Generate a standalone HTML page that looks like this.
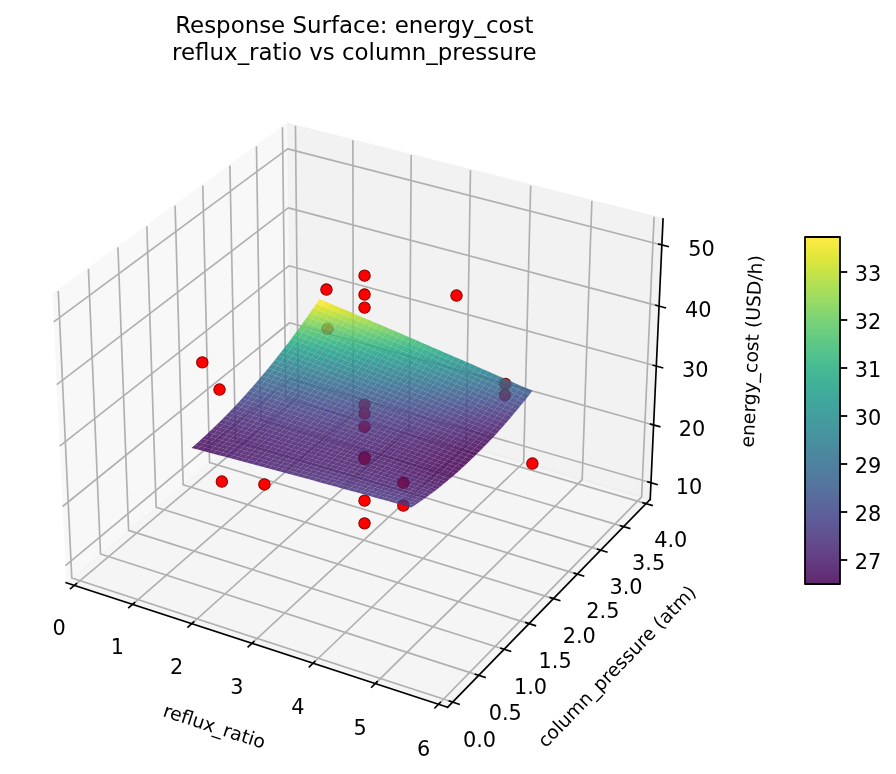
<!DOCTYPE html>
<html lang="en"><head><meta charset="utf-8"><title>Response Surface: energy_cost</title>
<style>html,body{margin:0;padding:0;background:#fff}svg{display:block}</style></head>
<body>
<svg width="896" height="774" viewBox="0 0.024 430.08 371.52" role="img" aria-label="Response Surface: energy_cost, reflux_ratio vs column_pressure">
<defs>
<style type="text/css">*{stroke-linejoin: round; stroke-linecap: butt}</style>
</defs>
<g id="figure_1">
<g id="patch_1">
<path d="M 0 371.592196 L 430.197 371.592196 L 430.197 0 L 0 0z" style="fill: #ffffff"/>
</g>
<g id="patch_2">
<path d="M 7.2 360.053812 L 333.072 360.053812 L 333.072 34.181812 L 7.2 34.181812z" style="fill: #ffffff"/>
</g>
<g id="pane3d_1">
<g id="patch_3">
<path d="M 31.805583 279.704221 L 139.41916 189.500387 L 137.923228 59.410333 L 25.159787 141.699956" style="fill: #f2f2f2; opacity: 0.5; stroke: #f2f2f2; stroke-linejoin: miter"/>
</g>
</g>
<g id="pane3d_2">
<g id="patch_4">
<path d="M 139.41916 189.500387 L 312.100554 239.692051 L 318.262945 105.121194 L 137.923228 59.410333" style="fill: #e6e6e6; opacity: 0.5; stroke: #e6e6e6; stroke-linejoin: miter"/>
</g>
</g>
<g id="pane3d_3">
<g id="patch_5">
<path d="M 31.805583 279.704221 L 214.856295 339.488583 L 312.100554 239.692051 L 139.41916 189.500387" style="fill: #ececec; opacity: 0.5; stroke: #ececec; stroke-linejoin: miter"/>
</g>
</g>
<g id="grid3d_1">
<g id="Line3DCollection_1">
<path d="M 35.74728 280.991579 L 143.153668 190.585861 L 141.815312 60.396863" style="fill: none; stroke: #b0b0b0; stroke-width: 0.8"/>
<path d="M 63.669056 290.110831 L 169.587422 198.269109 L 169.374581 67.382334" style="fill: none; stroke: #b0b0b0; stroke-width: 0.8"/>
<path d="M 92.055416 299.381816 L 196.424476 206.069581 L 197.372538 74.479" style="fill: none; stroke: #b0b0b0; stroke-width: 0.8"/>
<path d="M 120.918054 308.808353 L 223.674132 213.989981 L 225.819742 81.689537" style="fill: none; stroke: #b0b0b0; stroke-width: 0.8"/>
<path d="M 150.269057 318.394391 L 251.345979 222.033094 L 254.727093 89.016707" style="fill: none; stroke: #b0b0b0; stroke-width: 0.8"/>
<path d="M 180.120925 328.144011 L 279.449905 230.201796 L 284.105846 96.463365" style="fill: none; stroke: #b0b0b0; stroke-width: 0.8"/>
<path d="M 210.486591 338.061437 L 307.99611 238.499051 L 313.967627 104.032456" style="fill: none; stroke: #b0b0b0; stroke-width: 0.8"/>
</g>
</g>
<g id="grid3d_2">
<g id="Line3DCollection_2">
<path d="M 27.94867 139.664756 L 34.457261 277.481532 L 217.262805 337.018912" style="fill: none; stroke: #b0b0b0; stroke-width: 0.8"/>
<path d="M 42.435434 129.092976 L 48.239316 265.92914 L 229.76216 324.191499" style="fill: none; stroke: #b0b0b0; stroke-width: 0.8"/>
<path d="M 56.607883 118.750568 L 61.735347 254.616499 L 241.9884 311.644368" style="fill: none; stroke: #b0b0b0; stroke-width: 0.8"/>
<path d="M 70.476138 108.630148 L 74.954168 243.536222 L 253.950381 299.368434" style="fill: none; stroke: #b0b0b0; stroke-width: 0.8"/>
<path d="M 84.049887 98.724643 L 87.904231 232.681222 L 265.656577 287.354997" style="fill: none; stroke: #b0b0b0; stroke-width: 0.8"/>
<path d="M 97.338414 89.027282 L 100.593652 222.044698 L 277.115107 275.595726" style="fill: none; stroke: #b0b0b0; stroke-width: 0.8"/>
<path d="M 110.350615 79.53157 L 113.03022 211.62012 L 288.333747 264.082641" style="fill: none; stroke: #b0b0b0; stroke-width: 0.8"/>
<path d="M 123.095021 70.231283 L 125.221418 201.401216 L 299.319954 252.80809" style="fill: none; stroke: #b0b0b0; stroke-width: 0.8"/>
<path d="M 135.579814 61.12045 L 137.174438 191.381958 L 310.080877 241.764737" style="fill: none; stroke: #b0b0b0; stroke-width: 0.8"/>
</g>
</g>
<g id="grid3d_3">
<g id="Line3DCollection_3">
<path d="M 312.464672 231.740643 L 139.330594 181.798455 L 31.413525 271.56287" style="fill: none; stroke: #b0b0b0; stroke-width: 0.8"/>
<path d="M 313.735172 203.996185 L 139.021738 154.939535 L 30.044922 243.142952" style="fill: none; stroke: #b0b0b0; stroke-width: 0.8"/>
<path d="M 315.029295 175.735837 L 138.707415 127.60523 L 28.649893 214.174272" style="fill: none; stroke: #b0b0b0; stroke-width: 0.8"/>
<path d="M 316.347708 146.945076 L 138.38748 99.782804 L 27.227665 184.640781" style="fill: none; stroke: #b0b0b0; stroke-width: 0.8"/>
<path d="M 317.6911 117.608827 L 138.061779 71.459066 L 25.777434 154.525798" style="fill: none; stroke: #b0b0b0; stroke-width: 0.8"/>
</g>
</g>
<g id="axis3d_1">
<g id="line2d_1">
<path d="M 31.805583 279.704221 L 214.856295 339.488583" style="fill: none; stroke: #000000; stroke-width: 0.8; stroke-linecap: square"/>
</g>
<g id="xtick_1">
<g id="line2d_2">
<path d="M 36.682409 280.204466 L 33.873018 282.569176" style="fill: none; stroke: #000000; stroke-width: 0.8; stroke-linecap: square"/>
</g>
<g id="text_1">
<text style="font-size: 10px; font-family: 'DejaVu Sans', 'Liberation Sans', sans-serif; text-anchor: middle" x="28.41" y="304.874" transform="rotate(-0 28.41 304.874)">0</text>
</g>
</g>
<g id="xtick_2">
<g id="line2d_3">
<path d="M 64.591846 289.31068 L 61.819491 291.714586" style="fill: none; stroke: #000000; stroke-width: 0.8; stroke-linecap: square"/>
</g>
<g id="text_2">
<text style="font-size: 10px; font-family: 'DejaVu Sans', 'Liberation Sans', sans-serif; text-anchor: middle" x="56.354" y="314.15" transform="rotate(-0 56.354 314.15)">1</text>
</g>
</g>
<g id="xtick_3">
<g id="line2d_4">
<path d="M 92.965327 298.568301 L 90.231635 301.012387" style="fill: none; stroke: #000000; stroke-width: 0.8; stroke-linecap: square"/>
</g>
<g id="text_3">
<text style="font-size: 10px; font-family: 'DejaVu Sans', 'Liberation Sans', sans-serif; text-anchor: middle" x="84.765" y="323.582" transform="rotate(-0 84.765 323.582)">2</text>
</g>
</g>
<g id="xtick_4">
<g id="line2d_5">
<path d="M 121.814521 307.981137 L 119.121185 310.466417" style="fill: none; stroke: #000000; stroke-width: 0.8; stroke-linecap: square"/>
</g>
<g id="text_4">
<text style="font-size: 10px; font-family: 'DejaVu Sans', 'Liberation Sans', sans-serif; text-anchor: middle" x="113.655" y="333.172" transform="rotate(-0 113.655 333.172)">3</text>
</g>
</g>
<g id="xtick_5">
<g id="line2d_6">
<path d="M 151.151493 317.553124 L 148.500278 320.080649" style="fill: none; stroke: #000000; stroke-width: 0.8; stroke-linecap: square"/>
</g>
<g id="text_5">
<text style="font-size: 10px; font-family: 'DejaVu Sans', 'Liberation Sans', sans-serif; text-anchor: middle" x="143.034" y="342.925" transform="rotate(-0 143.034 342.925)">4</text>
</g>
</g>
<g id="xtick_6">
<g id="line2d_7">
<path d="M 180.98872 327.288332 L 178.381462 329.85919" style="fill: none; stroke: #000000; stroke-width: 0.8; stroke-linecap: square"/>
</g>
<g id="text_6">
<text style="font-size: 10px; font-family: 'DejaVu Sans', 'Liberation Sans', sans-serif; text-anchor: middle" x="172.917" y="352.845" transform="rotate(-0 172.917 352.845)">5</text>
</g>
</g>
<g id="xtick_7">
<g id="line2d_8">
<path d="M 211.339107 337.190973 L 208.777719 339.806286" style="fill: none; stroke: #000000; stroke-width: 0.8; stroke-linecap: square"/>
</g>
<g id="text_7">
<text style="font-size: 10px; font-family: 'DejaVu Sans', 'Liberation Sans', sans-serif; text-anchor: middle" x="203.315" y="362.937" transform="rotate(-0 203.315 362.937)">6</text>
</g>
</g>
<g id="text_8">
<text style="font-size: 9px; font-family: 'DejaVu Sans', 'Liberation Sans', sans-serif; text-anchor: middle" x="101.951" y="351.596" transform="rotate(-341.913 101.951 351.596)">reflux_ratio</text>
</g>
</g>
<g id="axis3d_2">
<g id="line2d_9">
<path d="M 312.100554 239.692051 L 214.856295 339.488583" style="fill: none; stroke: #000000; stroke-width: 0.8; stroke-linecap: square"/>
</g>
<g id="xtick_8">
<g id="line2d_10">
<path d="M 215.721998 336.517091 L 220.348419 338.023856" style="fill: none; stroke: #000000; stroke-width: 0.8; stroke-linecap: square"/>
</g>
<g id="text_9">
<text style="font-size: 10px; font-family: 'DejaVu Sans', 'Liberation Sans', sans-serif; text-anchor: middle" x="230.189" y="358.765" transform="rotate(-0 230.189 358.765)">0.0</text>
</g>
</g>
<g id="xtick_9">
<g id="line2d_11">
<path d="M 228.233024 323.7007 L 232.824359 325.174355" style="fill: none; stroke: #000000; stroke-width: 0.8; stroke-linecap: square"/>
</g>
<g id="text_10">
<text style="font-size: 10px; font-family: 'DejaVu Sans', 'Liberation Sans', sans-serif; text-anchor: middle" x="242.552" y="345.782" transform="rotate(-0 242.552 345.782)">0.5</text>
</g>
</g>
<g id="xtick_10">
<g id="line2d_12">
<path d="M 240.470795 311.164233 L 245.027465 312.605857" style="fill: none; stroke: #000000; stroke-width: 0.8; stroke-linecap: square"/>
</g>
<g id="text_11">
<text style="font-size: 10px; font-family: 'DejaVu Sans', 'Liberation Sans', sans-serif; text-anchor: middle" x="254.644" y="333.084" transform="rotate(-0 254.644 333.084)">1.0</text>
</g>
</g>
<g id="xtick_11">
<g id="line2d_13">
<path d="M 252.444168 298.898618 L 256.96659 300.309245" style="fill: none; stroke: #000000; stroke-width: 0.8; stroke-linecap: square"/>
</g>
<g id="text_12">
<text style="font-size: 10px; font-family: 'DejaVu Sans', 'Liberation Sans', sans-serif; text-anchor: middle" x="266.475" y="320.659" transform="rotate(-0 266.475 320.659)">1.5</text>
</g>
</g>
<g id="xtick_12">
<g id="line2d_14">
<path d="M 264.161619 286.895172 L 268.650208 288.27579" style="fill: none; stroke: #000000; stroke-width: 0.8; stroke-linecap: square"/>
</g>
<g id="text_13">
<text style="font-size: 10px; font-family: 'DejaVu Sans', 'Liberation Sans', sans-serif; text-anchor: middle" x="278.053" y="308.501" transform="rotate(-0 278.053 308.501)">2.0</text>
</g>
</g>
<g id="xtick_13">
<g id="line2d_15">
<path d="M 275.631267 275.145576 L 280.086435 276.497133" style="fill: none; stroke: #000000; stroke-width: 0.8; stroke-linecap: square"/>
</g>
<g id="text_14">
<text style="font-size: 10px; font-family: 'DejaVu Sans', 'Liberation Sans', sans-serif; text-anchor: middle" x="289.385" y="296.6" transform="rotate(-0 289.385 296.6)">2.5</text>
</g>
</g>
<g id="xtick_14">
<g id="line2d_16">
<path d="M 286.86089 263.641864 L 291.283045 264.965268" style="fill: none; stroke: #000000; stroke-width: 0.8; stroke-linecap: square"/>
</g>
<g id="text_15">
<text style="font-size: 10px; font-family: 'DejaVu Sans', 'Liberation Sans', sans-serif; text-anchor: middle" x="300.481" y="284.948" transform="rotate(-0 300.481 284.948)">3.0</text>
</g>
</g>
<g id="xtick_15">
<g id="line2d_17">
<path d="M 297.857945 252.376396 L 302.247492 253.672518" style="fill: none; stroke: #000000; stroke-width: 0.8; stroke-linecap: square"/>
</g>
<g id="text_16">
<text style="font-size: 10px; font-family: 'DejaVu Sans', 'Liberation Sans', sans-serif; text-anchor: middle" x="311.346" y="273.538" transform="rotate(-0 311.346 273.538)">3.5</text>
</g>
</g>
<g id="xtick_16">
<g id="line2d_18">
<path d="M 308.629583 241.341848 L 312.986922 242.611522" style="fill: none; stroke: #000000; stroke-width: 0.8; stroke-linecap: square"/>
</g>
<g id="text_17">
<text style="font-size: 10px; font-family: 'DejaVu Sans', 'Liberation Sans', sans-serif; text-anchor: middle" x="321.988" y="262.362" transform="rotate(-0 321.988 262.362)">4.0</text>
</g>
</g>
<g id="text_18">
<text style="font-size: 9px; font-family: 'DejaVu Sans', 'Liberation Sans', sans-serif; text-anchor: middle" x="298.293" y="322.047" transform="rotate(-45.742 298.293 322.047)">column_pressure (atm)</text>
</g>
</g>
<g id="axis3d_3">
<g id="line2d_19">
<path d="M 312.100554 239.692051 L 318.262945 105.121194" style="fill: none; stroke: #000000; stroke-width: 0.8; stroke-linecap: square"/>
</g>
<g id="xtick_17">
<g id="line2d_20">
<path d="M 311.011421 231.321439 L 315.374641 232.580052" style="fill: none; stroke: #000000; stroke-width: 0.8; stroke-linecap: square"/>
</g>
<g id="text_19">
<text style="font-size: 10px; font-family: 'DejaVu Sans', 'Liberation Sans', sans-serif; text-anchor: middle" x="330.771" y="236.985" transform="rotate(-0 330.771 236.985)">10</text>
</g>
</g>
<g id="xtick_18">
<g id="line2d_21">
<path d="M 312.26803 203.584236 L 316.672987 204.821075" style="fill: none; stroke: #000000; stroke-width: 0.8; stroke-linecap: square"/>
</g>
<g id="text_20">
<text style="font-size: 10px; font-family: 'DejaVu Sans', 'Liberation Sans', sans-serif; text-anchor: middle" x="332.206" y="209.286" transform="rotate(-0 332.206 209.286)">20</text>
</g>
</g>
<g id="xtick_19">
<g id="line2d_22">
<path d="M 313.547995 175.331487 L 317.995493 176.545521" style="fill: none; stroke: #000000; stroke-width: 0.8; stroke-linecap: square"/>
</g>
<g id="text_21">
<text style="font-size: 10px; font-family: 'DejaVu Sans', 'Liberation Sans', sans-serif; text-anchor: middle" x="333.668" y="181.072" transform="rotate(-0 333.668 181.072)">30</text>
</g>
</g>
<g id="xtick_20">
<g id="line2d_23">
<path d="M 314.851974 146.548683 L 319.342842 147.738834" style="fill: none; stroke: #000000; stroke-width: 0.8; stroke-linecap: square"/>
</g>
<g id="text_22">
<text style="font-size: 10px; font-family: 'DejaVu Sans', 'Liberation Sans', sans-serif; text-anchor: middle" x="335.158" y="152.331" transform="rotate(-0 335.158 152.331)">40</text>
</g>
</g>
<g id="xtick_21">
<g id="line2d_24">
<path d="M 316.180649 117.220767 L 320.71574 118.385907" style="fill: none; stroke: #000000; stroke-width: 0.8; stroke-linecap: square"/>
</g>
<g id="text_23">
<text style="font-size: 10px; font-family: 'DejaVu Sans', 'Liberation Sans', sans-serif; text-anchor: middle" x="336.676" y="123.046" transform="rotate(-0 336.676 123.046)">50</text>
</g>
</g>
<g id="text_24">
<text style="font-size: 9px; font-family: 'DejaVu Sans', 'Liberation Sans', sans-serif; text-anchor: middle" x="363.847" y="168.813" transform="rotate(-87.378 363.847 168.813)">energy_cost (USD/h)</text>
</g>
</g>
<g id="axes_1">
<g id="points" fill="#ff0000" stroke="#8b0000" stroke-width="0.5">
<circle cx="156.7" cy="139.02" r="2.739"/>
<circle cx="157.18" cy="157.85" r="2.739"/>
<circle cx="193.6" cy="231.78" r="2.739"/>
<circle cx="193.6" cy="242.7" r="2.739"/>
<circle cx="242.55" cy="184.31" r="2.739"/>
<circle cx="242.35" cy="189.67" r="2.739"/>
<circle cx="105.37" cy="187" r="2.739"/>
<circle cx="106.48" cy="231.16" r="2.739"/>
<circle cx="97.11" cy="173.97" r="2.739"/>
<circle cx="255.54" cy="222.52" r="2.739"/>
<circle cx="219.12" cy="141.89" r="2.739"/>
<circle cx="126.92" cy="232.55" r="2.739"/>
<circle cx="174.97" cy="132.33" r="2.739"/>
<circle cx="174.97" cy="141.42" r="2.739"/>
<circle cx="174.97" cy="147.68" r="2.739"/>
<circle cx="174.97" cy="194.28" r="2.739"/>
<circle cx="174.97" cy="198.55" r="2.739"/>
<circle cx="174.97" cy="204.88" r="2.739"/>
<circle cx="174.97" cy="219.44" r="2.739"/>
<circle cx="174.97" cy="220.29" r="2.739"/>
<circle cx="174.97" cy="240.33" r="2.739"/>
<circle cx="174.97" cy="251.24" r="2.739"/>
</g>
<g id="surface" fill-opacity="0.85">
<path d="M151.84 145.78 154.4 146.85 155.9 144.64 153.34 143.56z" fill="#fde725"/>
<path d="M154.4 146.85 156.96 147.92 158.47 145.72 155.9 144.64z" fill="#f4e61e"/>
<path d="M156.96 147.92 159.53 148.99 161.03 146.8 158.47 145.72z" fill="#e7e419"/>
<path d="M159.53 148.99 162.1 150.07 163.6 147.89 161.03 146.8z" fill="#dde318"/>
<path d="M162.1 150.07 164.68 151.15 166.18 148.98 163.6 147.89z" fill="#d0e11c"/>
<path d="M164.68 151.15 167.26 152.24 168.75 150.07 166.18 148.98z" fill="#c2df23"/>
<path d="M167.26 152.24 169.84 153.32 171.33 151.17 168.75 150.07z" fill="#b8de29"/>
<path d="M169.84 153.32 172.42 154.41 173.92 152.27 171.33 151.17z" fill="#aadc32"/>
<path d="M172.42 154.41 175.01 155.5 176.5 153.37 173.92 152.27z" fill="#9dd93b"/>
<path d="M175.01 155.5 177.6 156.59 179.09 154.47 176.5 153.37z" fill="#93d741"/>
<path d="M177.6 156.59 180.19 157.69 181.68 155.58 179.09 154.47z" fill="#86d549"/>
<path d="M180.19 157.69 182.79 158.79 184.28 156.68 181.68 155.58z" fill="#7ad151"/>
<path d="M182.79 158.79 185.39 159.89 186.87 157.8 184.28 156.68z" fill="#6ece58"/>
<path d="M185.39 159.89 187.99 160.99 189.48 158.91 186.87 157.8z" fill="#65cb5e"/>
<path d="M187.99 160.99 190.6 162.1 192.08 160.02 189.48 158.91z" fill="#5ac864"/>
<path d="M190.6 162.1 193.21 163.21 194.69 161.14 192.08 160.02z" fill="#50c46a"/>
<path d="M193.21 163.21 195.82 164.32 197.3 162.27 194.69 161.14z" fill="#46c06f"/>
<path d="M195.82 164.32 198.44 165.43 199.91 163.39 197.3 162.27z" fill="#3dbc74"/>
<path d="M198.44 165.43 201.06 166.55 202.53 164.52 199.91 163.39z" fill="#35b779"/>
<path d="M201.06 166.55 203.68 167.67 205.15 165.65 202.53 164.52z" fill="#2fb47c"/>
<path d="M203.68 167.67 206.3 168.79 207.78 166.78 205.15 165.65z" fill="#29af7f"/>
<path d="M206.3 168.79 208.93 169.92 210.4 167.91 207.78 166.78z" fill="#25ab82"/>
<path d="M208.93 169.92 211.57 171.04 213.03 169.05 210.4 167.91z" fill="#21a685"/>
<path d="M211.57 171.04 214.2 172.17 215.67 170.19 213.03 169.05z" fill="#1fa187"/>
<path d="M214.2 172.17 216.84 173.31 218.3 171.33 215.67 170.19z" fill="#1e9d89"/>
<path d="M216.84 173.31 219.48 174.44 220.94 172.48 218.3 171.33z" fill="#1f988b"/>
<path d="M219.48 174.44 222.13 175.58 223.58 173.63 220.94 172.48z" fill="#20938c"/>
<path d="M222.13 175.58 224.77 176.72 226.23 174.78 223.58 173.63z" fill="#218f8d"/>
<path d="M224.77 176.72 227.43 177.87 228.88 175.93 226.23 174.78z" fill="#238a8d"/>
<path d="M227.43 177.87 230.08 179.01 231.53 177.09 228.88 175.93z" fill="#25858e"/>
<path d="M230.08 179.01 232.74 180.16 234.19 178.25 231.53 177.09z" fill="#26818e"/>
<path d="M232.74 180.16 235.4 181.31 236.85 179.41 234.19 178.25z" fill="#287c8e"/>
<path d="M235.4 181.31 238.06 182.47 239.51 180.57 236.85 179.41z" fill="#2a778e"/>
<path d="M238.06 182.47 240.73 183.63 242.17 181.74 239.51 180.57z" fill="#2c728e"/>
<path d="M240.73 183.63 243.4 184.79 244.84 182.91 242.17 181.74z" fill="#2e6e8e"/>
<path d="M243.4 184.79 246.08 185.95 247.51 184.08 244.84 182.91z" fill="#31688e"/>
<path d="M246.08 185.95 248.75 187.11 250.19 185.26 247.51 184.08z" fill="#33638d"/>
<path d="M248.75 187.11 251.43 188.28 252.87 186.44 250.19 185.26z" fill="#355e8d"/>
<path d="M251.43 188.28 254.12 189.45 255.55 187.62 252.87 186.44z" fill="#38598c"/>
<path d="M150.33 147.98 152.89 149.04 154.4 146.85 151.84 145.78z" fill="#dfe318"/>
<path d="M152.89 149.04 155.46 150.1 156.96 147.92 154.4 146.85z" fill="#d5e21a"/>
<path d="M155.46 150.1 158.03 151.17 159.53 148.99 156.96 147.92z" fill="#c8e020"/>
<path d="M158.03 151.17 160.6 152.23 162.1 150.07 159.53 148.99z" fill="#bddf26"/>
<path d="M160.6 152.23 163.18 153.3 164.68 151.15 162.1 150.07z" fill="#b0dd2f"/>
<path d="M163.18 153.3 165.76 154.38 167.26 152.24 164.68 151.15z" fill="#a5db36"/>
<path d="M165.76 154.38 168.34 155.45 169.84 153.32 167.26 152.24z" fill="#98d83e"/>
<path d="M168.34 155.45 170.92 156.53 172.42 154.41 169.84 153.32z" fill="#8ed645"/>
<path d="M170.92 156.53 173.51 157.61 175.01 155.5 172.42 154.41z" fill="#81d34d"/>
<path d="M173.51 157.61 176.1 158.69 177.6 156.59 175.01 155.5z" fill="#77d153"/>
<path d="M176.1 158.69 178.7 159.78 180.19 157.69 177.6 156.59z" fill="#6ccd5a"/>
<path d="M178.7 159.78 181.3 160.87 182.79 158.79 180.19 157.69z" fill="#63cb5f"/>
<path d="M181.3 160.87 183.9 161.96 185.39 159.89 182.79 158.79z" fill="#58c765"/>
<path d="M183.9 161.96 186.51 163.05 187.99 160.99 185.39 159.89z" fill="#4ec36b"/>
<path d="M186.51 163.05 189.11 164.15 190.6 162.1 187.99 160.99z" fill="#46c06f"/>
<path d="M189.11 164.15 191.73 165.25 193.21 163.21 190.6 162.1z" fill="#3dbc74"/>
<path d="M191.73 165.25 194.34 166.35 195.82 164.32 193.21 163.21z" fill="#35b779"/>
<path d="M194.34 166.35 196.96 167.46 198.44 165.43 195.82 164.32z" fill="#2fb47c"/>
<path d="M196.96 167.46 199.58 168.56 201.06 166.55 198.44 165.43z" fill="#29af7f"/>
<path d="M199.58 168.56 202.2 169.67 203.68 167.67 201.06 166.55z" fill="#25ab82"/>
<path d="M202.2 169.67 204.83 170.79 206.3 168.79 203.68 167.67z" fill="#22a785"/>
<path d="M204.83 170.79 207.46 171.9 208.93 169.92 206.3 168.79z" fill="#1fa287"/>
<path d="M207.46 171.9 210.1 173.02 211.57 171.04 208.93 169.92z" fill="#1f9e89"/>
<path d="M210.1 173.02 212.73 174.14 214.2 172.17 211.57 171.04z" fill="#1f998a"/>
<path d="M212.73 174.14 215.37 175.26 216.84 173.31 214.2 172.17z" fill="#1f948c"/>
<path d="M215.37 175.26 218.02 176.39 219.48 174.44 216.84 173.31z" fill="#21918c"/>
<path d="M218.02 176.39 220.66 177.52 222.13 175.58 219.48 174.44z" fill="#228c8d"/>
<path d="M220.66 177.52 223.31 178.65 224.77 176.72 222.13 175.58z" fill="#24878e"/>
<path d="M223.31 178.65 225.97 179.78 227.43 177.87 224.77 176.72z" fill="#26828e"/>
<path d="M225.97 179.78 228.63 180.92 230.08 179.01 227.43 177.87z" fill="#277e8e"/>
<path d="M228.63 180.92 231.29 182.06 232.74 180.16 230.08 179.01z" fill="#29798e"/>
<path d="M231.29 182.06 233.95 183.2 235.4 181.31 232.74 180.16z" fill="#2b748e"/>
<path d="M233.95 183.2 236.62 184.34 238.06 182.47 235.4 181.31z" fill="#2d708e"/>
<path d="M236.62 184.34 239.29 185.49 240.73 183.63 238.06 182.47z" fill="#2f6c8e"/>
<path d="M239.29 185.49 241.96 186.64 243.4 184.79 240.73 183.63z" fill="#31678e"/>
<path d="M241.96 186.64 244.63 187.79 246.08 185.95 243.4 184.79z" fill="#33628d"/>
<path d="M244.63 187.79 247.31 188.95 248.75 187.11 246.08 185.95z" fill="#365d8d"/>
<path d="M247.31 188.95 250 190.11 251.43 188.28 248.75 187.11z" fill="#38588c"/>
<path d="M250 190.11 252.68 191.27 254.12 189.45 251.43 188.28z" fill="#3b528b"/>
<path d="M148.82 150.16 151.38 151.21 152.89 149.04 150.33 147.98z" fill="#c0df25"/>
<path d="M151.38 151.21 153.95 152.26 155.46 150.1 152.89 149.04z" fill="#b5de2b"/>
<path d="M153.95 152.26 156.52 153.32 158.03 151.17 155.46 150.1z" fill="#aadc32"/>
<path d="M156.52 153.32 159.09 154.37 160.6 152.23 158.03 151.17z" fill="#a0da39"/>
<path d="M159.09 154.37 161.67 155.43 163.18 153.3 160.6 152.23z" fill="#93d741"/>
<path d="M161.67 155.43 164.25 156.5 165.76 154.38 163.18 153.3z" fill="#89d548"/>
<path d="M164.25 156.5 166.84 157.56 168.34 155.45 165.76 154.38z" fill="#7cd250"/>
<path d="M166.84 157.56 169.42 158.63 170.92 156.53 168.34 155.45z" fill="#73d056"/>
<path d="M169.42 158.63 172.01 159.7 173.51 157.61 170.92 156.53z" fill="#69cd5b"/>
<path d="M172.01 159.7 174.61 160.78 176.1 158.69 173.51 157.61z" fill="#5ec962"/>
<path d="M174.61 160.78 177.2 161.85 178.7 159.78 176.1 158.69z" fill="#56c667"/>
<path d="M177.2 161.85 179.81 162.93 181.3 160.87 178.7 159.78z" fill="#4cc26c"/>
<path d="M179.81 162.93 182.41 164.01 183.9 161.96 181.3 160.87z" fill="#44bf70"/>
<path d="M182.41 164.01 185.02 165.1 186.51 163.05 183.9 161.96z" fill="#3bbb75"/>
<path d="M185.02 165.1 187.63 166.18 189.11 164.15 186.51 163.05z" fill="#35b779"/>
<path d="M187.63 166.18 190.24 167.27 191.73 165.25 189.11 164.15z" fill="#2eb37c"/>
<path d="M190.24 167.27 192.86 168.36 194.34 166.35 191.73 165.25z" fill="#29af7f"/>
<path d="M192.86 168.36 195.48 169.46 196.96 167.46 194.34 166.35z" fill="#25ab82"/>
<path d="M195.48 169.46 198.1 170.56 199.58 168.56 196.96 167.46z" fill="#22a785"/>
<path d="M198.1 170.56 200.72 171.66 202.2 169.67 199.58 168.56z" fill="#1fa287"/>
<path d="M200.72 171.66 203.35 172.76 204.83 170.79 202.2 169.67z" fill="#1f9f88"/>
<path d="M203.35 172.76 205.99 173.86 207.46 171.9 204.83 170.79z" fill="#1f9a8a"/>
<path d="M205.99 173.86 208.62 174.97 210.1 173.02 207.46 171.9z" fill="#1f968b"/>
<path d="M208.62 174.97 211.26 176.08 212.73 174.14 210.1 173.02z" fill="#20928c"/>
<path d="M211.26 176.08 213.9 177.19 215.37 175.26 212.73 174.14z" fill="#228d8d"/>
<path d="M213.9 177.19 216.55 178.31 218.02 176.39 215.37 175.26z" fill="#23898e"/>
<path d="M216.55 178.31 219.2 179.43 220.66 177.52 218.02 176.39z" fill="#25848e"/>
<path d="M219.2 179.43 221.85 180.55 223.31 178.65 220.66 177.52z" fill="#27808e"/>
<path d="M221.85 180.55 224.51 181.67 225.97 179.78 223.31 178.65z" fill="#297b8e"/>
<path d="M224.51 181.67 227.17 182.8 228.63 180.92 225.97 179.78z" fill="#2a778e"/>
<path d="M227.17 182.8 229.83 183.93 231.29 182.06 228.63 180.92z" fill="#2c728e"/>
<path d="M229.83 183.93 232.5 185.06 233.95 183.2 231.29 182.06z" fill="#2e6e8e"/>
<path d="M232.5 185.06 235.16 186.2 236.62 184.34 233.95 183.2z" fill="#30698e"/>
<path d="M235.16 186.2 237.84 187.34 239.29 185.49 236.62 184.34z" fill="#32658e"/>
<path d="M237.84 187.34 240.51 188.48 241.96 186.64 239.29 185.49z" fill="#34608d"/>
<path d="M240.51 188.48 243.19 189.62 244.63 187.79 241.96 186.64z" fill="#375b8d"/>
<path d="M243.19 189.62 245.87 190.76 247.31 188.95 244.63 187.79z" fill="#39558c"/>
<path d="M245.87 190.76 248.56 191.91 250 190.11 247.31 188.95z" fill="#3c508b"/>
<path d="M248.56 191.91 251.25 193.06 252.68 191.27 250 190.11z" fill="#3e4a89"/>
<path d="M147.3 152.32 149.87 153.36 151.38 151.21 148.82 150.16z" fill="#a2da37"/>
<path d="M149.87 153.36 152.44 154.4 153.95 152.26 151.38 151.21z" fill="#98d83e"/>
<path d="M152.44 154.4 155.01 155.45 156.52 153.32 153.95 152.26z" fill="#8ed645"/>
<path d="M155.01 155.45 157.58 156.49 159.09 154.37 156.52 153.32z" fill="#81d34d"/>
<path d="M157.58 156.49 160.16 157.54 161.67 155.43 159.09 154.37z" fill="#77d153"/>
<path d="M160.16 157.54 162.75 158.6 164.25 156.5 161.67 155.43z" fill="#6ece58"/>
<path d="M162.75 158.6 165.33 159.65 166.84 157.56 164.25 156.5z" fill="#65cb5e"/>
<path d="M165.33 159.65 167.92 160.71 169.42 158.63 166.84 157.56z" fill="#5cc863"/>
<path d="M167.92 160.71 170.51 161.77 172.01 159.7 169.42 158.63z" fill="#52c569"/>
<path d="M170.51 161.77 173.11 162.84 174.61 160.78 172.01 159.7z" fill="#4ac16d"/>
<path d="M173.11 162.84 175.71 163.9 177.2 161.85 174.61 160.78z" fill="#42be71"/>
<path d="M175.71 163.9 178.31 164.97 179.81 162.93 177.2 161.85z" fill="#3bbb75"/>
<path d="M178.31 164.97 180.91 166.04 182.41 164.01 179.81 162.93z" fill="#34b679"/>
<path d="M180.91 166.04 183.52 167.12 185.02 165.1 182.41 164.01z" fill="#2eb37c"/>
<path d="M183.52 167.12 186.13 168.19 187.63 166.18 185.02 165.1z" fill="#29af7f"/>
<path d="M186.13 168.19 188.75 169.27 190.24 167.27 187.63 166.18z" fill="#25ab82"/>
<path d="M188.75 169.27 191.37 170.36 192.86 168.36 190.24 167.27z" fill="#22a785"/>
<path d="M191.37 170.36 193.99 171.44 195.48 169.46 192.86 168.36z" fill="#1fa287"/>
<path d="M193.99 171.44 196.61 172.53 198.1 170.56 195.48 169.46z" fill="#1f9f88"/>
<path d="M196.61 172.53 199.24 173.62 200.72 171.66 198.1 170.56z" fill="#1e9b8a"/>
<path d="M199.24 173.62 201.87 174.71 203.35 172.76 200.72 171.66z" fill="#1f968b"/>
<path d="M201.87 174.71 204.51 175.81 205.99 173.86 203.35 172.76z" fill="#20928c"/>
<path d="M204.51 175.81 207.15 176.9 208.62 174.97 205.99 173.86z" fill="#218e8d"/>
<path d="M207.15 176.9 209.79 178 211.26 176.08 208.62 174.97z" fill="#238a8d"/>
<path d="M209.79 178 212.43 179.11 213.9 177.19 211.26 176.08z" fill="#25858e"/>
<path d="M212.43 179.11 215.08 180.21 216.55 178.31 213.9 177.19z" fill="#26828e"/>
<path d="M215.08 180.21 217.73 181.32 219.2 179.43 216.55 178.31z" fill="#287d8e"/>
<path d="M217.73 181.32 220.39 182.43 221.85 180.55 219.2 179.43z" fill="#29798e"/>
<path d="M220.39 182.43 223.05 183.55 224.51 181.67 221.85 180.55z" fill="#2b748e"/>
<path d="M223.05 183.55 225.71 184.66 227.17 182.8 224.51 181.67z" fill="#2d718e"/>
<path d="M225.71 184.66 228.37 185.78 229.83 183.93 227.17 182.8z" fill="#2f6c8e"/>
<path d="M228.37 185.78 231.04 186.91 232.5 185.06 229.83 183.93z" fill="#31678e"/>
<path d="M231.04 186.91 233.71 188.03 235.16 186.2 232.5 185.06z" fill="#33638d"/>
<path d="M233.71 188.03 236.39 189.16 237.84 187.34 235.16 186.2z" fill="#355e8d"/>
<path d="M236.39 189.16 239.06 190.29 240.51 188.48 237.84 187.34z" fill="#38598c"/>
<path d="M239.06 190.29 241.74 191.42 243.19 189.62 240.51 188.48z" fill="#3a548c"/>
<path d="M241.74 191.42 244.43 192.56 245.87 190.76 243.19 189.62z" fill="#3c4f8a"/>
<path d="M244.43 192.56 247.12 193.7 248.56 191.91 245.87 190.76z" fill="#3e4989"/>
<path d="M247.12 193.7 249.81 194.84 251.25 193.06 248.56 191.91z" fill="#404588"/>
<path d="M145.78 154.46 148.35 155.49 149.87 153.36 147.3 152.32z" fill="#86d549"/>
<path d="M148.35 155.49 150.92 156.52 152.44 154.4 149.87 153.36z" fill="#7cd250"/>
<path d="M150.92 156.52 153.49 157.56 155.01 155.45 152.44 154.4z" fill="#73d056"/>
<path d="M153.49 157.56 156.07 158.59 157.58 156.49 155.01 155.45z" fill="#69cd5b"/>
<path d="M156.07 158.59 158.65 159.63 160.16 157.54 157.58 156.49z" fill="#60ca60"/>
<path d="M158.65 159.63 161.24 160.68 162.75 158.6 160.16 157.54z" fill="#56c667"/>
<path d="M161.24 160.68 163.82 161.72 165.33 159.65 162.75 158.6z" fill="#4ec36b"/>
<path d="M163.82 161.72 166.41 162.77 167.92 160.71 165.33 159.65z" fill="#46c06f"/>
<path d="M166.41 162.77 169.01 163.82 170.51 161.77 167.92 160.71z" fill="#3fbc73"/>
<path d="M169.01 163.82 171.61 164.88 173.11 162.84 170.51 161.77z" fill="#38b977"/>
<path d="M171.61 164.88 174.21 165.93 175.71 163.9 173.11 162.84z" fill="#32b67a"/>
<path d="M174.21 165.93 176.81 166.99 178.31 164.97 175.71 163.9z" fill="#2db27d"/>
<path d="M176.81 166.99 179.42 168.05 180.91 166.04 178.31 164.97z" fill="#28ae80"/>
<path d="M179.42 168.05 182.03 169.12 183.52 167.12 180.91 166.04z" fill="#25ab82"/>
<path d="M182.03 169.12 184.64 170.19 186.13 168.19 183.52 167.12z" fill="#21a685"/>
<path d="M184.64 170.19 187.26 171.25 188.75 169.27 186.13 168.19z" fill="#1fa287"/>
<path d="M187.26 171.25 189.88 172.33 191.37 170.36 188.75 169.27z" fill="#1f9f88"/>
<path d="M189.88 172.33 192.5 173.4 193.99 171.44 191.37 170.36z" fill="#1e9b8a"/>
<path d="M192.5 173.4 195.13 174.48 196.61 172.53 193.99 171.44z" fill="#1f968b"/>
<path d="M195.13 174.48 197.76 175.56 199.24 173.62 196.61 172.53z" fill="#20928c"/>
<path d="M197.76 175.56 200.39 176.64 201.87 174.71 199.24 173.62z" fill="#218f8d"/>
<path d="M200.39 176.64 203.03 177.73 204.51 175.81 201.87 174.71z" fill="#228b8d"/>
<path d="M203.03 177.73 205.67 178.82 207.15 176.9 204.51 175.81z" fill="#24868e"/>
<path d="M205.67 178.82 208.31 179.91 209.79 178 207.15 176.9z" fill="#26828e"/>
<path d="M208.31 179.91 210.96 181 212.43 179.11 209.79 178z" fill="#277f8e"/>
<path d="M210.96 181 213.61 182.1 215.08 180.21 212.43 179.11z" fill="#297a8e"/>
<path d="M213.61 182.1 216.26 183.19 217.73 181.32 215.08 180.21z" fill="#2a768e"/>
<path d="M216.26 183.19 218.92 184.3 220.39 182.43 217.73 181.32z" fill="#2c728e"/>
<path d="M218.92 184.3 221.58 185.4 223.05 183.55 220.39 182.43z" fill="#2e6e8e"/>
<path d="M221.58 185.4 224.24 186.51 225.71 184.66 223.05 183.55z" fill="#306a8e"/>
<path d="M224.24 186.51 226.91 187.62 228.37 185.78 225.71 184.66z" fill="#32658e"/>
<path d="M226.91 187.62 229.58 188.73 231.04 186.91 228.37 185.78z" fill="#34618d"/>
<path d="M229.58 188.73 232.25 189.84 233.71 188.03 231.04 186.91z" fill="#365c8d"/>
<path d="M232.25 189.84 234.93 190.96 236.39 189.16 233.71 188.03z" fill="#38588c"/>
<path d="M234.93 190.96 237.61 192.08 239.06 190.29 236.39 189.16z" fill="#3b528b"/>
<path d="M237.61 192.08 240.3 193.21 241.74 191.42 239.06 190.29z" fill="#3d4e8a"/>
<path d="M240.3 193.21 242.98 194.33 244.43 192.56 241.74 191.42z" fill="#3f4889"/>
<path d="M242.98 194.33 245.67 195.46 247.12 193.7 244.43 192.56z" fill="#414487"/>
<path d="M245.67 195.46 248.37 196.59 249.81 194.84 247.12 193.7z" fill="#433e85"/>
<path d="M144.26 156.58 146.83 157.6 148.35 155.49 145.78 154.46z" fill="#6ccd5a"/>
<path d="M146.83 157.6 149.4 158.62 150.92 156.52 148.35 155.49z" fill="#63cb5f"/>
<path d="M149.4 158.62 151.98 159.65 153.49 157.56 150.92 156.52z" fill="#5ac864"/>
<path d="M151.98 159.65 154.56 160.67 156.07 158.59 153.49 157.56z" fill="#52c569"/>
<path d="M154.56 160.67 157.14 161.7 158.65 159.63 156.07 158.59z" fill="#4ac16d"/>
<path d="M157.14 161.7 159.72 162.74 161.24 160.68 158.65 159.63z" fill="#42be71"/>
<path d="M159.72 162.74 162.31 163.77 163.82 161.72 161.24 160.68z" fill="#3bbb75"/>
<path d="M162.31 163.77 164.9 164.81 166.41 162.77 163.82 161.72z" fill="#35b779"/>
<path d="M164.9 164.81 167.5 165.85 169.01 163.82 166.41 162.77z" fill="#2fb47c"/>
<path d="M167.5 165.85 170.1 166.9 171.61 164.88 169.01 163.82z" fill="#2cb17e"/>
<path d="M170.1 166.9 172.7 167.94 174.21 165.93 171.61 164.88z" fill="#27ad81"/>
<path d="M172.7 167.94 175.31 168.99 176.81 166.99 174.21 165.93z" fill="#24aa83"/>
<path d="M175.31 168.99 177.92 170.05 179.42 168.05 176.81 166.99z" fill="#21a685"/>
<path d="M177.92 170.05 180.53 171.1 182.03 169.12 179.42 168.05z" fill="#1fa287"/>
<path d="M180.53 171.1 183.14 172.16 184.64 170.19 182.03 169.12z" fill="#1f9f88"/>
<path d="M183.14 172.16 185.76 173.22 187.26 171.25 184.64 170.19z" fill="#1f9a8a"/>
<path d="M185.76 173.22 188.38 174.28 189.88 172.33 187.26 171.25z" fill="#1f968b"/>
<path d="M188.38 174.28 191.01 175.34 192.5 173.4 189.88 172.33z" fill="#20928c"/>
<path d="M191.01 175.34 193.64 176.41 195.13 174.48 192.5 173.4z" fill="#218f8d"/>
<path d="M193.64 176.41 196.27 177.48 197.76 175.56 195.13 174.48z" fill="#228b8d"/>
<path d="M196.27 177.48 198.91 178.55 200.39 176.64 197.76 175.56z" fill="#24878e"/>
<path d="M198.91 178.55 201.55 179.63 203.03 177.73 200.39 176.64z" fill="#25838e"/>
<path d="M201.55 179.63 204.19 180.71 205.67 178.82 203.03 177.73z" fill="#27808e"/>
<path d="M204.19 180.71 206.83 181.79 208.31 179.91 205.67 178.82z" fill="#287c8e"/>
<path d="M206.83 181.79 209.48 182.87 210.96 181 208.31 179.91z" fill="#2a778e"/>
<path d="M209.48 182.87 212.13 183.96 213.61 182.1 210.96 181z" fill="#2c738e"/>
<path d="M212.13 183.96 214.79 185.05 216.26 183.19 213.61 182.1z" fill="#2d708e"/>
<path d="M214.79 185.05 217.45 186.14 218.92 184.3 216.26 183.19z" fill="#2f6c8e"/>
<path d="M217.45 186.14 220.11 187.23 221.58 185.4 218.92 184.3z" fill="#31678e"/>
<path d="M220.11 187.23 222.78 188.33 224.24 186.51 221.58 185.4z" fill="#33638d"/>
<path d="M222.78 188.33 225.45 189.43 226.91 187.62 224.24 186.51z" fill="#355f8d"/>
<path d="M225.45 189.43 228.12 190.53 229.58 188.73 226.91 187.62z" fill="#375b8d"/>
<path d="M228.12 190.53 230.79 191.64 232.25 189.84 229.58 188.73z" fill="#39558c"/>
<path d="M230.79 191.64 233.47 192.74 234.93 190.96 232.25 189.84z" fill="#3b518b"/>
<path d="M233.47 192.74 236.16 193.86 237.61 192.08 234.93 190.96z" fill="#3d4d8a"/>
<path d="M236.16 193.86 238.84 194.97 240.3 193.21 237.61 192.08z" fill="#3f4788"/>
<path d="M238.84 194.97 241.53 196.08 242.98 194.33 240.3 193.21z" fill="#414287"/>
<path d="M241.53 196.08 244.23 197.2 245.67 195.46 242.98 194.33z" fill="#433d84"/>
<path d="M244.23 197.2 246.92 198.32 248.37 196.59 245.67 195.46z" fill="#453882"/>
<path d="M142.73 158.68 145.3 159.69 146.83 157.6 144.26 156.58z" fill="#54c568"/>
<path d="M145.3 159.69 147.88 160.7 149.4 158.62 146.83 157.6z" fill="#4cc26c"/>
<path d="M147.88 160.7 150.46 161.72 151.98 159.65 149.4 158.62z" fill="#44bf70"/>
<path d="M150.46 161.72 153.04 162.73 154.56 160.67 151.98 159.65z" fill="#3fbc73"/>
<path d="M153.04 162.73 155.62 163.75 157.14 161.7 154.56 160.67z" fill="#38b977"/>
<path d="M155.62 163.75 158.21 164.78 159.72 162.74 157.14 161.7z" fill="#32b67a"/>
<path d="M158.21 164.78 160.8 165.8 162.31 163.77 159.72 162.74z" fill="#2eb37c"/>
<path d="M160.8 165.8 163.39 166.83 164.9 164.81 162.31 163.77z" fill="#29af7f"/>
<path d="M163.39 166.83 165.99 167.86 167.5 165.85 164.9 164.81z" fill="#25ac82"/>
<path d="M165.99 167.86 168.59 168.9 170.1 166.9 167.5 165.85z" fill="#22a884"/>
<path d="M168.59 168.9 171.19 169.93 172.7 167.94 170.1 166.9z" fill="#20a486"/>
<path d="M171.19 169.93 173.8 170.97 175.31 168.99 172.7 167.94z" fill="#1fa187"/>
<path d="M173.8 170.97 176.41 172.02 177.92 170.05 175.31 168.99z" fill="#1f9e89"/>
<path d="M176.41 172.02 179.03 173.06 180.53 171.1 177.92 170.05z" fill="#1f9a8a"/>
<path d="M179.03 173.06 181.64 174.11 183.14 172.16 180.53 171.1z" fill="#1f968b"/>
<path d="M181.64 174.11 184.26 175.16 185.76 173.22 183.14 172.16z" fill="#20928c"/>
<path d="M184.26 175.16 186.89 176.21 188.38 174.28 185.76 173.22z" fill="#218f8d"/>
<path d="M186.89 176.21 189.52 177.26 191.01 175.34 188.38 174.28z" fill="#228b8d"/>
<path d="M189.52 177.26 192.15 178.32 193.64 176.41 191.01 175.34z" fill="#24878e"/>
<path d="M192.15 178.32 194.78 179.38 196.27 177.48 193.64 176.41z" fill="#25838e"/>
<path d="M194.78 179.38 197.42 180.44 198.91 178.55 196.27 177.48z" fill="#27808e"/>
<path d="M197.42 180.44 200.06 181.51 201.55 179.63 198.91 178.55z" fill="#287c8e"/>
<path d="M200.06 181.51 202.7 182.58 204.19 180.71 201.55 179.63z" fill="#2a788e"/>
<path d="M202.7 182.58 205.35 183.65 206.83 181.79 204.19 180.71z" fill="#2b748e"/>
<path d="M205.35 183.65 208 184.72 209.48 182.87 206.83 181.79z" fill="#2d718e"/>
<path d="M208 184.72 210.66 185.8 212.13 183.96 209.48 182.87z" fill="#2e6d8e"/>
<path d="M210.66 185.8 213.31 186.88 214.79 185.05 212.13 183.96z" fill="#30698e"/>
<path d="M213.31 186.88 215.98 187.96 217.45 186.14 214.79 185.05z" fill="#32658e"/>
<path d="M215.98 187.96 218.64 189.04 220.11 187.23 217.45 186.14z" fill="#34618d"/>
<path d="M218.64 189.04 221.31 190.13 222.78 188.33 220.11 187.23z" fill="#365d8d"/>
<path d="M221.31 190.13 223.98 191.22 225.45 189.43 222.78 188.33z" fill="#38598c"/>
<path d="M223.98 191.22 226.65 192.31 228.12 190.53 225.45 189.43z" fill="#3a548c"/>
<path d="M226.65 192.31 229.33 193.41 230.79 191.64 228.12 190.53z" fill="#3c4f8a"/>
<path d="M229.33 193.41 232.01 194.51 233.47 192.74 230.79 191.64z" fill="#3e4a89"/>
<path d="M232.01 194.51 234.7 195.61 236.16 193.86 233.47 192.74z" fill="#404688"/>
<path d="M234.7 195.61 237.39 196.71 238.84 194.97 236.16 193.86z" fill="#424186"/>
<path d="M237.39 196.71 240.08 197.82 241.53 196.08 238.84 194.97z" fill="#433d84"/>
<path d="M240.08 197.82 242.78 198.92 244.23 197.2 241.53 196.08z" fill="#453781"/>
<path d="M242.78 198.92 245.47 200.04 246.92 198.32 244.23 197.2z" fill="#46327e"/>
<path d="M141.21 160.75 143.78 161.76 145.3 159.69 142.73 158.68z" fill="#3fbc73"/>
<path d="M143.78 161.76 146.35 162.76 147.88 160.7 145.3 159.69z" fill="#3aba76"/>
<path d="M146.35 162.76 148.93 163.76 150.46 161.72 147.88 160.7z" fill="#34b679"/>
<path d="M148.93 163.76 151.51 164.77 153.04 162.73 150.46 161.72z" fill="#2fb47c"/>
<path d="M151.51 164.77 154.1 165.78 155.62 163.75 153.04 162.73z" fill="#2ab07f"/>
<path d="M154.1 165.78 156.69 166.8 158.21 164.78 155.62 163.75z" fill="#27ad81"/>
<path d="M156.69 166.8 159.28 167.81 160.8 165.8 158.21 164.78z" fill="#24aa83"/>
<path d="M159.28 167.81 161.88 168.83 163.39 166.83 160.8 165.8z" fill="#22a785"/>
<path d="M161.88 168.83 164.47 169.85 165.99 167.86 163.39 166.83z" fill="#20a386"/>
<path d="M164.47 169.85 167.08 170.88 168.59 168.9 165.99 167.86z" fill="#1fa088"/>
<path d="M167.08 170.88 169.68 171.9 171.19 169.93 168.59 168.9z" fill="#1e9d89"/>
<path d="M169.68 171.9 172.29 172.93 173.8 170.97 171.19 169.93z" fill="#1f998a"/>
<path d="M172.29 172.93 174.9 173.97 176.41 172.02 173.8 170.97z" fill="#1f958b"/>
<path d="M174.9 173.97 177.52 175 179.03 173.06 176.41 172.02z" fill="#20928c"/>
<path d="M177.52 175 180.14 176.04 181.64 174.11 179.03 173.06z" fill="#218f8d"/>
<path d="M180.14 176.04 182.76 177.08 184.26 175.16 181.64 174.11z" fill="#228b8d"/>
<path d="M182.76 177.08 185.39 178.12 186.89 176.21 184.26 175.16z" fill="#24878e"/>
<path d="M185.39 178.12 188.02 179.16 189.52 177.26 186.89 176.21z" fill="#25838e"/>
<path d="M188.02 179.16 190.65 180.21 192.15 178.32 189.52 177.26z" fill="#26818e"/>
<path d="M190.65 180.21 193.29 181.26 194.78 179.38 192.15 178.32z" fill="#287d8e"/>
<path d="M193.29 181.26 195.93 182.32 197.42 180.44 194.78 179.38z" fill="#29798e"/>
<path d="M195.93 182.32 198.57 183.37 200.06 181.51 197.42 180.44z" fill="#2b758e"/>
<path d="M198.57 183.37 201.22 184.43 202.7 182.58 200.06 181.51z" fill="#2c718e"/>
<path d="M201.22 184.43 203.87 185.49 205.35 183.65 202.7 182.58z" fill="#2e6f8e"/>
<path d="M203.87 185.49 206.52 186.55 208 184.72 205.35 183.65z" fill="#2f6b8e"/>
<path d="M206.52 186.55 209.18 187.62 210.66 185.8 208 184.72z" fill="#31678e"/>
<path d="M209.18 187.62 211.84 188.69 213.31 186.88 210.66 185.8z" fill="#33638d"/>
<path d="M211.84 188.69 214.5 189.76 215.98 187.96 213.31 186.88z" fill="#355f8d"/>
<path d="M214.5 189.76 217.17 190.84 218.64 189.04 215.98 187.96z" fill="#375b8d"/>
<path d="M217.17 190.84 219.84 191.91 221.31 190.13 218.64 189.04z" fill="#39568c"/>
<path d="M219.84 191.91 222.51 192.99 223.98 191.22 221.31 190.13z" fill="#3b528b"/>
<path d="M222.51 192.99 225.19 194.07 226.65 192.31 223.98 191.22z" fill="#3d4e8a"/>
<path d="M225.19 194.07 227.87 195.16 229.33 193.41 226.65 192.31z" fill="#3e4989"/>
<path d="M227.87 195.16 230.55 196.25 232.01 194.51 229.33 193.41z" fill="#404588"/>
<path d="M230.55 196.25 233.24 197.34 234.7 195.61 232.01 194.51z" fill="#424086"/>
<path d="M233.24 197.34 235.93 198.43 237.39 196.71 234.7 195.61z" fill="#443b84"/>
<path d="M235.93 198.43 238.62 199.53 240.08 197.82 237.39 196.71z" fill="#453781"/>
<path d="M238.62 199.53 241.32 200.63 242.78 198.92 240.08 197.82z" fill="#46327e"/>
<path d="M241.32 200.63 244.02 201.73 245.47 200.04 242.78 198.92z" fill="#472d7b"/>
<path d="M139.67 162.81 142.25 163.8 143.78 161.76 141.21 160.75z" fill="#2fb47c"/>
<path d="M142.25 163.8 144.82 164.8 146.35 162.76 143.78 161.76z" fill="#2cb17e"/>
<path d="M144.82 164.8 147.4 165.79 148.93 163.76 146.35 162.76z" fill="#28ae80"/>
<path d="M147.4 165.79 149.99 166.79 151.51 164.77 148.93 163.76z" fill="#25ab82"/>
<path d="M149.99 166.79 152.58 167.79 154.1 165.78 151.51 164.77z" fill="#22a884"/>
<path d="M152.58 167.79 155.17 168.8 156.69 166.8 154.1 165.78z" fill="#20a486"/>
<path d="M155.17 168.8 157.76 169.8 159.28 167.81 156.69 166.8z" fill="#1fa187"/>
<path d="M157.76 169.8 160.36 170.81 161.88 168.83 159.28 167.81z" fill="#1f9f88"/>
<path d="M160.36 170.81 162.96 171.82 164.47 169.85 161.88 168.83z" fill="#1e9b8a"/>
<path d="M162.96 171.82 165.56 172.84 167.08 170.88 164.47 169.85z" fill="#1f988b"/>
<path d="M165.56 172.84 168.17 173.85 169.68 171.9 167.08 170.88z" fill="#1f948c"/>
<path d="M168.17 173.85 170.78 174.87 172.29 172.93 169.68 171.9z" fill="#20928c"/>
<path d="M170.78 174.87 173.39 175.9 174.9 173.97 172.29 172.93z" fill="#218e8d"/>
<path d="M173.39 175.9 176.01 176.92 177.52 175 174.9 173.97z" fill="#238a8d"/>
<path d="M176.01 176.92 178.63 177.95 180.14 176.04 177.52 175z" fill="#24878e"/>
<path d="M178.63 177.95 181.26 178.98 182.76 177.08 180.14 176.04z" fill="#25838e"/>
<path d="M181.26 178.98 183.89 180.01 185.39 178.12 182.76 177.08z" fill="#26818e"/>
<path d="M183.89 180.01 186.52 181.04 188.02 179.16 185.39 178.12z" fill="#287d8e"/>
<path d="M186.52 181.04 189.15 182.08 190.65 180.21 188.02 179.16z" fill="#29798e"/>
<path d="M189.15 182.08 191.79 183.12 193.29 181.26 190.65 180.21z" fill="#2a768e"/>
<path d="M191.79 183.12 194.43 184.17 195.93 182.32 193.29 181.26z" fill="#2c728e"/>
<path d="M194.43 184.17 197.08 185.21 198.57 183.37 195.93 182.32z" fill="#2e6f8e"/>
<path d="M197.08 185.21 199.72 186.26 201.22 184.43 198.57 183.37z" fill="#2f6c8e"/>
<path d="M199.72 186.26 202.38 187.31 203.87 185.49 201.22 184.43z" fill="#31688e"/>
<path d="M202.38 187.31 205.03 188.36 206.52 186.55 203.87 185.49z" fill="#32648e"/>
<path d="M205.03 188.36 207.69 189.42 209.18 187.62 206.52 186.55z" fill="#34608d"/>
<path d="M207.69 189.42 210.35 190.48 211.84 188.69 209.18 187.62z" fill="#365d8d"/>
<path d="M210.35 190.48 213.02 191.54 214.5 189.76 211.84 188.69z" fill="#38598c"/>
<path d="M213.02 191.54 215.69 192.61 217.17 190.84 214.5 189.76z" fill="#3a548c"/>
<path d="M215.69 192.61 218.36 193.67 219.84 191.91 217.17 190.84z" fill="#3c508b"/>
<path d="M218.36 193.67 221.04 194.74 222.51 192.99 219.84 191.91z" fill="#3e4c8a"/>
<path d="M221.04 194.74 223.72 195.82 225.19 194.07 222.51 192.99z" fill="#3f4889"/>
<path d="M223.72 195.82 226.4 196.89 227.87 195.16 225.19 194.07z" fill="#414487"/>
<path d="M226.4 196.89 229.09 197.97 230.55 196.25 227.87 195.16z" fill="#423f85"/>
<path d="M229.09 197.97 231.78 199.05 233.24 197.34 230.55 196.25z" fill="#443a83"/>
<path d="M231.78 199.05 234.47 200.13 235.93 198.43 233.24 197.34z" fill="#453581"/>
<path d="M234.47 200.13 237.17 201.22 238.62 199.53 235.93 198.43z" fill="#46307e"/>
<path d="M237.17 201.22 239.87 202.31 241.32 200.63 238.62 199.53z" fill="#472c7a"/>
<path d="M239.87 202.31 242.57 203.4 244.02 201.73 241.32 200.63z" fill="#482677"/>
<path d="M138.14 164.85 140.71 165.83 142.25 163.8 139.67 162.81z" fill="#25ac82"/>
<path d="M140.71 165.83 143.29 166.82 144.82 164.8 142.25 163.8z" fill="#22a884"/>
<path d="M143.29 166.82 145.87 167.8 147.4 165.79 144.82 164.8z" fill="#21a585"/>
<path d="M145.87 167.8 148.46 168.79 149.99 166.79 147.4 165.79z" fill="#1fa287"/>
<path d="M148.46 168.79 151.05 169.78 152.58 167.79 149.99 166.79z" fill="#1fa088"/>
<path d="M151.05 169.78 153.64 170.78 155.17 168.8 152.58 167.79z" fill="#1e9c89"/>
<path d="M153.64 170.78 156.24 171.77 157.76 169.8 155.17 168.8z" fill="#1f998a"/>
<path d="M156.24 171.77 158.83 172.77 160.36 170.81 157.76 169.8z" fill="#1f968b"/>
<path d="M158.83 172.77 161.44 173.77 162.96 171.82 160.36 170.81z" fill="#20928c"/>
<path d="M161.44 173.77 164.04 174.78 165.56 172.84 162.96 171.82z" fill="#21908d"/>
<path d="M164.04 174.78 166.65 175.78 168.17 173.85 165.56 172.84z" fill="#228d8d"/>
<path d="M166.65 175.78 169.26 176.79 170.78 174.87 168.17 173.85z" fill="#23898e"/>
<path d="M169.26 176.79 171.88 177.8 173.39 175.9 170.78 174.87z" fill="#24868e"/>
<path d="M171.88 177.8 174.5 178.82 176.01 176.92 173.39 175.9z" fill="#25838e"/>
<path d="M174.5 178.82 177.12 179.84 178.63 177.95 176.01 176.92z" fill="#27808e"/>
<path d="M177.12 179.84 179.75 180.86 181.26 178.98 178.63 177.95z" fill="#287d8e"/>
<path d="M179.75 180.86 182.38 181.88 183.89 180.01 181.26 178.98z" fill="#29798e"/>
<path d="M182.38 181.88 185.01 182.9 186.52 181.04 183.89 180.01z" fill="#2a768e"/>
<path d="M185.01 182.9 187.65 183.93 189.15 182.08 186.52 181.04z" fill="#2c728e"/>
<path d="M187.65 183.93 190.29 184.96 191.79 183.12 189.15 182.08z" fill="#2d708e"/>
<path d="M190.29 184.96 192.93 186 194.43 184.17 191.79 183.12z" fill="#2f6c8e"/>
<path d="M192.93 186 195.58 187.03 197.08 185.21 194.43 184.17z" fill="#30698e"/>
<path d="M195.58 187.03 198.23 188.07 199.72 186.26 197.08 185.21z" fill="#32658e"/>
<path d="M198.23 188.07 200.88 189.11 202.38 187.31 199.72 186.26z" fill="#33628d"/>
<path d="M200.88 189.11 203.54 190.15 205.03 188.36 202.38 187.31z" fill="#355e8d"/>
<path d="M203.54 190.15 206.2 191.2 207.69 189.42 205.03 188.36z" fill="#375b8d"/>
<path d="M206.2 191.2 208.87 192.25 210.35 190.48 207.69 189.42z" fill="#39568c"/>
<path d="M208.87 192.25 211.54 193.3 213.02 191.54 210.35 190.48z" fill="#3b528b"/>
<path d="M211.54 193.3 214.21 194.36 215.69 192.61 213.02 191.54z" fill="#3c4f8a"/>
<path d="M214.21 194.36 216.88 195.41 218.36 193.67 215.69 192.61z" fill="#3e4a89"/>
<path d="M216.88 195.41 219.56 196.47 221.04 194.74 218.36 193.67z" fill="#404688"/>
<path d="M219.56 196.47 222.24 197.54 223.72 195.82 221.04 194.74z" fill="#414287"/>
<path d="M222.24 197.54 224.93 198.6 226.4 196.89 223.72 195.82z" fill="#433e85"/>
<path d="M224.93 198.6 227.62 199.67 229.09 197.97 226.4 196.89z" fill="#443983"/>
<path d="M227.62 199.67 230.31 200.74 231.78 199.05 229.09 197.97z" fill="#463480"/>
<path d="M230.31 200.74 233.01 201.81 234.47 200.13 231.78 199.05z" fill="#46307e"/>
<path d="M233.01 201.81 235.71 202.89 237.17 201.22 234.47 200.13z" fill="#472c7a"/>
<path d="M235.71 202.89 238.41 203.97 239.87 202.31 237.17 201.22z" fill="#482677"/>
<path d="M238.41 203.97 241.12 205.05 242.57 203.4 239.87 202.31z" fill="#482173"/>
<path d="M136.6 166.87 139.18 167.84 140.71 165.83 138.14 164.85z" fill="#1fa287"/>
<path d="M139.18 167.84 141.76 168.81 143.29 166.82 140.71 165.83z" fill="#1fa088"/>
<path d="M141.76 168.81 144.34 169.79 145.87 167.8 143.29 166.82z" fill="#1e9d89"/>
<path d="M144.34 169.79 146.93 170.77 148.46 168.79 145.87 167.8z" fill="#1f9a8a"/>
<path d="M146.93 170.77 149.52 171.75 151.05 169.78 148.46 168.79z" fill="#1f978b"/>
<path d="M149.52 171.75 152.11 172.73 153.64 170.78 151.05 169.78z" fill="#1f948c"/>
<path d="M152.11 172.73 154.71 173.72 156.24 171.77 153.64 170.78z" fill="#20928c"/>
<path d="M154.71 173.72 157.31 174.71 158.83 172.77 156.24 171.77z" fill="#218e8d"/>
<path d="M157.31 174.71 159.91 175.7 161.44 173.77 158.83 172.77z" fill="#228b8d"/>
<path d="M159.91 175.7 162.52 176.69 164.04 174.78 161.44 173.77z" fill="#23888e"/>
<path d="M162.52 176.69 165.13 177.69 166.65 175.78 164.04 174.78z" fill="#25858e"/>
<path d="M165.13 177.69 167.75 178.69 169.26 176.79 166.65 175.78z" fill="#26828e"/>
<path d="M167.75 178.69 170.36 179.69 171.88 177.8 169.26 176.79z" fill="#277f8e"/>
<path d="M170.36 179.69 172.98 180.7 174.5 178.82 171.88 177.8z" fill="#287c8e"/>
<path d="M172.98 180.7 175.61 181.71 177.12 179.84 174.5 178.82z" fill="#29798e"/>
<path d="M175.61 181.71 178.24 182.72 179.75 180.86 177.12 179.84z" fill="#2a768e"/>
<path d="M178.24 182.72 180.87 183.73 182.38 181.88 179.75 180.86z" fill="#2c728e"/>
<path d="M180.87 183.73 183.51 184.74 185.01 182.9 182.38 181.88z" fill="#2d708e"/>
<path d="M183.51 184.74 186.14 185.76 187.65 183.93 185.01 182.9z" fill="#2e6d8e"/>
<path d="M186.14 185.76 188.79 186.78 190.29 184.96 187.65 183.93z" fill="#30698e"/>
<path d="M188.79 186.78 191.43 187.8 192.93 186 190.29 184.96z" fill="#31668e"/>
<path d="M191.43 187.8 194.08 188.83 195.58 187.03 192.93 186z" fill="#33638d"/>
<path d="M194.08 188.83 196.73 189.86 198.23 188.07 195.58 187.03z" fill="#355f8d"/>
<path d="M196.73 189.86 199.39 190.89 200.88 189.11 198.23 188.07z" fill="#365c8d"/>
<path d="M199.39 190.89 202.05 191.92 203.54 190.15 200.88 189.11z" fill="#38588c"/>
<path d="M202.05 191.92 204.71 192.96 206.2 191.2 203.54 190.15z" fill="#3a548c"/>
<path d="M204.71 192.96 207.38 194 208.87 192.25 206.2 191.2z" fill="#3c508b"/>
<path d="M207.38 194 210.05 195.04 211.54 193.3 208.87 192.25z" fill="#3d4d8a"/>
<path d="M210.05 195.04 212.72 196.09 214.21 194.36 211.54 193.3z" fill="#3f4889"/>
<path d="M212.72 196.09 215.4 197.13 216.88 195.41 214.21 194.36z" fill="#404588"/>
<path d="M215.4 197.13 218.08 198.18 219.56 196.47 216.88 195.41z" fill="#424086"/>
<path d="M218.08 198.18 220.77 199.23 222.24 197.54 219.56 196.47z" fill="#433d84"/>
<path d="M220.77 199.23 223.45 200.29 224.93 198.6 222.24 197.54z" fill="#453882"/>
<path d="M223.45 200.29 226.15 201.35 227.62 199.67 224.93 198.6z" fill="#463480"/>
<path d="M226.15 201.35 228.84 202.41 230.31 200.74 227.62 199.67z" fill="#472f7d"/>
<path d="M228.84 202.41 231.54 203.47 233.01 201.81 230.31 200.74z" fill="#472c7a"/>
<path d="M231.54 203.47 234.24 204.54 235.71 202.89 233.01 201.81z" fill="#482677"/>
<path d="M234.24 204.54 236.95 205.61 238.41 203.97 235.71 202.89z" fill="#482173"/>
<path d="M236.95 205.61 239.66 206.68 241.12 205.05 238.41 203.97z" fill="#481d6f"/>
<path d="M135.06 168.87 137.64 169.83 139.18 167.84 136.6 166.87z" fill="#1f9a8a"/>
<path d="M137.64 169.83 140.22 170.79 141.76 168.81 139.18 167.84z" fill="#1f978b"/>
<path d="M140.22 170.79 142.8 171.76 144.34 169.79 141.76 168.81z" fill="#1f948c"/>
<path d="M142.8 171.76 145.39 172.73 146.93 170.77 144.34 169.79z" fill="#20928c"/>
<path d="M145.39 172.73 147.98 173.7 149.52 171.75 146.93 170.77z" fill="#218f8d"/>
<path d="M147.98 173.7 150.58 174.67 152.11 172.73 149.52 171.75z" fill="#228c8d"/>
<path d="M150.58 174.67 153.18 175.65 154.71 173.72 152.11 172.73z" fill="#23898e"/>
<path d="M153.18 175.65 155.78 176.63 157.31 174.71 154.71 173.72z" fill="#24868e"/>
<path d="M155.78 176.63 158.38 177.61 159.91 175.7 157.31 174.71z" fill="#25838e"/>
<path d="M158.38 177.61 160.99 178.59 162.52 176.69 159.91 175.7z" fill="#26818e"/>
<path d="M160.99 178.59 163.61 179.58 165.13 177.69 162.52 176.69z" fill="#277e8e"/>
<path d="M163.61 179.58 166.22 180.57 167.75 178.69 165.13 177.69z" fill="#297b8e"/>
<path d="M166.22 180.57 168.84 181.56 170.36 179.69 167.75 178.69z" fill="#2a788e"/>
<path d="M168.84 181.56 171.47 182.56 172.98 180.7 170.36 179.69z" fill="#2b758e"/>
<path d="M171.47 182.56 174.09 183.55 175.61 181.71 172.98 180.7z" fill="#2c728e"/>
<path d="M174.09 183.55 176.72 184.55 178.24 182.72 175.61 181.71z" fill="#2d708e"/>
<path d="M176.72 184.55 179.36 185.56 180.87 183.73 178.24 182.72z" fill="#2e6d8e"/>
<path d="M179.36 185.56 181.99 186.56 183.51 184.74 180.87 183.73z" fill="#30698e"/>
<path d="M181.99 186.56 184.64 187.57 186.14 185.76 183.51 184.74z" fill="#31668e"/>
<path d="M184.64 187.57 187.28 188.58 188.79 186.78 186.14 185.76z" fill="#33638d"/>
<path d="M187.28 188.58 189.93 189.59 191.43 187.8 188.79 186.78z" fill="#34608d"/>
<path d="M189.93 189.59 192.58 190.61 194.08 188.83 191.43 187.8z" fill="#365d8d"/>
<path d="M192.58 190.61 195.23 191.63 196.73 189.86 194.08 188.83z" fill="#38598c"/>
<path d="M195.23 191.63 197.89 192.65 199.39 190.89 196.73 189.86z" fill="#39558c"/>
<path d="M197.89 192.65 200.55 193.67 202.05 191.92 199.39 190.89z" fill="#3b528b"/>
<path d="M200.55 193.67 203.22 194.7 204.71 192.96 202.05 191.92z" fill="#3c4f8a"/>
<path d="M203.22 194.7 205.89 195.73 207.38 194 204.71 192.96z" fill="#3e4a89"/>
<path d="M205.89 195.73 208.56 196.76 210.05 195.04 207.38 194z" fill="#3f4788"/>
<path d="M208.56 196.76 211.24 197.79 212.72 196.09 210.05 195.04z" fill="#414487"/>
<path d="M211.24 197.79 213.92 198.83 215.4 197.13 212.72 196.09z" fill="#423f85"/>
<path d="M213.92 198.83 216.6 199.87 218.08 198.18 215.4 197.13z" fill="#443b84"/>
<path d="M216.6 199.87 219.29 200.91 220.77 199.23 218.08 198.18z" fill="#453781"/>
<path d="M219.29 200.91 221.98 201.96 223.45 200.29 220.77 199.23z" fill="#46337f"/>
<path d="M221.98 201.96 224.67 203.01 226.15 201.35 223.45 200.29z" fill="#472f7d"/>
<path d="M224.67 203.01 227.37 204.06 228.84 202.41 226.15 201.35z" fill="#472a7a"/>
<path d="M227.37 204.06 230.07 205.11 231.54 203.47 228.84 202.41z" fill="#482677"/>
<path d="M230.07 205.11 232.77 206.17 234.24 204.54 231.54 203.47z" fill="#482173"/>
<path d="M232.77 206.17 235.48 207.22 236.95 205.61 234.24 204.54z" fill="#481d6f"/>
<path d="M235.48 207.22 238.19 208.29 239.66 206.68 236.95 205.61z" fill="#48186a"/>
<path d="M133.51 170.84 136.09 171.79 137.64 169.83 135.06 168.87z" fill="#20928c"/>
<path d="M136.09 171.79 138.67 172.75 140.22 170.79 137.64 169.83z" fill="#218f8d"/>
<path d="M138.67 172.75 141.26 173.7 142.8 171.76 140.22 170.79z" fill="#228d8d"/>
<path d="M141.26 173.7 143.85 174.66 145.39 172.73 142.8 171.76z" fill="#238a8d"/>
<path d="M143.85 174.66 146.44 175.62 147.98 173.7 145.39 172.73z" fill="#24878e"/>
<path d="M146.44 175.62 149.04 176.59 150.58 174.67 147.98 173.7z" fill="#25848e"/>
<path d="M149.04 176.59 151.64 177.56 153.18 175.65 150.58 174.67z" fill="#26828e"/>
<path d="M151.64 177.56 154.25 178.52 155.78 176.63 153.18 175.65z" fill="#27808e"/>
<path d="M154.25 178.52 156.85 179.5 158.38 177.61 155.78 176.63z" fill="#287d8e"/>
<path d="M156.85 179.5 159.46 180.47 160.99 178.59 158.38 177.61z" fill="#297a8e"/>
<path d="M159.46 180.47 162.08 181.45 163.61 179.58 160.99 178.59z" fill="#2a778e"/>
<path d="M162.08 181.45 164.7 182.43 166.22 180.57 163.61 179.58z" fill="#2b748e"/>
<path d="M164.7 182.43 167.32 183.41 168.84 181.56 166.22 180.57z" fill="#2c718e"/>
<path d="M167.32 183.41 169.94 184.39 171.47 182.56 168.84 181.56z" fill="#2e6f8e"/>
<path d="M169.94 184.39 172.57 185.38 174.09 183.55 171.47 182.56z" fill="#2f6c8e"/>
<path d="M172.57 185.38 175.21 186.37 176.72 184.55 174.09 183.55z" fill="#30698e"/>
<path d="M175.21 186.37 177.84 187.36 179.36 185.56 176.72 184.55z" fill="#31668e"/>
<path d="M177.84 187.36 180.48 188.36 181.99 186.56 179.36 185.56z" fill="#33638d"/>
<path d="M180.48 188.36 183.12 189.36 184.64 187.57 181.99 186.56z" fill="#34608d"/>
<path d="M183.12 189.36 185.77 190.36 187.28 188.58 184.64 187.57z" fill="#365d8d"/>
<path d="M185.77 190.36 188.42 191.36 189.93 189.59 187.28 188.58z" fill="#375a8c"/>
<path d="M188.42 191.36 191.07 192.37 192.58 190.61 189.93 189.59z" fill="#39568c"/>
<path d="M191.07 192.37 193.73 193.38 195.23 191.63 192.58 190.61z" fill="#3a538b"/>
<path d="M193.73 193.38 196.39 194.39 197.89 192.65 195.23 191.63z" fill="#3c508b"/>
<path d="M196.39 194.39 199.05 195.4 200.55 193.67 197.89 192.65z" fill="#3d4d8a"/>
<path d="M199.05 195.4 201.72 196.42 203.22 194.7 200.55 193.67z" fill="#3f4889"/>
<path d="M201.72 196.42 204.39 197.44 205.89 195.73 203.22 194.7z" fill="#404588"/>
<path d="M204.39 197.44 207.07 198.46 208.56 196.76 205.89 195.73z" fill="#424186"/>
<path d="M207.07 198.46 209.75 199.48 211.24 197.79 208.56 196.76z" fill="#433e85"/>
<path d="M209.75 199.48 212.43 200.51 213.92 198.83 211.24 197.79z" fill="#443a83"/>
<path d="M212.43 200.51 215.11 201.54 216.6 199.87 213.92 198.83z" fill="#453781"/>
<path d="M215.11 201.54 217.8 202.57 219.29 200.91 216.6 199.87z" fill="#46327e"/>
<path d="M217.8 202.57 220.5 203.61 221.98 201.96 219.29 200.91z" fill="#472e7c"/>
<path d="M220.5 203.61 223.19 204.64 224.67 203.01 221.98 201.96z" fill="#472a7a"/>
<path d="M223.19 204.64 225.89 205.68 227.37 204.06 224.67 203.01z" fill="#482677"/>
<path d="M225.89 205.68 228.6 206.73 230.07 205.11 227.37 204.06z" fill="#482173"/>
<path d="M228.6 206.73 231.3 207.77 232.77 206.17 230.07 205.11z" fill="#481d6f"/>
<path d="M231.3 207.77 234.01 208.82 235.48 207.22 232.77 206.17z" fill="#481a6c"/>
<path d="M234.01 208.82 236.73 209.87 238.19 208.29 235.48 207.22z" fill="#481467"/>
<path d="M131.96 172.8 134.54 173.74 136.09 171.79 133.51 170.84z" fill="#238a8d"/>
<path d="M134.54 173.74 137.13 174.69 138.67 172.75 136.09 171.79z" fill="#24878e"/>
<path d="M137.13 174.69 139.72 175.63 141.26 173.7 138.67 172.75z" fill="#25848e"/>
<path d="M139.72 175.63 142.31 176.58 143.85 174.66 141.26 173.7z" fill="#26828e"/>
<path d="M142.31 176.58 144.9 177.53 146.44 175.62 143.85 174.66z" fill="#27808e"/>
<path d="M144.9 177.53 147.5 178.49 149.04 176.59 146.44 175.62z" fill="#287d8e"/>
<path d="M147.5 178.49 150.1 179.44 151.64 177.56 149.04 176.59z" fill="#297b8e"/>
<path d="M150.1 179.44 152.71 180.4 154.25 178.52 151.64 177.56z" fill="#2a788e"/>
<path d="M152.71 180.4 155.32 181.36 156.85 179.5 154.25 178.52z" fill="#2b758e"/>
<path d="M155.32 181.36 157.93 182.33 159.46 180.47 156.85 179.5z" fill="#2c738e"/>
<path d="M157.93 182.33 160.55 183.29 162.08 181.45 159.46 180.47z" fill="#2d718e"/>
<path d="M160.55 183.29 163.17 184.26 164.7 182.43 162.08 181.45z" fill="#2e6e8e"/>
<path d="M163.17 184.26 165.79 185.24 167.32 183.41 164.7 182.43z" fill="#2f6b8e"/>
<path d="M165.79 185.24 168.42 186.21 169.94 184.39 167.32 183.41z" fill="#30698e"/>
<path d="M168.42 186.21 171.05 187.19 172.57 185.38 169.94 184.39z" fill="#31668e"/>
<path d="M171.05 187.19 173.68 188.17 175.21 186.37 172.57 185.38z" fill="#33638d"/>
<path d="M173.68 188.17 176.32 189.15 177.84 187.36 175.21 186.37z" fill="#34608d"/>
<path d="M176.32 189.15 178.96 190.14 180.48 188.36 177.84 187.36z" fill="#365d8d"/>
<path d="M178.96 190.14 181.61 191.12 183.12 189.36 180.48 188.36z" fill="#375a8c"/>
<path d="M181.61 191.12 184.26 192.11 185.77 190.36 183.12 189.36z" fill="#39568c"/>
<path d="M184.26 192.11 186.91 193.11 188.42 191.36 185.77 190.36z" fill="#3a548c"/>
<path d="M186.91 193.11 189.56 194.1 191.07 192.37 188.42 191.36z" fill="#3b518b"/>
<path d="M189.56 194.1 192.22 195.1 193.73 193.38 191.07 192.37z" fill="#3d4e8a"/>
<path d="M192.22 195.1 194.89 196.1 196.39 194.39 193.73 193.38z" fill="#3e4a89"/>
<path d="M194.89 196.1 197.55 197.11 199.05 195.4 196.39 194.39z" fill="#3f4788"/>
<path d="M197.55 197.11 200.22 198.11 201.72 196.42 199.05 195.4z" fill="#414487"/>
<path d="M200.22 198.11 202.9 199.12 204.39 197.44 201.72 196.42z" fill="#424086"/>
<path d="M202.9 199.12 205.57 200.13 207.07 198.46 204.39 197.44z" fill="#433d84"/>
<path d="M205.57 200.13 208.25 201.15 209.75 199.48 207.07 198.46z" fill="#443983"/>
<path d="M208.25 201.15 210.94 202.17 212.43 200.51 209.75 199.48z" fill="#453581"/>
<path d="M210.94 202.17 213.63 203.19 215.11 201.54 212.43 200.51z" fill="#46327e"/>
<path d="M213.63 203.19 216.32 204.21 217.8 202.57 215.11 201.54z" fill="#472e7c"/>
<path d="M216.32 204.21 219.01 205.23 220.5 203.61 217.8 202.57z" fill="#482979"/>
<path d="M219.01 205.23 221.71 206.26 223.19 204.64 220.5 203.61z" fill="#482576"/>
<path d="M221.71 206.26 224.41 207.29 225.89 205.68 223.19 204.64z" fill="#482173"/>
<path d="M224.41 207.29 227.12 208.32 228.6 206.73 225.89 205.68z" fill="#481d6f"/>
<path d="M227.12 208.32 229.83 209.36 231.3 207.77 228.6 206.73z" fill="#481a6c"/>
<path d="M229.83 209.36 232.54 210.4 234.01 208.82 231.3 207.77z" fill="#481668"/>
<path d="M232.54 210.4 235.26 211.44 236.73 209.87 234.01 208.82z" fill="#471063"/>
<path d="M130.41 174.74 132.99 175.67 134.54 173.74 131.96 172.8z" fill="#26828e"/>
<path d="M132.99 175.67 135.58 176.6 137.13 174.69 134.54 173.74z" fill="#27808e"/>
<path d="M135.58 176.6 138.17 177.54 139.72 175.63 137.13 174.69z" fill="#287d8e"/>
<path d="M138.17 177.54 140.76 178.48 142.31 176.58 139.72 175.63z" fill="#297b8e"/>
<path d="M140.76 178.48 143.36 179.42 144.9 177.53 142.31 176.58z" fill="#29798e"/>
<path d="M143.36 179.42 145.96 180.36 147.5 178.49 144.9 177.53z" fill="#2a768e"/>
<path d="M145.96 180.36 148.56 181.31 150.1 179.44 147.5 178.49z" fill="#2c738e"/>
<path d="M148.56 181.31 151.17 182.26 152.71 180.4 150.1 179.44z" fill="#2c718e"/>
<path d="M151.17 182.26 153.78 183.21 155.32 181.36 152.71 180.4z" fill="#2e6f8e"/>
<path d="M153.78 183.21 156.4 184.16 157.93 182.33 155.32 181.36z" fill="#2e6d8e"/>
<path d="M156.4 184.16 159.01 185.12 160.55 183.29 157.93 182.33z" fill="#306a8e"/>
<path d="M159.01 185.12 161.64 186.08 163.17 184.26 160.55 183.29z" fill="#31688e"/>
<path d="M161.64 186.08 164.26 187.04 165.79 185.24 163.17 184.26z" fill="#32658e"/>
<path d="M164.26 187.04 166.89 188.01 168.42 186.21 165.79 185.24z" fill="#33628d"/>
<path d="M166.89 188.01 169.52 188.98 171.05 187.19 168.42 186.21z" fill="#34608d"/>
<path d="M169.52 188.98 172.16 189.95 173.68 188.17 171.05 187.19z" fill="#365d8d"/>
<path d="M172.16 189.95 174.8 190.92 176.32 189.15 173.68 188.17z" fill="#375a8c"/>
<path d="M174.8 190.92 177.44 191.89 178.96 190.14 176.32 189.15z" fill="#38588c"/>
<path d="M177.44 191.89 180.09 192.87 181.61 191.12 178.96 190.14z" fill="#3a548c"/>
<path d="M180.09 192.87 182.74 193.85 184.26 192.11 181.61 191.12z" fill="#3b518b"/>
<path d="M182.74 193.85 185.39 194.83 186.91 193.11 184.26 192.11z" fill="#3d4e8a"/>
<path d="M185.39 194.83 188.05 195.82 189.56 194.1 186.91 193.11z" fill="#3e4c8a"/>
<path d="M188.05 195.82 190.71 196.81 192.22 195.1 189.56 194.1z" fill="#3f4889"/>
<path d="M190.71 196.81 193.38 197.8 194.89 196.1 192.22 195.1z" fill="#404588"/>
<path d="M193.38 197.8 196.05 198.79 197.55 197.11 194.89 196.1z" fill="#424186"/>
<path d="M196.05 198.79 198.72 199.79 200.22 198.11 197.55 197.11z" fill="#433e85"/>
<path d="M198.72 199.79 201.39 200.79 202.9 199.12 200.22 198.11z" fill="#443a83"/>
<path d="M201.39 200.79 204.07 201.79 205.57 200.13 202.9 199.12z" fill="#453882"/>
<path d="M204.07 201.79 206.76 202.79 208.25 201.15 205.57 200.13z" fill="#463480"/>
<path d="M206.76 202.79 209.44 203.8 210.94 202.17 208.25 201.15z" fill="#46307e"/>
<path d="M209.44 203.8 212.13 204.81 213.63 203.19 210.94 202.17z" fill="#472d7b"/>
<path d="M212.13 204.81 214.83 205.82 216.32 204.21 213.63 203.19z" fill="#482979"/>
<path d="M214.83 205.82 217.53 206.84 219.01 205.23 216.32 204.21z" fill="#482576"/>
<path d="M217.53 206.84 220.23 207.86 221.71 206.26 219.01 205.23z" fill="#482173"/>
<path d="M220.23 207.86 222.93 208.88 224.41 207.29 221.71 206.26z" fill="#481d6f"/>
<path d="M222.93 208.88 225.64 209.9 227.12 208.32 224.41 207.29z" fill="#481a6c"/>
<path d="M225.64 209.9 228.35 210.93 229.83 209.36 227.12 208.32z" fill="#481668"/>
<path d="M228.35 210.93 231.07 211.95 232.54 210.4 229.83 209.36z" fill="#471164"/>
<path d="M231.07 211.95 233.79 212.99 235.26 211.44 232.54 210.4z" fill="#470d60"/>
<path d="M128.85 176.65 131.44 177.57 132.99 175.67 130.41 174.74z" fill="#297a8e"/>
<path d="M131.44 177.57 134.02 178.5 135.58 176.6 132.99 175.67z" fill="#2a788e"/>
<path d="M134.02 178.5 136.62 179.42 138.17 177.54 135.58 176.6z" fill="#2a768e"/>
<path d="M136.62 179.42 139.21 180.35 140.76 178.48 138.17 177.54z" fill="#2b748e"/>
<path d="M139.21 180.35 141.81 181.28 143.36 179.42 140.76 178.48z" fill="#2c718e"/>
<path d="M141.81 181.28 144.41 182.22 145.96 180.36 143.36 179.42z" fill="#2d708e"/>
<path d="M144.41 182.22 147.02 183.16 148.56 181.31 145.96 180.36z" fill="#2e6d8e"/>
<path d="M147.02 183.16 149.63 184.09 151.17 182.26 148.56 181.31z" fill="#2f6b8e"/>
<path d="M149.63 184.09 152.24 185.04 153.78 183.21 151.17 182.26z" fill="#30698e"/>
<path d="M152.24 185.04 154.86 185.98 156.4 184.16 153.78 183.21z" fill="#31668e"/>
<path d="M154.86 185.98 157.48 186.93 159.01 185.12 156.4 184.16z" fill="#32648e"/>
<path d="M157.48 186.93 160.1 187.88 161.64 186.08 159.01 185.12z" fill="#34618d"/>
<path d="M160.1 187.88 162.73 188.83 164.26 187.04 161.64 186.08z" fill="#355f8d"/>
<path d="M162.73 188.83 165.36 189.78 166.89 188.01 164.26 187.04z" fill="#365c8d"/>
<path d="M165.36 189.78 167.99 190.74 169.52 188.98 166.89 188.01z" fill="#375a8c"/>
<path d="M167.99 190.74 170.63 191.7 172.16 189.95 169.52 188.98z" fill="#39568c"/>
<path d="M170.63 191.7 173.27 192.66 174.8 190.92 172.16 189.95z" fill="#3a548c"/>
<path d="M173.27 192.66 175.92 193.63 177.44 191.89 174.8 190.92z" fill="#3b518b"/>
<path d="M175.92 193.63 178.57 194.6 180.09 192.87 177.44 191.89z" fill="#3c4f8a"/>
<path d="M178.57 194.6 181.22 195.57 182.74 193.85 180.09 192.87z" fill="#3e4c8a"/>
<path d="M181.22 195.57 183.88 196.54 185.39 194.83 182.74 193.85z" fill="#3f4889"/>
<path d="M183.88 196.54 186.54 197.52 188.05 195.82 185.39 194.83z" fill="#404688"/>
<path d="M186.54 197.52 189.2 198.49 190.71 196.81 188.05 195.82z" fill="#414287"/>
<path d="M189.2 198.49 191.87 199.48 193.38 197.8 190.71 196.81z" fill="#424086"/>
<path d="M191.87 199.48 194.54 200.46 196.05 198.79 193.38 197.8z" fill="#433d84"/>
<path d="M194.54 200.46 197.21 201.45 198.72 199.79 196.05 198.79z" fill="#443983"/>
<path d="M197.21 201.45 199.89 202.43 201.39 200.79 198.72 199.79z" fill="#453781"/>
<path d="M199.89 202.43 202.57 203.43 204.07 201.79 201.39 200.79z" fill="#46337f"/>
<path d="M202.57 203.43 205.26 204.42 206.76 202.79 204.07 201.79z" fill="#472f7d"/>
<path d="M205.26 204.42 207.95 205.42 209.44 203.8 206.76 202.79z" fill="#472c7a"/>
<path d="M207.95 205.42 210.64 206.42 212.13 204.81 209.44 203.8z" fill="#482979"/>
<path d="M210.64 206.42 213.34 207.42 214.83 205.82 212.13 204.81z" fill="#482576"/>
<path d="M213.34 207.42 216.04 208.42 217.53 206.84 214.83 205.82z" fill="#482173"/>
<path d="M216.04 208.42 218.74 209.43 220.23 207.86 217.53 206.84z" fill="#481d6f"/>
<path d="M218.74 209.43 221.45 210.44 222.93 208.88 220.23 207.86z" fill="#481a6c"/>
<path d="M221.45 210.44 224.16 211.45 225.64 209.9 222.93 208.88z" fill="#481769"/>
<path d="M224.16 211.45 226.87 212.47 228.35 210.93 225.64 209.9z" fill="#471365"/>
<path d="M226.87 212.47 229.59 213.49 231.07 211.95 228.35 210.93z" fill="#470e61"/>
<path d="M229.59 213.49 232.31 214.51 233.79 212.99 231.07 211.95z" fill="#460a5d"/>
<path d="M127.29 178.55 129.88 179.46 131.44 177.57 128.85 176.65z" fill="#2c738e"/>
<path d="M129.88 179.46 132.47 180.37 134.02 178.5 131.44 177.57z" fill="#2c718e"/>
<path d="M132.47 180.37 135.06 181.29 136.62 179.42 134.02 178.5z" fill="#2d708e"/>
<path d="M135.06 181.29 137.66 182.21 139.21 180.35 136.62 179.42z" fill="#2e6d8e"/>
<path d="M137.66 182.21 140.26 183.13 141.81 181.28 139.21 180.35z" fill="#2f6b8e"/>
<path d="M140.26 183.13 142.86 184.05 144.41 182.22 141.81 181.28z" fill="#30698e"/>
<path d="M142.86 184.05 145.47 184.98 147.02 183.16 144.41 182.22z" fill="#31678e"/>
<path d="M145.47 184.98 148.08 185.91 149.63 184.09 147.02 183.16z" fill="#32648e"/>
<path d="M148.08 185.91 150.69 186.84 152.24 185.04 149.63 184.09z" fill="#33628d"/>
<path d="M150.69 186.84 153.31 187.78 154.86 185.98 152.24 185.04z" fill="#34608d"/>
<path d="M153.31 187.78 155.93 188.71 157.48 186.93 154.86 185.98z" fill="#355e8d"/>
<path d="M155.93 188.71 158.56 189.65 160.1 187.88 157.48 186.93z" fill="#375b8d"/>
<path d="M158.56 189.65 161.19 190.6 162.73 188.83 160.1 187.88z" fill="#38598c"/>
<path d="M161.19 190.6 163.82 191.54 165.36 189.78 162.73 188.83z" fill="#39568c"/>
<path d="M163.82 191.54 166.46 192.49 167.99 190.74 165.36 189.78z" fill="#3a538b"/>
<path d="M166.46 192.49 169.1 193.44 170.63 191.7 167.99 190.74z" fill="#3b518b"/>
<path d="M169.1 193.44 171.74 194.39 173.27 192.66 170.63 191.7z" fill="#3c4f8a"/>
<path d="M171.74 194.39 174.39 195.34 175.92 193.63 173.27 192.66z" fill="#3e4c8a"/>
<path d="M174.39 195.34 177.04 196.3 178.57 194.6 175.92 193.63z" fill="#3e4989"/>
<path d="M177.04 196.3 179.7 197.26 181.22 195.57 178.57 194.6z" fill="#404688"/>
<path d="M179.7 197.26 182.35 198.23 183.88 196.54 181.22 195.57z" fill="#414487"/>
<path d="M182.35 198.23 185.02 199.19 186.54 197.52 183.88 196.54z" fill="#424086"/>
<path d="M185.02 199.19 187.68 200.16 189.2 198.49 186.54 197.52z" fill="#433e85"/>
<path d="M187.68 200.16 190.35 201.13 191.87 199.48 189.2 198.49z" fill="#443a83"/>
<path d="M190.35 201.13 193.02 202.1 194.54 200.46 191.87 199.48z" fill="#453882"/>
<path d="M193.02 202.1 195.7 203.08 197.21 201.45 194.54 200.46z" fill="#463480"/>
<path d="M195.7 203.08 198.38 204.06 199.89 202.43 197.21 201.45z" fill="#46327e"/>
<path d="M198.38 204.06 201.07 205.04 202.57 203.43 199.89 202.43z" fill="#472e7c"/>
<path d="M201.07 205.04 203.75 206.02 205.26 204.42 202.57 203.43z" fill="#472c7a"/>
<path d="M203.75 206.02 206.44 207.01 207.95 205.42 205.26 204.42z" fill="#482878"/>
<path d="M206.44 207.01 209.14 208 210.64 206.42 207.95 205.42z" fill="#482576"/>
<path d="M209.14 208 211.84 208.99 213.34 207.42 210.64 206.42z" fill="#482173"/>
<path d="M211.84 208.99 214.54 209.99 216.04 208.42 213.34 207.42z" fill="#481d6f"/>
<path d="M214.54 209.99 217.25 210.99 218.74 209.43 216.04 208.42z" fill="#481b6d"/>
<path d="M217.25 210.99 219.96 211.99 221.45 210.44 218.74 209.43z" fill="#481769"/>
<path d="M219.96 211.99 222.67 212.99 224.16 211.45 221.45 210.44z" fill="#471365"/>
<path d="M222.67 212.99 225.39 213.99 226.87 212.47 224.16 211.45z" fill="#471063"/>
<path d="M225.39 213.99 228.11 215 229.59 213.49 226.87 212.47z" fill="#460b5e"/>
<path d="M228.11 215 230.84 216.01 232.31 214.51 229.59 213.49z" fill="#46075a"/>
<path d="M125.73 180.42 128.31 181.33 129.88 179.46 127.29 178.55z" fill="#2e6d8e"/>
<path d="M128.31 181.33 130.91 182.23 132.47 180.37 129.88 179.46z" fill="#2f6b8e"/>
<path d="M130.91 182.23 133.5 183.14 135.06 181.29 132.47 180.37z" fill="#30698e"/>
<path d="M133.5 183.14 136.1 184.04 137.66 182.21 135.06 181.29z" fill="#31668e"/>
<path d="M136.1 184.04 138.7 184.96 140.26 183.13 137.66 182.21z" fill="#32648e"/>
<path d="M138.7 184.96 141.31 185.87 142.86 184.05 140.26 183.13z" fill="#33628d"/>
<path d="M141.31 185.87 143.92 186.79 145.47 184.98 142.86 184.05z" fill="#34608d"/>
<path d="M143.92 186.79 146.53 187.71 148.08 185.91 145.47 184.98z" fill="#355e8d"/>
<path d="M146.53 187.71 149.15 188.63 150.69 186.84 148.08 185.91z" fill="#365c8d"/>
<path d="M149.15 188.63 151.77 189.55 153.31 187.78 150.69 186.84z" fill="#375a8c"/>
<path d="M151.77 189.55 154.39 190.48 155.93 188.71 153.31 187.78z" fill="#38588c"/>
<path d="M154.39 190.48 157.02 191.41 158.56 189.65 155.93 188.71z" fill="#39558c"/>
<path d="M157.02 191.41 159.65 192.34 161.19 190.6 158.56 189.65z" fill="#3a538b"/>
<path d="M159.65 192.34 162.28 193.27 163.82 191.54 161.19 190.6z" fill="#3c508b"/>
<path d="M162.28 193.27 164.92 194.21 166.46 192.49 163.82 191.54z" fill="#3d4e8a"/>
<path d="M164.92 194.21 167.56 195.15 169.1 193.44 166.46 192.49z" fill="#3e4c8a"/>
<path d="M167.56 195.15 170.21 196.09 171.74 194.39 169.1 193.44z" fill="#3e4989"/>
<path d="M170.21 196.09 172.86 197.04 174.39 195.34 171.74 194.39z" fill="#404688"/>
<path d="M172.86 197.04 175.51 197.99 177.04 196.3 174.39 195.34z" fill="#414487"/>
<path d="M175.51 197.99 178.17 198.94 179.7 197.26 177.04 196.3z" fill="#424186"/>
<path d="M178.17 198.94 180.83 199.89 182.35 198.23 179.7 197.26z" fill="#423f85"/>
<path d="M180.83 199.89 183.49 200.85 185.02 199.19 182.35 198.23z" fill="#443b84"/>
<path d="M183.49 200.85 186.16 201.8 187.68 200.16 185.02 199.19z" fill="#443983"/>
<path d="M186.16 201.8 188.83 202.76 190.35 201.13 187.68 200.16z" fill="#453781"/>
<path d="M188.83 202.76 191.51 203.73 193.02 202.1 190.35 201.13z" fill="#46337f"/>
<path d="M191.51 203.73 194.19 204.69 195.7 203.08 193.02 202.1z" fill="#46307e"/>
<path d="M194.19 204.69 196.87 205.66 198.38 204.06 195.7 203.08z" fill="#472e7c"/>
<path d="M196.87 205.66 199.56 206.63 201.07 205.04 198.38 204.06z" fill="#472a7a"/>
<path d="M199.56 206.63 202.25 207.61 203.75 206.02 201.07 205.04z" fill="#482878"/>
<path d="M202.25 207.61 204.94 208.59 206.44 207.01 203.75 206.02z" fill="#482475"/>
<path d="M204.94 208.59 207.64 209.56 209.14 208 206.44 207.01z" fill="#482173"/>
<path d="M207.64 209.56 210.34 210.55 211.84 208.99 209.14 208z" fill="#481d6f"/>
<path d="M210.34 210.55 213.04 211.53 214.54 209.99 211.84 208.99z" fill="#481b6d"/>
<path d="M213.04 211.53 215.75 212.52 217.25 210.99 214.54 209.99z" fill="#481769"/>
<path d="M215.75 212.52 218.47 213.51 219.96 211.99 217.25 210.99z" fill="#481467"/>
<path d="M218.47 213.51 221.18 214.5 222.67 212.99 219.96 211.99z" fill="#471063"/>
<path d="M221.18 214.5 223.9 215.5 225.39 213.99 222.67 212.99z" fill="#470d60"/>
<path d="M223.9 215.5 226.63 216.5 228.11 215 225.39 213.99z" fill="#46085c"/>
<path d="M226.63 216.5 229.35 217.5 230.84 216.01 228.11 215z" fill="#450559"/>
<path d="M124.16 182.28 126.75 183.17 128.31 181.33 125.73 180.42z" fill="#31668e"/>
<path d="M126.75 183.17 129.34 184.06 130.91 182.23 128.31 181.33z" fill="#32648e"/>
<path d="M129.34 184.06 131.94 184.96 133.5 183.14 130.91 182.23z" fill="#33628d"/>
<path d="M131.94 184.96 134.54 185.86 136.1 184.04 133.5 183.14z" fill="#34608d"/>
<path d="M134.54 185.86 137.14 186.76 138.7 184.96 136.1 184.04z" fill="#355e8d"/>
<path d="M137.14 186.76 139.75 187.66 141.31 185.87 138.7 184.96z" fill="#365c8d"/>
<path d="M139.75 187.66 142.36 188.57 143.92 186.79 141.31 185.87z" fill="#375a8c"/>
<path d="M142.36 188.57 144.97 189.48 146.53 187.71 143.92 186.79z" fill="#38588c"/>
<path d="M144.97 189.48 147.59 190.39 149.15 188.63 146.53 187.71z" fill="#39558c"/>
<path d="M147.59 190.39 150.21 191.31 151.77 189.55 149.15 188.63z" fill="#3a538b"/>
<path d="M150.21 191.31 152.84 192.22 154.39 190.48 151.77 189.55z" fill="#3b518b"/>
<path d="M152.84 192.22 155.47 193.14 157.02 191.41 154.39 190.48z" fill="#3c4f8a"/>
<path d="M155.47 193.14 158.1 194.06 159.65 192.34 157.02 191.41z" fill="#3d4d8a"/>
<path d="M158.1 194.06 160.74 194.99 162.28 193.27 159.65 192.34z" fill="#3e4a89"/>
<path d="M160.74 194.99 163.38 195.92 164.92 194.21 162.28 193.27z" fill="#3f4889"/>
<path d="M163.38 195.92 166.02 196.85 167.56 195.15 164.92 194.21z" fill="#404688"/>
<path d="M166.02 196.85 168.67 197.78 170.21 196.09 167.56 195.15z" fill="#414487"/>
<path d="M168.67 197.78 171.32 198.71 172.86 197.04 170.21 196.09z" fill="#424186"/>
<path d="M171.32 198.71 173.98 199.65 175.51 197.99 172.86 197.04z" fill="#423f85"/>
<path d="M173.98 199.65 176.64 200.59 178.17 198.94 175.51 197.99z" fill="#433d84"/>
<path d="M176.64 200.59 179.3 201.53 180.83 199.89 178.17 198.94z" fill="#443a83"/>
<path d="M179.3 201.53 181.97 202.48 183.49 200.85 180.83 199.89z" fill="#453882"/>
<path d="M181.97 202.48 184.64 203.43 186.16 201.8 183.49 200.85z" fill="#463480"/>
<path d="M184.64 203.43 187.31 204.38 188.83 202.76 186.16 201.8z" fill="#46327e"/>
<path d="M187.31 204.38 189.99 205.33 191.51 203.73 188.83 202.76z" fill="#472f7d"/>
<path d="M189.99 205.33 192.67 206.29 194.19 204.69 191.51 203.73z" fill="#472d7b"/>
<path d="M192.67 206.29 195.35 207.25 196.87 205.66 194.19 204.69z" fill="#482979"/>
<path d="M195.35 207.25 198.04 208.21 199.56 206.63 196.87 205.66z" fill="#482677"/>
<path d="M198.04 208.21 200.74 209.17 202.25 207.61 199.56 206.63z" fill="#482475"/>
<path d="M200.74 209.17 203.43 210.14 204.94 208.59 202.25 207.61z" fill="#482173"/>
<path d="M203.43 210.14 206.13 211.11 207.64 209.56 204.94 208.59z" fill="#481d6f"/>
<path d="M206.13 211.11 208.84 212.08 210.34 210.55 207.64 209.56z" fill="#481b6d"/>
<path d="M208.84 212.08 211.54 213.05 213.04 211.53 210.34 210.55z" fill="#48186a"/>
<path d="M211.54 213.05 214.26 214.03 215.75 212.52 213.04 211.53z" fill="#481467"/>
<path d="M214.26 214.03 216.97 215.01 218.47 213.51 215.75 212.52z" fill="#471164"/>
<path d="M216.97 215.01 219.69 215.99 221.18 214.5 218.47 213.51z" fill="#470e61"/>
<path d="M219.69 215.99 222.41 216.98 223.9 215.5 221.18 214.5z" fill="#460a5d"/>
<path d="M222.41 216.98 225.14 217.97 226.63 216.5 223.9 215.5z" fill="#46075a"/>
<path d="M225.14 217.97 227.87 218.96 229.35 217.5 226.63 216.5z" fill="#440256"/>
<path d="M122.59 184.11 125.18 184.99 126.75 183.17 124.16 182.28z" fill="#355f8d"/>
<path d="M125.18 184.99 127.77 185.88 129.34 184.06 126.75 183.17z" fill="#365d8d"/>
<path d="M127.77 185.88 130.37 186.76 131.94 184.96 129.34 184.06z" fill="#375b8d"/>
<path d="M130.37 186.76 132.97 187.65 134.54 185.86 131.94 184.96z" fill="#375a8c"/>
<path d="M132.97 187.65 135.58 188.54 137.14 186.76 134.54 185.86z" fill="#38588c"/>
<path d="M135.58 188.54 138.19 189.44 139.75 187.66 137.14 186.76z" fill="#39558c"/>
<path d="M138.19 189.44 140.8 190.33 142.36 188.57 139.75 187.66z" fill="#3a538b"/>
<path d="M140.8 190.33 143.42 191.23 144.97 189.48 142.36 188.57z" fill="#3b528b"/>
<path d="M143.42 191.23 146.04 192.14 147.59 190.39 144.97 189.48z" fill="#3c508b"/>
<path d="M146.04 192.14 148.66 193.04 150.21 191.31 147.59 190.39z" fill="#3d4e8a"/>
<path d="M148.66 193.04 151.29 193.95 152.84 192.22 150.21 191.31z" fill="#3e4c8a"/>
<path d="M151.29 193.95 153.92 194.86 155.47 193.14 152.84 192.22z" fill="#3e4989"/>
<path d="M153.92 194.86 156.55 195.77 158.1 194.06 155.47 193.14z" fill="#3f4788"/>
<path d="M156.55 195.77 159.19 196.68 160.74 194.99 158.1 194.06z" fill="#404688"/>
<path d="M159.19 196.68 161.83 197.6 163.38 195.92 160.74 194.99z" fill="#414487"/>
<path d="M161.83 197.6 164.48 198.52 166.02 196.85 163.38 195.92z" fill="#424186"/>
<path d="M164.48 198.52 167.13 199.44 168.67 197.78 166.02 196.85z" fill="#423f85"/>
<path d="M167.13 199.44 169.78 200.37 171.32 198.71 168.67 197.78z" fill="#433d84"/>
<path d="M169.78 200.37 172.44 201.29 173.98 199.65 171.32 198.71z" fill="#443a83"/>
<path d="M172.44 201.29 175.1 202.22 176.64 200.59 173.98 199.65z" fill="#453882"/>
<path d="M175.1 202.22 177.77 203.16 179.3 201.53 176.64 200.59z" fill="#453581"/>
<path d="M177.77 203.16 180.44 204.09 181.97 202.48 179.3 201.53z" fill="#46337f"/>
<path d="M180.44 204.09 183.11 205.03 184.64 203.43 181.97 202.48z" fill="#46307e"/>
<path d="M183.11 205.03 185.78 205.97 187.31 204.38 184.64 203.43z" fill="#472e7c"/>
<path d="M185.78 205.97 188.46 206.91 189.99 205.33 187.31 204.38z" fill="#472c7a"/>
<path d="M188.46 206.91 191.15 207.86 192.67 206.29 189.99 205.33z" fill="#482979"/>
<path d="M191.15 207.86 193.84 208.81 195.35 207.25 192.67 206.29z" fill="#482677"/>
<path d="M193.84 208.81 196.53 209.76 198.04 208.21 195.35 207.25z" fill="#482475"/>
<path d="M196.53 209.76 199.22 210.71 200.74 209.17 198.04 208.21z" fill="#482071"/>
<path d="M199.22 210.71 201.92 211.67 203.43 210.14 200.74 209.17z" fill="#481d6f"/>
<path d="M201.92 211.67 204.62 212.63 206.13 211.11 203.43 210.14z" fill="#481b6d"/>
<path d="M204.62 212.63 207.33 213.59 208.84 212.08 206.13 211.11z" fill="#48186a"/>
<path d="M207.33 213.59 210.04 214.55 211.54 213.05 208.84 212.08z" fill="#481668"/>
<path d="M210.04 214.55 212.75 215.52 214.26 214.03 211.54 213.05z" fill="#471365"/>
<path d="M212.75 215.52 215.47 216.49 216.97 215.01 214.26 214.03z" fill="#470e61"/>
<path d="M215.47 216.49 218.19 217.46 219.69 215.99 216.97 215.01z" fill="#460b5e"/>
<path d="M218.19 217.46 220.92 218.44 222.41 216.98 219.69 215.99z" fill="#46085c"/>
<path d="M220.92 218.44 223.65 219.42 225.14 217.97 222.41 216.98z" fill="#450559"/>
<path d="M223.65 219.42 226.38 220.4 227.87 218.96 225.14 217.97z" fill="#440154"/>
<path d="M121.01 185.93 123.6 186.8 125.18 184.99 122.59 184.11z" fill="#38588c"/>
<path d="M123.6 186.8 126.2 187.67 127.77 185.88 125.18 184.99z" fill="#39568c"/>
<path d="M126.2 187.67 128.8 188.55 130.37 186.76 127.77 185.88z" fill="#3a548c"/>
<path d="M128.8 188.55 131.4 189.43 132.97 187.65 130.37 186.76z" fill="#3a538b"/>
<path d="M131.4 189.43 134.01 190.31 135.58 188.54 132.97 187.65z" fill="#3b518b"/>
<path d="M134.01 190.31 136.62 191.19 138.19 189.44 135.58 188.54z" fill="#3c508b"/>
<path d="M136.62 191.19 139.23 192.08 140.8 190.33 138.19 189.44z" fill="#3d4e8a"/>
<path d="M139.23 192.08 141.85 192.97 143.42 191.23 140.8 190.33z" fill="#3e4c8a"/>
<path d="M141.85 192.97 144.48 193.86 146.04 192.14 143.42 191.23z" fill="#3e4a89"/>
<path d="M144.48 193.86 147.1 194.75 148.66 193.04 146.04 192.14z" fill="#3f4889"/>
<path d="M147.1 194.75 149.73 195.65 151.29 193.95 148.66 193.04z" fill="#404688"/>
<path d="M149.73 195.65 152.36 196.55 153.92 194.86 151.29 193.95z" fill="#404588"/>
<path d="M152.36 196.55 155 197.45 156.55 195.77 153.92 194.86z" fill="#414287"/>
<path d="M155 197.45 157.64 198.36 159.19 196.68 156.55 195.77z" fill="#424086"/>
<path d="M157.64 198.36 160.29 199.26 161.83 197.6 159.19 196.68z" fill="#433e85"/>
<path d="M160.29 199.26 162.93 200.17 164.48 198.52 161.83 197.6z" fill="#433d84"/>
<path d="M162.93 200.17 165.59 201.08 167.13 199.44 164.48 198.52z" fill="#443a83"/>
<path d="M165.59 201.08 168.24 202 169.78 200.37 167.13 199.44z" fill="#453882"/>
<path d="M168.24 202 170.9 202.92 172.44 201.29 169.78 200.37z" fill="#453581"/>
<path d="M170.9 202.92 173.56 203.84 175.1 202.22 172.44 201.29z" fill="#46337f"/>
<path d="M173.56 203.84 176.23 204.76 177.77 203.16 175.1 202.22z" fill="#46327e"/>
<path d="M176.23 204.76 178.9 205.68 180.44 204.09 177.77 203.16z" fill="#472f7d"/>
<path d="M178.9 205.68 181.58 206.61 183.11 205.03 180.44 204.09z" fill="#472d7b"/>
<path d="M181.58 206.61 184.25 207.54 185.78 205.97 183.11 205.03z" fill="#472a7a"/>
<path d="M184.25 207.54 186.94 208.48 188.46 206.91 185.78 205.97z" fill="#482878"/>
<path d="M186.94 208.48 189.62 209.41 191.15 207.86 188.46 206.91z" fill="#482576"/>
<path d="M189.62 209.41 192.31 210.35 193.84 208.81 191.15 207.86z" fill="#482374"/>
<path d="M192.31 210.35 195.01 211.29 196.53 209.76 193.84 208.81z" fill="#482071"/>
<path d="M195.01 211.29 197.7 212.23 199.22 210.71 196.53 209.76z" fill="#481d6f"/>
<path d="M197.7 212.23 200.41 213.18 201.92 211.67 199.22 210.71z" fill="#481b6d"/>
<path d="M200.41 213.18 203.11 214.13 204.62 212.63 201.92 211.67z" fill="#48186a"/>
<path d="M203.11 214.13 205.82 215.08 207.33 213.59 204.62 212.63z" fill="#481668"/>
<path d="M205.82 215.08 208.53 216.03 210.04 214.55 207.33 213.59z" fill="#471365"/>
<path d="M208.53 216.03 211.25 216.99 212.75 215.52 210.04 214.55z" fill="#471063"/>
<path d="M211.25 216.99 213.97 217.95 215.47 216.49 212.75 215.52z" fill="#470d60"/>
<path d="M213.97 217.95 216.69 218.91 218.19 217.46 215.47 216.49z" fill="#460a5d"/>
<path d="M216.69 218.91 219.42 219.88 220.92 218.44 218.19 217.46z" fill="#46075a"/>
<path d="M219.42 219.88 222.15 220.85 223.65 219.42 220.92 218.44z" fill="#450457"/>
<path d="M222.15 220.85 224.89 221.82 226.38 220.4 223.65 219.42z" fill="#440154"/>
<path d="M119.43 187.72 122.03 188.58 123.6 186.8 121.01 185.93z" fill="#3b518b"/>
<path d="M122.03 188.58 124.62 189.44 126.2 187.67 123.6 186.8z" fill="#3c508b"/>
<path d="M124.62 189.44 127.22 190.31 128.8 188.55 126.2 187.67z" fill="#3c4f8a"/>
<path d="M127.22 190.31 129.83 191.18 131.4 189.43 128.8 188.55z" fill="#3d4d8a"/>
<path d="M129.83 191.18 132.44 192.05 134.01 190.31 131.4 189.43z" fill="#3e4c8a"/>
<path d="M132.44 192.05 135.05 192.92 136.62 191.19 134.01 190.31z" fill="#3e4989"/>
<path d="M135.05 192.92 137.67 193.8 139.23 192.08 136.62 191.19z" fill="#3f4889"/>
<path d="M137.67 193.8 140.29 194.68 141.85 192.97 139.23 192.08z" fill="#404688"/>
<path d="M140.29 194.68 142.91 195.56 144.48 193.86 141.85 192.97z" fill="#404588"/>
<path d="M142.91 195.56 145.54 196.45 147.1 194.75 144.48 193.86z" fill="#414287"/>
<path d="M145.54 196.45 148.17 197.33 149.73 195.65 147.1 194.75z" fill="#424186"/>
<path d="M148.17 197.33 150.8 198.22 152.36 196.55 149.73 195.65z" fill="#423f85"/>
<path d="M150.8 198.22 153.44 199.11 155 197.45 152.36 196.55z" fill="#433e85"/>
<path d="M153.44 199.11 156.09 200.01 157.64 198.36 155 197.45z" fill="#443b84"/>
<path d="M156.09 200.01 158.73 200.9 160.29 199.26 157.64 198.36z" fill="#443983"/>
<path d="M158.73 200.9 161.38 201.8 162.93 200.17 160.29 199.26z" fill="#453882"/>
<path d="M161.38 201.8 164.04 202.71 165.59 201.08 162.93 200.17z" fill="#453581"/>
<path d="M164.04 202.71 166.69 203.61 168.24 202 165.59 201.08z" fill="#463480"/>
<path d="M166.69 203.61 169.36 204.52 170.9 202.92 168.24 202z" fill="#46327e"/>
<path d="M169.36 204.52 172.02 205.43 173.56 203.84 170.9 202.92z" fill="#472f7d"/>
<path d="M172.02 205.43 174.69 206.34 176.23 204.76 173.56 203.84z" fill="#472e7c"/>
<path d="M174.69 206.34 177.36 207.25 178.9 205.68 176.23 204.76z" fill="#472c7a"/>
<path d="M177.36 207.25 180.04 208.17 181.58 206.61 178.9 205.68z" fill="#482979"/>
<path d="M180.04 208.17 182.72 209.09 184.25 207.54 181.58 206.61z" fill="#482677"/>
<path d="M182.72 209.09 185.41 210.02 186.94 208.48 184.25 207.54z" fill="#482576"/>
<path d="M185.41 210.02 188.09 210.94 189.62 209.41 186.94 208.48z" fill="#482374"/>
<path d="M188.09 210.94 190.79 211.87 192.31 210.35 189.62 209.41z" fill="#482071"/>
<path d="M190.79 211.87 193.48 212.8 195.01 211.29 192.31 210.35z" fill="#481d6f"/>
<path d="M193.48 212.8 196.18 213.73 197.7 212.23 195.01 211.29z" fill="#481c6e"/>
<path d="M196.18 213.73 198.89 214.67 200.41 213.18 197.7 212.23z" fill="#481a6c"/>
<path d="M198.89 214.67 201.59 215.61 203.11 214.13 200.41 213.18z" fill="#481769"/>
<path d="M201.59 215.61 204.31 216.55 205.82 215.08 203.11 214.13z" fill="#481467"/>
<path d="M204.31 216.55 207.02 217.49 208.53 216.03 205.82 215.08z" fill="#471164"/>
<path d="M207.02 217.49 209.74 218.44 211.25 216.99 208.53 216.03z" fill="#470e61"/>
<path d="M209.74 218.44 212.46 219.39 213.97 217.95 211.25 216.99z" fill="#460b5e"/>
<path d="M212.46 219.39 215.19 220.34 216.69 218.91 213.97 217.95z" fill="#46085c"/>
<path d="M215.19 220.34 217.92 221.3 219.42 219.88 216.69 218.91z" fill="#450559"/>
<path d="M217.92 221.3 220.66 222.25 222.15 220.85 219.42 219.88z" fill="#440256"/>
<path d="M220.66 222.25 223.39 223.21 224.89 221.82 222.15 220.85z" fill="#440154"/>
<path d="M117.85 189.49 120.44 190.34 122.03 188.58 119.43 187.72z" fill="#3e4a89"/>
<path d="M120.44 190.34 123.04 191.2 124.62 189.44 122.03 188.58z" fill="#3e4989"/>
<path d="M123.04 191.2 125.65 192.05 127.22 190.31 124.62 189.44z" fill="#3f4889"/>
<path d="M125.65 192.05 128.25 192.91 129.83 191.18 127.22 190.31z" fill="#3f4788"/>
<path d="M128.25 192.91 130.86 193.77 132.44 192.05 129.83 191.18z" fill="#404588"/>
<path d="M130.86 193.77 133.48 194.64 135.05 192.92 132.44 192.05z" fill="#414487"/>
<path d="M133.48 194.64 136.09 195.5 137.67 193.8 135.05 192.92z" fill="#414287"/>
<path d="M136.09 195.5 138.72 196.37 140.29 194.68 137.67 193.8z" fill="#424186"/>
<path d="M138.72 196.37 141.34 197.24 142.91 195.56 140.29 194.68z" fill="#423f85"/>
<path d="M141.34 197.24 143.97 198.12 145.54 196.45 142.91 195.56z" fill="#433e85"/>
<path d="M143.97 198.12 146.61 198.99 148.17 197.33 145.54 196.45z" fill="#443b84"/>
<path d="M146.61 198.99 149.24 199.87 150.8 198.22 148.17 197.33z" fill="#443a83"/>
<path d="M149.24 199.87 151.88 200.75 153.44 199.11 150.8 198.22z" fill="#443983"/>
<path d="M151.88 200.75 154.53 201.64 156.09 200.01 153.44 199.11z" fill="#453781"/>
<path d="M154.53 201.64 157.18 202.53 158.73 200.9 156.09 200.01z" fill="#453581"/>
<path d="M157.18 202.53 159.83 203.41 161.38 201.8 158.73 200.9z" fill="#46337f"/>
<path d="M159.83 203.41 162.48 204.31 164.04 202.71 161.38 201.8z" fill="#46327e"/>
<path d="M162.48 204.31 165.14 205.2 166.69 203.61 164.04 202.71z" fill="#472f7d"/>
<path d="M165.14 205.2 167.81 206.1 169.36 204.52 166.69 203.61z" fill="#472e7c"/>
<path d="M167.81 206.1 170.48 207 172.02 205.43 169.36 204.52z" fill="#472c7a"/>
<path d="M170.48 207 173.15 207.9 174.69 206.34 172.02 205.43z" fill="#472a7a"/>
<path d="M173.15 207.9 175.82 208.8 177.36 207.25 174.69 206.34z" fill="#482878"/>
<path d="M175.82 208.8 178.5 209.71 180.04 208.17 177.36 207.25z" fill="#482677"/>
<path d="M178.5 209.71 181.18 210.62 182.72 209.09 180.04 208.17z" fill="#482475"/>
<path d="M181.18 210.62 183.87 211.53 185.41 210.02 182.72 209.09z" fill="#482374"/>
<path d="M183.87 211.53 186.56 212.45 188.09 210.94 185.41 210.02z" fill="#482071"/>
<path d="M186.56 212.45 189.26 213.37 190.79 211.87 188.09 210.94z" fill="#481d6f"/>
<path d="M189.26 213.37 191.96 214.29 193.48 212.8 190.79 211.87z" fill="#481c6e"/>
<path d="M191.96 214.29 194.66 215.21 196.18 213.73 193.48 212.8z" fill="#481a6c"/>
<path d="M194.66 215.21 197.36 216.14 198.89 214.67 196.18 213.73z" fill="#481769"/>
<path d="M197.36 216.14 200.07 217.07 201.59 215.61 198.89 214.67z" fill="#481668"/>
<path d="M200.07 217.07 202.79 218 204.31 216.55 201.59 215.61z" fill="#471365"/>
<path d="M202.79 218 205.51 218.93 207.02 217.49 204.31 216.55z" fill="#471063"/>
<path d="M205.51 218.93 208.23 219.87 209.74 218.44 207.02 217.49z" fill="#470d60"/>
<path d="M208.23 219.87 210.95 220.81 212.46 219.39 209.74 218.44z" fill="#460b5e"/>
<path d="M210.95 220.81 213.68 221.75 215.19 220.34 212.46 219.39z" fill="#46085c"/>
<path d="M213.68 221.75 216.42 222.69 217.92 221.3 215.19 220.34z" fill="#450559"/>
<path d="M216.42 222.69 219.15 223.64 220.66 222.25 217.92 221.3z" fill="#440256"/>
<path d="M219.15 223.64 221.9 224.59 223.39 223.21 220.66 222.25z" fill="#440154"/>
<path d="M116.26 191.24 118.86 192.09 120.44 190.34 117.85 189.49z" fill="#404588"/>
<path d="M118.86 192.09 121.46 192.93 123.04 191.2 120.44 190.34z" fill="#414487"/>
<path d="M121.46 192.93 124.06 193.78 125.65 192.05 123.04 191.2z" fill="#414287"/>
<path d="M124.06 193.78 126.67 194.62 128.25 192.91 125.65 192.05z" fill="#424186"/>
<path d="M126.67 194.62 129.28 195.47 130.86 193.77 128.25 192.91z" fill="#424086"/>
<path d="M129.28 195.47 131.9 196.33 133.48 194.64 130.86 193.77z" fill="#433e85"/>
<path d="M131.9 196.33 134.52 197.18 136.09 195.5 133.48 194.64z" fill="#433d84"/>
<path d="M134.52 197.18 137.14 198.04 138.72 196.37 136.09 195.5z" fill="#443b84"/>
<path d="M137.14 198.04 139.77 198.9 141.34 197.24 138.72 196.37z" fill="#443a83"/>
<path d="M139.77 198.9 142.4 199.77 143.97 198.12 141.34 197.24z" fill="#443983"/>
<path d="M142.4 199.77 145.04 200.63 146.61 198.99 143.97 198.12z" fill="#453882"/>
<path d="M145.04 200.63 147.68 201.5 149.24 199.87 146.61 198.99z" fill="#453581"/>
<path d="M147.68 201.5 150.32 202.37 151.88 200.75 149.24 199.87z" fill="#463480"/>
<path d="M150.32 202.37 152.96 203.25 154.53 201.64 151.88 200.75z" fill="#46337f"/>
<path d="M152.96 203.25 155.62 204.13 157.18 202.53 154.53 201.64z" fill="#46307e"/>
<path d="M155.62 204.13 158.27 205 159.83 203.41 157.18 202.53z" fill="#472f7d"/>
<path d="M158.27 205 160.93 205.89 162.48 204.31 159.83 203.41z" fill="#472e7c"/>
<path d="M160.93 205.89 163.59 206.77 165.14 205.2 162.48 204.31z" fill="#472d7b"/>
<path d="M163.59 206.77 166.26 207.66 167.81 206.1 165.14 205.2z" fill="#472a7a"/>
<path d="M166.26 207.66 168.93 208.55 170.48 207 167.81 206.1z" fill="#482979"/>
<path d="M168.93 208.55 171.6 209.44 173.15 207.9 170.48 207z" fill="#482677"/>
<path d="M171.6 209.44 174.28 210.33 175.82 208.8 173.15 207.9z" fill="#482576"/>
<path d="M174.28 210.33 176.96 211.23 178.5 209.71 175.82 208.8z" fill="#482475"/>
<path d="M176.96 211.23 179.64 212.13 181.18 210.62 178.5 209.71z" fill="#482173"/>
<path d="M179.64 212.13 182.33 213.03 183.87 211.53 181.18 210.62z" fill="#482071"/>
<path d="M182.33 213.03 185.03 213.94 186.56 212.45 183.87 211.53z" fill="#481d6f"/>
<path d="M185.03 213.94 187.72 214.85 189.26 213.37 186.56 212.45z" fill="#481c6e"/>
<path d="M187.72 214.85 190.42 215.76 191.96 214.29 189.26 213.37z" fill="#481a6c"/>
<path d="M190.42 215.76 193.13 216.67 194.66 215.21 191.96 214.29z" fill="#48186a"/>
<path d="M193.13 216.67 195.84 217.59 197.36 216.14 194.66 215.21z" fill="#481668"/>
<path d="M195.84 217.59 198.55 218.5 200.07 217.07 197.36 216.14z" fill="#481467"/>
<path d="M198.55 218.5 201.27 219.42 202.79 218 200.07 217.07z" fill="#471164"/>
<path d="M201.27 219.42 203.99 220.35 205.51 218.93 202.79 218z" fill="#471063"/>
<path d="M203.99 220.35 206.71 221.27 208.23 219.87 205.51 218.93z" fill="#470d60"/>
<path d="M206.71 221.27 209.44 222.2 210.95 220.81 208.23 219.87z" fill="#460a5d"/>
<path d="M209.44 222.2 212.17 223.13 213.68 221.75 210.95 220.81z" fill="#46085c"/>
<path d="M212.17 223.13 214.91 224.07 216.42 222.69 213.68 221.75z" fill="#450559"/>
<path d="M214.91 224.07 217.65 225.01 219.15 223.64 216.42 222.69z" fill="#440256"/>
<path d="M217.65 225.01 220.39 225.95 221.9 224.59 219.15 223.64z" fill="#440154"/>
<path d="M114.67 192.98 117.27 193.81 118.86 192.09 116.26 191.24z" fill="#423f85"/>
<path d="M117.27 193.81 119.87 194.64 121.46 192.93 118.86 192.09z" fill="#433e85"/>
<path d="M119.87 194.64 122.47 195.48 124.06 193.78 121.46 192.93z" fill="#433d84"/>
<path d="M122.47 195.48 125.09 196.31 126.67 194.62 124.06 193.78z" fill="#443b84"/>
<path d="M125.09 196.31 127.7 197.16 129.28 195.47 126.67 194.62z" fill="#443a83"/>
<path d="M127.7 197.16 130.32 198 131.9 196.33 129.28 195.47z" fill="#443983"/>
<path d="M130.32 198 132.94 198.85 134.52 197.18 131.9 196.33z" fill="#453882"/>
<path d="M132.94 198.85 135.56 199.69 137.14 198.04 134.52 197.18z" fill="#453781"/>
<path d="M135.56 199.69 138.19 200.54 139.77 198.9 137.14 198.04z" fill="#453581"/>
<path d="M138.19 200.54 140.83 201.4 142.4 199.77 139.77 198.9z" fill="#463480"/>
<path d="M140.83 201.4 143.46 202.25 145.04 200.63 142.4 199.77z" fill="#46337f"/>
<path d="M143.46 202.25 146.1 203.11 147.68 201.5 145.04 200.63z" fill="#46327e"/>
<path d="M146.1 203.11 148.75 203.97 150.32 202.37 147.68 201.5z" fill="#46307e"/>
<path d="M148.75 203.97 151.4 204.84 152.96 203.25 150.32 202.37z" fill="#472f7d"/>
<path d="M151.4 204.84 154.05 205.7 155.62 204.13 152.96 203.25z" fill="#472d7b"/>
<path d="M154.05 205.7 156.71 206.57 158.27 205 155.62 204.13z" fill="#472c7a"/>
<path d="M156.71 206.57 159.37 207.45 160.93 205.89 158.27 205z" fill="#472a7a"/>
<path d="M159.37 207.45 162.03 208.32 163.59 206.77 160.93 205.89z" fill="#482979"/>
<path d="M162.03 208.32 164.7 209.2 166.26 207.66 163.59 206.77z" fill="#482878"/>
<path d="M164.7 209.2 167.37 210.08 168.93 208.55 166.26 207.66z" fill="#482677"/>
<path d="M167.37 210.08 170.05 210.96 171.6 209.44 168.93 208.55z" fill="#482475"/>
<path d="M170.05 210.96 172.73 211.84 174.28 210.33 171.6 209.44z" fill="#482374"/>
<path d="M172.73 211.84 175.41 212.73 176.96 211.23 174.28 210.33z" fill="#482173"/>
<path d="M175.41 212.73 178.1 213.62 179.64 212.13 176.96 211.23z" fill="#481f70"/>
<path d="M178.1 213.62 180.79 214.51 182.33 213.03 179.64 212.13z" fill="#481d6f"/>
<path d="M180.79 214.51 183.49 215.41 185.03 213.94 182.33 213.03z" fill="#481c6e"/>
<path d="M183.49 215.41 186.19 216.3 187.72 214.85 185.03 213.94z" fill="#481b6d"/>
<path d="M186.19 216.3 188.89 217.2 190.42 215.76 187.72 214.85z" fill="#48186a"/>
<path d="M188.89 217.2 191.6 218.11 193.13 216.67 190.42 215.76z" fill="#481769"/>
<path d="M191.6 218.11 194.31 219.01 195.84 217.59 193.13 216.67z" fill="#481467"/>
<path d="M194.31 219.01 197.02 219.92 198.55 218.5 195.84 217.59z" fill="#471365"/>
<path d="M197.02 219.92 199.74 220.83 201.27 219.42 198.55 218.5z" fill="#471164"/>
<path d="M199.74 220.83 202.46 221.74 203.99 220.35 201.27 219.42z" fill="#470e61"/>
<path d="M202.46 221.74 205.19 222.66 206.71 221.27 203.99 220.35z" fill="#470d60"/>
<path d="M205.19 222.66 207.92 223.58 209.44 222.2 206.71 221.27z" fill="#460a5d"/>
<path d="M207.92 223.58 210.66 224.5 212.17 223.13 209.44 222.2z" fill="#46085c"/>
<path d="M210.66 224.5 213.4 225.42 214.91 224.07 212.17 223.13z" fill="#450559"/>
<path d="M213.4 225.42 216.14 226.35 217.65 225.01 214.91 224.07z" fill="#450457"/>
<path d="M216.14 226.35 218.89 227.28 220.39 225.95 217.65 225.01z" fill="#440154"/>
<path d="M113.07 194.69 115.67 195.51 117.27 193.81 114.67 192.98z" fill="#443983"/>
<path d="M115.67 195.51 118.28 196.33 119.87 194.64 117.27 193.81z" fill="#453882"/>
<path d="M118.28 196.33 120.88 197.16 122.47 195.48 119.87 194.64z" fill="#453781"/>
<path d="M120.88 197.16 123.5 197.98 125.09 196.31 122.47 195.48z" fill="#453781"/>
<path d="M123.5 197.98 126.11 198.82 127.7 197.16 125.09 196.31z" fill="#453581"/>
<path d="M126.11 198.82 128.73 199.65 130.32 198 127.7 197.16z" fill="#463480"/>
<path d="M128.73 199.65 131.35 200.48 132.94 198.85 130.32 198z" fill="#46337f"/>
<path d="M131.35 200.48 133.98 201.32 135.56 199.69 132.94 198.85z" fill="#46327e"/>
<path d="M133.98 201.32 136.61 202.16 138.19 200.54 135.56 199.69z" fill="#46307e"/>
<path d="M136.61 202.16 139.25 203.01 140.83 201.4 138.19 200.54z" fill="#472f7d"/>
<path d="M139.25 203.01 141.89 203.85 143.46 202.25 140.83 201.4z" fill="#472e7c"/>
<path d="M141.89 203.85 144.53 204.7 146.1 203.11 143.46 202.25z" fill="#472e7c"/>
<path d="M144.53 204.7 147.18 205.55 148.75 203.97 146.1 203.11z" fill="#472d7b"/>
<path d="M147.18 205.55 149.83 206.41 151.4 204.84 148.75 203.97z" fill="#472c7a"/>
<path d="M149.83 206.41 152.48 207.26 154.05 205.7 151.4 204.84z" fill="#472a7a"/>
<path d="M152.48 207.26 155.14 208.12 156.71 206.57 154.05 205.7z" fill="#482979"/>
<path d="M155.14 208.12 157.8 208.98 159.37 207.45 156.71 206.57z" fill="#482878"/>
<path d="M157.8 208.98 160.47 209.85 162.03 208.32 159.37 207.45z" fill="#482677"/>
<path d="M160.47 209.85 163.14 210.71 164.7 209.2 162.03 208.32z" fill="#482576"/>
<path d="M163.14 210.71 165.81 211.58 167.37 210.08 164.7 209.2z" fill="#482475"/>
<path d="M165.81 211.58 168.49 212.45 170.05 210.96 167.37 210.08z" fill="#482173"/>
<path d="M168.49 212.45 171.17 213.33 172.73 211.84 170.05 210.96z" fill="#482071"/>
<path d="M171.17 213.33 173.86 214.21 175.41 212.73 172.73 211.84z" fill="#481f70"/>
<path d="M173.86 214.21 176.55 215.08 178.1 213.62 175.41 212.73z" fill="#481d6f"/>
<path d="M176.55 215.08 179.24 215.97 180.79 214.51 178.1 213.62z" fill="#481c6e"/>
<path d="M179.24 215.97 181.94 216.85 183.49 215.41 180.79 214.51z" fill="#481b6d"/>
<path d="M181.94 216.85 184.64 217.74 186.19 216.3 183.49 215.41z" fill="#481a6c"/>
<path d="M184.64 217.74 187.35 218.63 188.89 217.2 186.19 216.3z" fill="#481769"/>
<path d="M187.35 218.63 190.06 219.52 191.6 218.11 188.89 217.2z" fill="#481668"/>
<path d="M190.06 219.52 192.77 220.42 194.31 219.01 191.6 218.11z" fill="#481467"/>
<path d="M192.77 220.42 195.49 221.31 197.02 219.92 194.31 219.01z" fill="#471365"/>
<path d="M195.49 221.31 198.21 222.21 199.74 220.83 197.02 219.92z" fill="#471164"/>
<path d="M198.21 222.21 200.94 223.12 202.46 221.74 199.74 220.83z" fill="#470e61"/>
<path d="M200.94 223.12 203.67 224.02 205.19 222.66 202.46 221.74z" fill="#470d60"/>
<path d="M203.67 224.02 206.4 224.93 207.92 223.58 205.19 222.66z" fill="#460b5e"/>
<path d="M206.4 224.93 209.14 225.84 210.66 224.5 207.92 223.58z" fill="#46085c"/>
<path d="M209.14 225.84 211.88 226.76 213.4 225.42 210.66 224.5z" fill="#46075a"/>
<path d="M211.88 226.76 214.63 227.67 216.14 226.35 213.4 225.42z" fill="#450559"/>
<path d="M214.63 227.67 217.38 228.59 218.89 227.28 216.14 226.35z" fill="#440256"/>
<path d="M111.47 196.38 114.07 197.19 115.67 195.51 113.07 194.69z" fill="#46337f"/>
<path d="M114.07 197.19 116.68 198 118.28 196.33 115.67 195.51z" fill="#46337f"/>
<path d="M116.68 198 119.29 198.82 120.88 197.16 118.28 196.33z" fill="#46327e"/>
<path d="M119.29 198.82 121.9 199.63 123.5 197.98 120.88 197.16z" fill="#46307e"/>
<path d="M121.9 199.63 124.52 200.46 126.11 198.82 123.5 197.98z" fill="#46307e"/>
<path d="M124.52 200.46 127.14 201.28 128.73 199.65 126.11 198.82z" fill="#472f7d"/>
<path d="M127.14 201.28 129.77 202.1 131.35 200.48 128.73 199.65z" fill="#472e7c"/>
<path d="M129.77 202.1 132.4 202.93 133.98 201.32 131.35 200.48z" fill="#472e7c"/>
<path d="M132.4 202.93 135.03 203.76 136.61 202.16 133.98 201.32z" fill="#472d7b"/>
<path d="M135.03 203.76 137.67 204.6 139.25 203.01 136.61 202.16z" fill="#472c7a"/>
<path d="M137.67 204.6 140.31 205.43 141.89 203.85 139.25 203.01z" fill="#472a7a"/>
<path d="M140.31 205.43 142.95 206.27 144.53 204.7 141.89 203.85z" fill="#472a7a"/>
<path d="M142.95 206.27 145.6 207.11 147.18 205.55 144.53 204.7z" fill="#482979"/>
<path d="M145.6 207.11 148.25 207.95 149.83 206.41 147.18 205.55z" fill="#482878"/>
<path d="M148.25 207.95 150.91 208.8 152.48 207.26 149.83 206.41z" fill="#482677"/>
<path d="M150.91 208.8 153.57 209.65 155.14 208.12 152.48 207.26z" fill="#482576"/>
<path d="M153.57 209.65 156.23 210.5 157.8 208.98 155.14 208.12z" fill="#482576"/>
<path d="M156.23 210.5 158.9 211.35 160.47 209.85 157.8 208.98z" fill="#482475"/>
<path d="M158.9 211.35 161.58 212.21 163.14 210.71 160.47 209.85z" fill="#482374"/>
<path d="M161.58 212.21 164.25 213.07 165.81 211.58 163.14 210.71z" fill="#482173"/>
<path d="M164.25 213.07 166.93 213.93 168.49 212.45 165.81 211.58z" fill="#482071"/>
<path d="M166.93 213.93 169.62 214.79 171.17 213.33 168.49 212.45z" fill="#481f70"/>
<path d="M169.62 214.79 172.3 215.66 173.86 214.21 171.17 213.33z" fill="#481d6f"/>
<path d="M172.3 215.66 175 216.53 176.55 215.08 173.86 214.21z" fill="#481c6e"/>
<path d="M175 216.53 177.69 217.4 179.24 215.97 176.55 215.08z" fill="#481b6d"/>
<path d="M177.69 217.4 180.39 218.28 181.94 216.85 179.24 215.97z" fill="#481a6c"/>
<path d="M180.39 218.28 183.1 219.15 184.64 217.74 181.94 216.85z" fill="#48186a"/>
<path d="M183.1 219.15 185.81 220.03 187.35 218.63 184.64 217.74z" fill="#481769"/>
<path d="M185.81 220.03 188.52 220.91 190.06 219.52 187.35 218.63z" fill="#481668"/>
<path d="M188.52 220.91 191.24 221.8 192.77 220.42 190.06 219.52z" fill="#481467"/>
<path d="M191.24 221.8 193.96 222.69 195.49 221.31 192.77 220.42z" fill="#471365"/>
<path d="M193.96 222.69 196.68 223.58 198.21 222.21 195.49 221.31z" fill="#471164"/>
<path d="M196.68 223.58 199.41 224.47 200.94 223.12 198.21 222.21z" fill="#471063"/>
<path d="M199.41 224.47 202.14 225.37 203.67 224.02 200.94 223.12z" fill="#470d60"/>
<path d="M202.14 225.37 204.88 226.26 206.4 224.93 203.67 224.02z" fill="#460b5e"/>
<path d="M204.88 226.26 207.62 227.16 209.14 225.84 206.4 224.93z" fill="#460a5d"/>
<path d="M207.62 227.16 210.36 228.07 211.88 226.76 209.14 225.84z" fill="#46085c"/>
<path d="M210.36 228.07 213.11 228.97 214.63 227.67 211.88 226.76z" fill="#46075a"/>
<path d="M213.11 228.97 215.86 229.88 217.38 228.59 214.63 227.67z" fill="#450559"/>
<path d="M109.87 198.05 112.47 198.85 114.07 197.19 111.47 196.38z" fill="#472e7c"/>
<path d="M112.47 198.85 115.08 199.65 116.68 198 114.07 197.19z" fill="#472e7c"/>
<path d="M115.08 199.65 117.69 200.46 119.29 198.82 116.68 198z" fill="#472d7b"/>
<path d="M117.69 200.46 120.3 201.26 121.9 199.63 119.29 198.82z" fill="#472d7b"/>
<path d="M120.3 201.26 122.92 202.07 124.52 200.46 121.9 199.63z" fill="#472c7a"/>
<path d="M122.92 202.07 125.55 202.89 127.14 201.28 124.52 200.46z" fill="#472c7a"/>
<path d="M125.55 202.89 128.17 203.7 129.77 202.1 127.14 201.28z" fill="#472a7a"/>
<path d="M128.17 203.7 130.8 204.52 132.4 202.93 129.77 202.1z" fill="#482979"/>
<path d="M130.8 204.52 133.44 205.34 135.03 203.76 132.4 202.93z" fill="#482979"/>
<path d="M133.44 205.34 136.08 206.16 137.67 204.6 135.03 203.76z" fill="#482878"/>
<path d="M136.08 206.16 138.72 206.99 140.31 205.43 137.67 204.6z" fill="#482878"/>
<path d="M138.72 206.99 141.37 207.82 142.95 206.27 140.31 205.43z" fill="#482677"/>
<path d="M141.37 207.82 144.02 208.65 145.6 207.11 142.95 206.27z" fill="#482576"/>
<path d="M144.02 208.65 146.67 209.48 148.25 207.95 145.6 207.11z" fill="#482576"/>
<path d="M146.67 209.48 149.33 210.32 150.91 208.8 148.25 207.95z" fill="#482475"/>
<path d="M149.33 210.32 152 211.16 153.57 209.65 150.91 208.8z" fill="#482374"/>
<path d="M152 211.16 154.66 212 156.23 210.5 153.57 209.65z" fill="#482374"/>
<path d="M154.66 212 157.33 212.84 158.9 211.35 156.23 210.5z" fill="#482173"/>
<path d="M157.33 212.84 160.01 213.69 161.58 212.21 158.9 211.35z" fill="#482071"/>
<path d="M160.01 213.69 162.69 214.53 164.25 213.07 161.58 212.21z" fill="#481f70"/>
<path d="M162.69 214.53 165.37 215.38 166.93 213.93 164.25 213.07z" fill="#481f70"/>
<path d="M165.37 215.38 168.06 216.24 169.62 214.79 166.93 213.93z" fill="#481d6f"/>
<path d="M168.06 216.24 170.75 217.09 172.3 215.66 169.62 214.79z" fill="#481c6e"/>
<path d="M170.75 217.09 173.44 217.95 175 216.53 172.3 215.66z" fill="#481b6d"/>
<path d="M173.44 217.95 176.14 218.82 177.69 217.4 175 216.53z" fill="#481a6c"/>
<path d="M176.14 218.82 178.84 219.68 180.39 218.28 177.69 217.4z" fill="#481a6c"/>
<path d="M178.84 219.68 181.55 220.55 183.1 219.15 180.39 218.28z" fill="#48186a"/>
<path d="M181.55 220.55 184.26 221.42 185.81 220.03 183.1 219.15z" fill="#481769"/>
<path d="M184.26 221.42 186.97 222.29 188.52 220.91 185.81 220.03z" fill="#481668"/>
<path d="M186.97 222.29 189.69 223.16 191.24 221.8 188.52 220.91z" fill="#481467"/>
<path d="M189.69 223.16 192.42 224.04 193.96 222.69 191.24 221.8z" fill="#471365"/>
<path d="M192.42 224.04 195.14 224.92 196.68 223.58 193.96 222.69z" fill="#471164"/>
<path d="M195.14 224.92 197.87 225.8 199.41 224.47 196.68 223.58z" fill="#471063"/>
<path d="M197.87 225.8 200.61 226.69 202.14 225.37 199.41 224.47z" fill="#470e61"/>
<path d="M200.61 226.69 203.35 227.57 204.88 226.26 202.14 225.37z" fill="#470d60"/>
<path d="M203.35 227.57 206.09 228.46 207.62 227.16 204.88 226.26z" fill="#460b5e"/>
<path d="M206.09 228.46 208.84 229.36 210.36 228.07 207.62 227.16z" fill="#460a5d"/>
<path d="M208.84 229.36 211.59 230.25 213.11 228.97 210.36 228.07z" fill="#46085c"/>
<path d="M211.59 230.25 214.35 231.15 215.86 229.88 213.11 228.97z" fill="#46075a"/>
<path d="M108.26 199.7 110.86 200.49 112.47 198.85 109.87 198.05z" fill="#482979"/>
<path d="M110.86 200.49 113.47 201.28 115.08 199.65 112.47 198.85z" fill="#482979"/>
<path d="M113.47 201.28 116.08 202.07 117.69 200.46 115.08 199.65z" fill="#482878"/>
<path d="M116.08 202.07 118.7 202.87 120.3 201.26 117.69 200.46z" fill="#482878"/>
<path d="M118.7 202.87 121.32 203.67 122.92 202.07 120.3 201.26z" fill="#482878"/>
<path d="M121.32 203.67 123.95 204.47 125.55 202.89 122.92 202.07z" fill="#482677"/>
<path d="M123.95 204.47 126.58 205.28 128.17 203.7 125.55 202.89z" fill="#482677"/>
<path d="M126.58 205.28 129.21 206.09 130.8 204.52 128.17 203.7z" fill="#482677"/>
<path d="M129.21 206.09 131.85 206.9 133.44 205.34 130.8 204.52z" fill="#482576"/>
<path d="M131.85 206.9 134.49 207.71 136.08 206.16 133.44 205.34z" fill="#482576"/>
<path d="M134.49 207.71 137.13 208.53 138.72 206.99 136.08 206.16z" fill="#482475"/>
<path d="M137.13 208.53 139.78 209.34 141.37 207.82 138.72 206.99z" fill="#482475"/>
<path d="M139.78 209.34 142.43 210.16 144.02 208.65 141.37 207.82z" fill="#482374"/>
<path d="M142.43 210.16 145.09 210.99 146.67 209.48 144.02 208.65z" fill="#482374"/>
<path d="M145.09 210.99 147.75 211.81 149.33 210.32 146.67 209.48z" fill="#482173"/>
<path d="M147.75 211.81 150.42 212.64 152 211.16 149.33 210.32z" fill="#482173"/>
<path d="M150.42 212.64 153.09 213.47 154.66 212 152 211.16z" fill="#482071"/>
<path d="M153.09 213.47 155.76 214.3 157.33 212.84 154.66 212z" fill="#482071"/>
<path d="M155.76 214.3 158.43 215.14 160.01 213.69 157.33 212.84z" fill="#481f70"/>
<path d="M158.43 215.14 161.12 215.98 162.69 214.53 160.01 213.69z" fill="#481d6f"/>
<path d="M161.12 215.98 163.8 216.82 165.37 215.38 162.69 214.53z" fill="#481d6f"/>
<path d="M163.8 216.82 166.49 217.66 168.06 216.24 165.37 215.38z" fill="#481c6e"/>
<path d="M166.49 217.66 169.18 218.51 170.75 217.09 168.06 216.24z" fill="#481c6e"/>
<path d="M169.18 218.51 171.88 219.36 173.44 217.95 170.75 217.09z" fill="#481b6d"/>
<path d="M171.88 219.36 174.58 220.21 176.14 218.82 173.44 217.95z" fill="#481a6c"/>
<path d="M174.58 220.21 177.29 221.06 178.84 219.68 176.14 218.82z" fill="#48186a"/>
<path d="M177.29 221.06 180 221.92 181.55 220.55 178.84 219.68z" fill="#48186a"/>
<path d="M180 221.92 182.71 222.78 184.26 221.42 181.55 220.55z" fill="#481769"/>
<path d="M182.71 222.78 185.43 223.64 186.97 222.29 184.26 221.42z" fill="#481668"/>
<path d="M185.43 223.64 188.15 224.5 189.69 223.16 186.97 222.29z" fill="#481668"/>
<path d="M188.15 224.5 190.87 225.37 192.42 224.04 189.69 223.16z" fill="#481467"/>
<path d="M190.87 225.37 193.6 226.24 195.14 224.92 192.42 224.04z" fill="#471365"/>
<path d="M193.6 226.24 196.34 227.11 197.87 225.8 195.14 224.92z" fill="#471164"/>
<path d="M196.34 227.11 199.07 227.98 200.61 226.69 197.87 225.8z" fill="#471063"/>
<path d="M199.07 227.98 201.82 228.86 203.35 227.57 200.61 226.69z" fill="#470e61"/>
<path d="M201.82 228.86 204.56 229.74 206.09 228.46 203.35 227.57z" fill="#470e61"/>
<path d="M204.56 229.74 207.31 230.62 208.84 229.36 206.09 228.46z" fill="#470d60"/>
<path d="M207.31 230.62 210.07 231.51 211.59 230.25 208.84 229.36z" fill="#460b5e"/>
<path d="M210.07 231.51 212.82 232.4 214.35 231.15 211.59 230.25z" fill="#460a5d"/>
<path d="M106.64 201.32 109.25 202.1 110.86 200.49 108.26 199.7z" fill="#482475"/>
<path d="M109.25 202.1 111.86 202.89 113.47 201.28 110.86 200.49z" fill="#482475"/>
<path d="M111.86 202.89 114.48 203.67 116.08 202.07 113.47 201.28z" fill="#482475"/>
<path d="M114.48 203.67 117.09 204.46 118.7 202.87 116.08 202.07z" fill="#482475"/>
<path d="M117.09 204.46 119.72 205.25 121.32 203.67 118.7 202.87z" fill="#482475"/>
<path d="M119.72 205.25 122.34 206.04 123.95 204.47 121.32 203.67z" fill="#482374"/>
<path d="M122.34 206.04 124.97 206.84 126.58 205.28 123.95 204.47z" fill="#482374"/>
<path d="M124.97 206.84 127.61 207.63 129.21 206.09 126.58 205.28z" fill="#482374"/>
<path d="M127.61 207.63 130.25 208.43 131.85 206.9 129.21 206.09z" fill="#482374"/>
<path d="M130.25 208.43 132.89 209.24 134.49 207.71 131.85 206.9z" fill="#482173"/>
<path d="M132.89 209.24 135.54 210.04 137.13 208.53 134.49 207.71z" fill="#482173"/>
<path d="M135.54 210.04 138.19 210.85 139.78 209.34 137.13 208.53z" fill="#482173"/>
<path d="M138.19 210.85 140.84 211.66 142.43 210.16 139.78 209.34z" fill="#482071"/>
<path d="M140.84 211.66 143.5 212.47 145.09 210.99 142.43 210.16z" fill="#482071"/>
<path d="M143.5 212.47 146.17 213.29 147.75 211.81 145.09 210.99z" fill="#482071"/>
<path d="M146.17 213.29 148.83 214.1 150.42 212.64 147.75 211.81z" fill="#481f70"/>
<path d="M148.83 214.1 151.5 214.92 153.09 213.47 150.42 212.64z" fill="#481f70"/>
<path d="M151.5 214.92 154.18 215.75 155.76 214.3 153.09 213.47z" fill="#481f70"/>
<path d="M154.18 215.75 156.86 216.57 158.43 215.14 155.76 214.3z" fill="#481d6f"/>
<path d="M156.86 216.57 159.54 217.4 161.12 215.98 158.43 215.14z" fill="#481d6f"/>
<path d="M159.54 217.4 162.23 218.23 163.8 216.82 161.12 215.98z" fill="#481c6e"/>
<path d="M162.23 218.23 164.92 219.06 166.49 217.66 163.8 216.82z" fill="#481c6e"/>
<path d="M164.92 219.06 167.62 219.9 169.18 218.51 166.49 217.66z" fill="#481b6d"/>
<path d="M167.62 219.9 170.31 220.74 171.88 219.36 169.18 218.51z" fill="#481b6d"/>
<path d="M170.31 220.74 173.02 221.58 174.58 220.21 171.88 219.36z" fill="#481a6c"/>
<path d="M173.02 221.58 175.73 222.42 177.29 221.06 174.58 220.21z" fill="#481a6c"/>
<path d="M175.73 222.42 178.44 223.27 180 221.92 177.29 221.06z" fill="#48186a"/>
<path d="M178.44 223.27 181.15 224.12 182.71 222.78 180 221.92z" fill="#481769"/>
<path d="M181.15 224.12 183.87 224.97 185.43 223.64 182.71 222.78z" fill="#481769"/>
<path d="M183.87 224.97 186.6 225.82 188.15 224.5 185.43 223.64z" fill="#481668"/>
<path d="M186.6 225.82 189.33 226.68 190.87 225.37 188.15 224.5z" fill="#481668"/>
<path d="M189.33 226.68 192.06 227.54 193.6 226.24 190.87 225.37z" fill="#481467"/>
<path d="M192.06 227.54 194.79 228.4 196.34 227.11 193.6 226.24z" fill="#471365"/>
<path d="M194.79 228.4 197.53 229.26 199.07 227.98 196.34 227.11z" fill="#471365"/>
<path d="M197.53 229.26 200.28 230.13 201.82 228.86 199.07 227.98z" fill="#471164"/>
<path d="M200.28 230.13 203.03 231 204.56 229.74 201.82 228.86z" fill="#471063"/>
<path d="M203.03 231 205.78 231.87 207.31 230.62 204.56 229.74z" fill="#471063"/>
<path d="M205.78 231.87 208.54 232.75 210.07 231.51 207.31 230.62z" fill="#470e61"/>
<path d="M208.54 232.75 211.3 233.62 212.82 232.4 210.07 231.51z" fill="#470d60"/>
<path d="M105.02 202.93 107.63 203.7 109.25 202.1 106.64 201.32z" fill="#482071"/>
<path d="M107.63 203.7 110.25 204.47 111.86 202.89 109.25 202.1z" fill="#482071"/>
<path d="M110.25 204.47 112.86 205.25 114.48 203.67 111.86 202.89z" fill="#482071"/>
<path d="M112.86 205.25 115.48 206.02 117.09 204.46 114.48 203.67z" fill="#482071"/>
<path d="M115.48 206.02 118.11 206.8 119.72 205.25 117.09 204.46z" fill="#482071"/>
<path d="M118.11 206.8 120.74 207.59 122.34 206.04 119.72 205.25z" fill="#482071"/>
<path d="M120.74 207.59 123.37 208.37 124.97 206.84 122.34 206.04z" fill="#482071"/>
<path d="M123.37 208.37 126.01 209.16 127.61 207.63 124.97 206.84z" fill="#482071"/>
<path d="M126.01 209.16 128.65 209.95 130.25 208.43 127.61 207.63z" fill="#482071"/>
<path d="M128.65 209.95 131.29 210.74 132.89 209.24 130.25 208.43z" fill="#481f70"/>
<path d="M131.29 210.74 133.94 211.54 135.54 210.04 132.89 209.24z" fill="#481f70"/>
<path d="M133.94 211.54 136.59 212.33 138.19 210.85 135.54 210.04z" fill="#481f70"/>
<path d="M136.59 212.33 139.25 213.13 140.84 211.66 138.19 210.85z" fill="#481f70"/>
<path d="M139.25 213.13 141.91 213.93 143.5 212.47 140.84 211.66z" fill="#481f70"/>
<path d="M141.91 213.93 144.58 214.74 146.17 213.29 143.5 212.47z" fill="#481f70"/>
<path d="M144.58 214.74 147.25 215.55 148.83 214.1 146.17 213.29z" fill="#481d6f"/>
<path d="M147.25 215.55 149.92 216.36 151.5 214.92 148.83 214.1z" fill="#481d6f"/>
<path d="M149.92 216.36 152.6 217.17 154.18 215.75 151.5 214.92z" fill="#481d6f"/>
<path d="M152.6 217.17 155.28 217.98 156.86 216.57 154.18 215.75z" fill="#481c6e"/>
<path d="M155.28 217.98 157.96 218.8 159.54 217.4 156.86 216.57z" fill="#481c6e"/>
<path d="M157.96 218.8 160.65 219.62 162.23 218.23 159.54 217.4z" fill="#481c6e"/>
<path d="M160.65 219.62 163.35 220.44 164.92 219.06 162.23 218.23z" fill="#481c6e"/>
<path d="M163.35 220.44 166.04 221.27 167.62 219.9 164.92 219.06z" fill="#481b6d"/>
<path d="M166.04 221.27 168.75 222.1 170.31 220.74 167.62 219.9z" fill="#481b6d"/>
<path d="M168.75 222.1 171.45 222.93 173.02 221.58 170.31 220.74z" fill="#481a6c"/>
<path d="M171.45 222.93 174.16 223.76 175.73 222.42 173.02 221.58z" fill="#481a6c"/>
<path d="M174.16 223.76 176.88 224.6 178.44 223.27 175.73 222.42z" fill="#481a6c"/>
<path d="M176.88 224.6 179.59 225.43 181.15 224.12 178.44 223.27z" fill="#48186a"/>
<path d="M179.59 225.43 182.32 226.28 183.87 224.97 181.15 224.12z" fill="#48186a"/>
<path d="M182.32 226.28 185.04 227.12 186.6 225.82 183.87 224.97z" fill="#481769"/>
<path d="M185.04 227.12 187.77 227.96 189.33 226.68 186.6 225.82z" fill="#481769"/>
<path d="M187.77 227.96 190.51 228.81 192.06 227.54 189.33 226.68z" fill="#481668"/>
<path d="M190.51 228.81 193.25 229.66 194.79 228.4 192.06 227.54z" fill="#481668"/>
<path d="M193.25 229.66 195.99 230.52 197.53 229.26 194.79 228.4z" fill="#481467"/>
<path d="M195.99 230.52 198.74 231.37 200.28 230.13 197.53 229.26z" fill="#481467"/>
<path d="M198.74 231.37 201.49 232.23 203.03 231 200.28 230.13z" fill="#471365"/>
<path d="M201.49 232.23 204.25 233.1 205.78 231.87 203.03 231z" fill="#471365"/>
<path d="M204.25 233.1 207.01 233.96 208.54 232.75 205.78 231.87z" fill="#471164"/>
<path d="M207.01 233.96 209.77 234.83 211.3 233.62 208.54 232.75z" fill="#471164"/>
<path d="M103.4 204.52 106.01 205.28 107.63 203.7 105.02 202.93z" fill="#481c6e"/>
<path d="M106.01 205.28 108.63 206.04 110.25 204.47 107.63 203.7z" fill="#481c6e"/>
<path d="M108.63 206.04 111.24 206.8 112.86 205.25 110.25 204.47z" fill="#481c6e"/>
<path d="M111.24 206.8 113.87 207.57 115.48 206.02 112.86 205.25z" fill="#481c6e"/>
<path d="M113.87 207.57 116.49 208.34 118.11 206.8 115.48 206.02z" fill="#481d6f"/>
<path d="M116.49 208.34 119.12 209.11 120.74 207.59 118.11 206.8z" fill="#481d6f"/>
<path d="M119.12 209.11 121.76 209.89 123.37 208.37 120.74 207.59z" fill="#481d6f"/>
<path d="M121.76 209.89 124.4 210.66 126.01 209.16 123.37 208.37z" fill="#481d6f"/>
<path d="M124.4 210.66 127.04 211.44 128.65 209.95 126.01 209.16z" fill="#481d6f"/>
<path d="M127.04 211.44 129.69 212.22 131.29 210.74 128.65 209.95z" fill="#481d6f"/>
<path d="M129.69 212.22 132.34 213.01 133.94 211.54 131.29 210.74z" fill="#481d6f"/>
<path d="M132.34 213.01 134.99 213.8 136.59 212.33 133.94 211.54z" fill="#481d6f"/>
<path d="M134.99 213.8 137.65 214.58 139.25 213.13 136.59 212.33z" fill="#481d6f"/>
<path d="M137.65 214.58 140.31 215.38 141.91 213.93 139.25 213.13z" fill="#481d6f"/>
<path d="M140.31 215.38 142.98 216.17 144.58 214.74 141.91 213.93z" fill="#481d6f"/>
<path d="M142.98 216.17 145.65 216.97 147.25 215.55 144.58 214.74z" fill="#481d6f"/>
<path d="M145.65 216.97 148.33 217.77 149.92 216.36 147.25 215.55z" fill="#481c6e"/>
<path d="M148.33 217.77 151.01 218.57 152.6 217.17 149.92 216.36z" fill="#481c6e"/>
<path d="M151.01 218.57 153.69 219.37 155.28 217.98 152.6 217.17z" fill="#481c6e"/>
<path d="M153.69 219.37 156.38 220.18 157.96 218.8 155.28 217.98z" fill="#481c6e"/>
<path d="M156.38 220.18 159.07 220.99 160.65 219.62 157.96 218.8z" fill="#481c6e"/>
<path d="M159.07 220.99 161.77 221.8 163.35 220.44 160.65 219.62z" fill="#481c6e"/>
<path d="M161.77 221.8 164.47 222.62 166.04 221.27 163.35 220.44z" fill="#481c6e"/>
<path d="M164.47 222.62 167.17 223.44 168.75 222.1 166.04 221.27z" fill="#481b6d"/>
<path d="M167.17 223.44 169.88 224.26 171.45 222.93 168.75 222.1z" fill="#481b6d"/>
<path d="M169.88 224.26 172.59 225.08 174.16 223.76 171.45 222.93z" fill="#481b6d"/>
<path d="M172.59 225.08 175.31 225.9 176.88 224.6 174.16 223.76z" fill="#481b6d"/>
<path d="M175.31 225.9 178.03 226.73 179.59 225.43 176.88 224.6z" fill="#481a6c"/>
<path d="M178.03 226.73 180.76 227.56 182.32 226.28 179.59 225.43z" fill="#481a6c"/>
<path d="M180.76 227.56 183.48 228.39 185.04 227.12 182.32 226.28z" fill="#481a6c"/>
<path d="M183.48 228.39 186.22 229.23 187.77 227.96 185.04 227.12z" fill="#48186a"/>
<path d="M186.22 229.23 188.96 230.07 190.51 228.81 187.77 227.96z" fill="#48186a"/>
<path d="M188.96 230.07 191.7 230.91 193.25 229.66 190.51 228.81z" fill="#48186a"/>
<path d="M191.7 230.91 194.44 231.75 195.99 230.52 193.25 229.66z" fill="#481769"/>
<path d="M194.44 231.75 197.19 232.6 198.74 231.37 195.99 230.52z" fill="#481769"/>
<path d="M197.19 232.6 199.95 233.45 201.49 232.23 198.74 231.37z" fill="#481769"/>
<path d="M199.95 233.45 202.71 234.3 204.25 233.1 201.49 232.23z" fill="#481668"/>
<path d="M202.71 234.3 205.47 235.15 207.01 233.96 204.25 233.1z" fill="#481668"/>
<path d="M205.47 235.15 208.24 236.01 209.77 234.83 207.01 233.96z" fill="#481467"/>
<path d="M101.77 206.08 104.39 206.83 106.01 205.28 103.4 204.52z" fill="#48186a"/>
<path d="M104.39 206.83 107 207.58 108.63 206.04 106.01 205.28z" fill="#481a6c"/>
<path d="M107 207.58 109.62 208.34 111.24 206.8 108.63 206.04z" fill="#481a6c"/>
<path d="M109.62 208.34 112.25 209.09 113.87 207.57 111.24 206.8z" fill="#481a6c"/>
<path d="M112.25 209.09 114.88 209.85 116.49 208.34 113.87 207.57z" fill="#481a6c"/>
<path d="M114.88 209.85 117.51 210.61 119.12 209.11 116.49 208.34z" fill="#481b6d"/>
<path d="M117.51 210.61 120.14 211.38 121.76 209.89 119.12 209.11z" fill="#481b6d"/>
<path d="M120.14 211.38 122.78 212.15 124.4 210.66 121.76 209.89z" fill="#481b6d"/>
<path d="M122.78 212.15 125.43 212.91 127.04 211.44 124.4 210.66z" fill="#481b6d"/>
<path d="M125.43 212.91 128.08 213.69 129.69 212.22 127.04 211.44z" fill="#481b6d"/>
<path d="M128.08 213.69 130.73 214.46 132.34 213.01 129.69 212.22z" fill="#481c6e"/>
<path d="M130.73 214.46 133.39 215.24 134.99 213.8 132.34 213.01z" fill="#481c6e"/>
<path d="M133.39 215.24 136.05 216.02 137.65 214.58 134.99 213.8z" fill="#481c6e"/>
<path d="M136.05 216.02 138.71 216.8 140.31 215.38 137.65 214.58z" fill="#481c6e"/>
<path d="M138.71 216.8 141.38 217.58 142.98 216.17 140.31 215.38z" fill="#481c6e"/>
<path d="M141.38 217.58 144.06 218.37 145.65 216.97 142.98 216.17z" fill="#481c6e"/>
<path d="M144.06 218.37 146.73 219.16 148.33 217.77 145.65 216.97z" fill="#481c6e"/>
<path d="M146.73 219.16 149.42 219.95 151.01 218.57 148.33 217.77z" fill="#481c6e"/>
<path d="M149.42 219.95 152.1 220.74 153.69 219.37 151.01 218.57z" fill="#481c6e"/>
<path d="M152.1 220.74 154.79 221.54 156.38 220.18 153.69 219.37z" fill="#481c6e"/>
<path d="M154.79 221.54 157.49 222.34 159.07 220.99 156.38 220.18z" fill="#481c6e"/>
<path d="M157.49 222.34 160.18 223.14 161.77 221.8 159.07 220.99z" fill="#481c6e"/>
<path d="M160.18 223.14 162.89 223.95 164.47 222.62 161.77 221.8z" fill="#481c6e"/>
<path d="M162.89 223.95 165.59 224.75 167.17 223.44 164.47 222.62z" fill="#481c6e"/>
<path d="M165.59 224.75 168.3 225.56 169.88 224.26 167.17 223.44z" fill="#481c6e"/>
<path d="M168.3 225.56 171.02 226.38 172.59 225.08 169.88 224.26z" fill="#481c6e"/>
<path d="M171.02 226.38 173.74 227.19 175.31 225.9 172.59 225.08z" fill="#481c6e"/>
<path d="M173.74 227.19 176.46 228.01 178.03 226.73 175.31 225.9z" fill="#481c6e"/>
<path d="M176.46 228.01 179.19 228.83 180.76 227.56 178.03 226.73z" fill="#481c6e"/>
<path d="M179.19 228.83 181.92 229.65 183.48 228.39 180.76 227.56z" fill="#481b6d"/>
<path d="M181.92 229.65 184.66 230.47 186.22 229.23 183.48 228.39z" fill="#481b6d"/>
<path d="M184.66 230.47 187.4 231.3 188.96 230.07 186.22 229.23z" fill="#481b6d"/>
<path d="M187.4 231.3 190.14 232.13 191.7 230.91 188.96 230.07z" fill="#481b6d"/>
<path d="M190.14 232.13 192.89 232.97 194.44 231.75 191.7 230.91z" fill="#481b6d"/>
<path d="M192.89 232.97 195.64 233.8 197.19 232.6 194.44 231.75z" fill="#481a6c"/>
<path d="M195.64 233.8 198.4 234.64 199.95 233.45 197.19 232.6z" fill="#481a6c"/>
<path d="M198.4 234.64 201.16 235.48 202.71 234.3 199.95 233.45z" fill="#481a6c"/>
<path d="M201.16 235.48 203.93 236.32 205.47 235.15 202.71 234.3z" fill="#481a6c"/>
<path d="M203.93 236.32 206.7 237.17 208.24 236.01 205.47 235.15z" fill="#48186a"/>
<path d="M100.14 207.63 102.76 208.37 104.39 206.83 101.77 206.08z" fill="#481668"/>
<path d="M102.76 208.37 105.37 209.11 107 207.58 104.39 206.83z" fill="#481668"/>
<path d="M105.37 209.11 108 209.85 109.62 208.34 107 207.58z" fill="#481769"/>
<path d="M108 209.85 110.62 210.6 112.25 209.09 109.62 208.34z" fill="#481769"/>
<path d="M110.62 210.6 113.25 211.35 114.88 209.85 112.25 209.09z" fill="#48186a"/>
<path d="M113.25 211.35 115.89 212.1 117.51 210.61 114.88 209.85z" fill="#48186a"/>
<path d="M115.89 212.1 118.52 212.85 120.14 211.38 117.51 210.61z" fill="#48186a"/>
<path d="M118.52 212.85 121.17 213.61 122.78 212.15 120.14 211.38z" fill="#481a6c"/>
<path d="M121.17 213.61 123.81 214.37 125.43 212.91 122.78 212.15z" fill="#481a6c"/>
<path d="M123.81 214.37 126.46 215.13 128.08 213.69 125.43 212.91z" fill="#481a6c"/>
<path d="M126.46 215.13 129.12 215.89 130.73 214.46 128.08 213.69z" fill="#481b6d"/>
<path d="M129.12 215.89 131.78 216.66 133.39 215.24 130.73 214.46z" fill="#481b6d"/>
<path d="M131.78 216.66 134.44 217.43 136.05 216.02 133.39 215.24z" fill="#481b6d"/>
<path d="M134.44 217.43 137.11 218.2 138.71 216.8 136.05 216.02z" fill="#481b6d"/>
<path d="M137.11 218.2 139.78 218.97 141.38 217.58 138.71 216.8z" fill="#481c6e"/>
<path d="M139.78 218.97 142.46 219.75 144.06 218.37 141.38 217.58z" fill="#481c6e"/>
<path d="M142.46 219.75 145.14 220.53 146.73 219.16 144.06 218.37z" fill="#481c6e"/>
<path d="M145.14 220.53 147.82 221.31 149.42 219.95 146.73 219.16z" fill="#481c6e"/>
<path d="M147.82 221.31 150.51 222.09 152.1 220.74 149.42 219.95z" fill="#481c6e"/>
<path d="M150.51 222.09 153.2 222.88 154.79 221.54 152.1 220.74z" fill="#481d6f"/>
<path d="M153.2 222.88 155.9 223.67 157.49 222.34 154.79 221.54z" fill="#481d6f"/>
<path d="M155.9 223.67 158.6 224.46 160.18 223.14 157.49 222.34z" fill="#481d6f"/>
<path d="M158.6 224.46 161.3 225.25 162.89 223.95 160.18 223.14z" fill="#481d6f"/>
<path d="M161.3 225.25 164.01 226.05 165.59 224.75 162.89 223.95z" fill="#481d6f"/>
<path d="M164.01 226.05 166.72 226.85 168.3 225.56 165.59 224.75z" fill="#481d6f"/>
<path d="M166.72 226.85 169.44 227.65 171.02 226.38 168.3 225.56z" fill="#481d6f"/>
<path d="M169.44 227.65 172.16 228.45 173.74 227.19 171.02 226.38z" fill="#481d6f"/>
<path d="M172.16 228.45 174.89 229.26 176.46 228.01 173.74 227.19z" fill="#481d6f"/>
<path d="M174.89 229.26 177.62 230.07 179.19 228.83 176.46 228.01z" fill="#481d6f"/>
<path d="M177.62 230.07 180.35 230.88 181.92 229.65 179.19 228.83z" fill="#481d6f"/>
<path d="M180.35 230.88 183.09 231.7 184.66 230.47 181.92 229.65z" fill="#481d6f"/>
<path d="M183.09 231.7 185.84 232.51 187.4 231.3 184.66 230.47z" fill="#481d6f"/>
<path d="M185.84 232.51 188.58 233.33 190.14 232.13 187.4 231.3z" fill="#481d6f"/>
<path d="M188.58 233.33 191.34 234.16 192.89 232.97 190.14 232.13z" fill="#481d6f"/>
<path d="M191.34 234.16 194.09 234.98 195.64 233.8 192.89 232.97z" fill="#481d6f"/>
<path d="M194.09 234.98 196.85 235.81 198.4 234.64 195.64 233.8z" fill="#481d6f"/>
<path d="M196.85 235.81 199.62 236.64 201.16 235.48 198.4 234.64z" fill="#481d6f"/>
<path d="M199.62 236.64 202.38 237.47 203.93 236.32 201.16 235.48z" fill="#481d6f"/>
<path d="M202.38 237.47 205.16 238.31 206.7 237.17 203.93 236.32z" fill="#481d6f"/>
<path d="M98.5 209.15 101.12 209.88 102.76 208.37 100.14 207.63z" fill="#471365"/>
<path d="M101.12 209.88 103.74 210.61 105.37 209.11 102.76 208.37z" fill="#471365"/>
<path d="M103.74 210.61 106.36 211.34 108 209.85 105.37 209.11z" fill="#481467"/>
<path d="M106.36 211.34 108.99 212.08 110.62 210.6 108 209.85z" fill="#481467"/>
<path d="M108.99 212.08 111.62 212.82 113.25 211.35 110.62 210.6z" fill="#481668"/>
<path d="M111.62 212.82 114.26 213.56 115.89 212.1 113.25 211.35z" fill="#481769"/>
<path d="M114.26 213.56 116.9 214.3 118.52 212.85 115.89 212.1z" fill="#481769"/>
<path d="M116.9 214.3 119.55 215.05 121.17 213.61 118.52 212.85z" fill="#48186a"/>
<path d="M119.55 215.05 122.19 215.8 123.81 214.37 121.17 213.61z" fill="#48186a"/>
<path d="M122.19 215.8 124.85 216.55 126.46 215.13 123.81 214.37z" fill="#481a6c"/>
<path d="M124.85 216.55 127.5 217.3 129.12 215.89 126.46 215.13z" fill="#481a6c"/>
<path d="M127.5 217.3 130.16 218.06 131.78 216.66 129.12 215.89z" fill="#481a6c"/>
<path d="M130.16 218.06 132.83 218.82 134.44 217.43 131.78 216.66z" fill="#481b6d"/>
<path d="M132.83 218.82 135.5 219.58 137.11 218.2 134.44 217.43z" fill="#481b6d"/>
<path d="M135.5 219.58 138.17 220.34 139.78 218.97 137.11 218.2z" fill="#481c6e"/>
<path d="M138.17 220.34 140.85 221.11 142.46 219.75 139.78 218.97z" fill="#481c6e"/>
<path d="M140.85 221.11 143.53 221.87 145.14 220.53 142.46 219.75z" fill="#481c6e"/>
<path d="M143.53 221.87 146.22 222.64 147.82 221.31 145.14 220.53z" fill="#481d6f"/>
<path d="M146.22 222.64 148.91 223.42 150.51 222.09 147.82 221.31z" fill="#481d6f"/>
<path d="M148.91 223.42 151.6 224.19 153.2 222.88 150.51 222.09z" fill="#481d6f"/>
<path d="M151.6 224.19 154.3 224.97 155.9 223.67 153.2 222.88z" fill="#481f70"/>
<path d="M154.3 224.97 157.01 225.75 158.6 224.46 155.9 223.67z" fill="#481f70"/>
<path d="M157.01 225.75 159.71 226.54 161.3 225.25 158.6 224.46z" fill="#481f70"/>
<path d="M159.71 226.54 162.42 227.32 164.01 226.05 161.3 225.25z" fill="#482071"/>
<path d="M162.42 227.32 165.14 228.11 166.72 226.85 164.01 226.05z" fill="#482071"/>
<path d="M165.14 228.11 167.86 228.9 169.44 227.65 166.72 226.85z" fill="#482071"/>
<path d="M167.86 228.9 170.58 229.7 172.16 228.45 169.44 227.65z" fill="#482071"/>
<path d="M170.58 229.7 173.31 230.49 174.89 229.26 172.16 228.45z" fill="#482071"/>
<path d="M173.31 230.49 176.05 231.29 177.62 230.07 174.89 229.26z" fill="#482173"/>
<path d="M176.05 231.29 178.78 232.09 180.35 230.88 177.62 230.07z" fill="#482173"/>
<path d="M178.78 232.09 181.52 232.9 183.09 231.7 180.35 230.88z" fill="#482173"/>
<path d="M181.52 232.9 184.27 233.7 185.84 232.51 183.09 231.7z" fill="#482173"/>
<path d="M184.27 233.7 187.02 234.51 188.58 233.33 185.84 232.51z" fill="#482173"/>
<path d="M187.02 234.51 189.77 235.32 191.34 234.16 188.58 233.33z" fill="#482173"/>
<path d="M189.77 235.32 192.53 236.14 194.09 234.98 191.34 234.16z" fill="#482173"/>
<path d="M192.53 236.14 195.3 236.96 196.85 235.81 194.09 234.98z" fill="#482173"/>
<path d="M195.3 236.96 198.06 237.78 199.62 236.64 196.85 235.81z" fill="#482173"/>
<path d="M198.06 237.78 200.84 238.6 202.38 237.47 199.62 236.64z" fill="#482173"/>
<path d="M200.84 238.6 203.61 239.42 205.16 238.31 202.38 237.47z" fill="#482173"/>
<path d="M96.86 210.65 99.48 211.37 101.12 209.88 98.5 209.15z" fill="#471063"/>
<path d="M99.48 211.37 102.1 212.09 103.74 210.61 101.12 209.88z" fill="#471164"/>
<path d="M102.1 212.09 104.73 212.81 106.36 211.34 103.74 210.61z" fill="#471164"/>
<path d="M104.73 212.81 107.36 213.54 108.99 212.08 106.36 211.34z" fill="#471365"/>
<path d="M107.36 213.54 109.99 214.27 111.62 212.82 108.99 212.08z" fill="#481467"/>
<path d="M109.99 214.27 112.63 215 114.26 213.56 111.62 212.82z" fill="#481668"/>
<path d="M112.63 215 115.27 215.73 116.9 214.3 114.26 213.56z" fill="#481668"/>
<path d="M115.27 215.73 117.92 216.47 119.55 215.05 116.9 214.3z" fill="#481769"/>
<path d="M117.92 216.47 120.57 217.21 122.19 215.8 119.55 215.05z" fill="#481769"/>
<path d="M120.57 217.21 123.22 217.95 124.85 216.55 122.19 215.8z" fill="#48186a"/>
<path d="M123.22 217.95 125.88 218.69 127.5 217.3 124.85 216.55z" fill="#481a6c"/>
<path d="M125.88 218.69 128.55 219.43 130.16 218.06 127.5 217.3z" fill="#481a6c"/>
<path d="M128.55 219.43 131.21 220.18 132.83 218.82 130.16 218.06z" fill="#481b6d"/>
<path d="M131.21 220.18 133.88 220.93 135.5 219.58 132.83 218.82z" fill="#481b6d"/>
<path d="M133.88 220.93 136.56 221.69 138.17 220.34 135.5 219.58z" fill="#481c6e"/>
<path d="M136.56 221.69 139.24 222.44 140.85 221.11 138.17 220.34z" fill="#481d6f"/>
<path d="M139.24 222.44 141.92 223.2 143.53 221.87 140.85 221.11z" fill="#481d6f"/>
<path d="M141.92 223.2 144.61 223.96 146.22 222.64 143.53 221.87z" fill="#481f70"/>
<path d="M144.61 223.96 147.31 224.72 148.91 223.42 146.22 222.64z" fill="#481f70"/>
<path d="M147.31 224.72 150 225.49 151.6 224.19 148.91 223.42z" fill="#481f70"/>
<path d="M150 225.49 152.7 226.26 154.3 224.97 151.6 224.19z" fill="#482071"/>
<path d="M152.7 226.26 155.41 227.03 157.01 225.75 154.3 224.97z" fill="#482071"/>
<path d="M155.41 227.03 158.12 227.8 159.71 226.54 157.01 225.75z" fill="#482173"/>
<path d="M158.12 227.8 160.83 228.58 162.42 227.32 159.71 226.54z" fill="#482173"/>
<path d="M160.83 228.58 163.55 229.35 165.14 228.11 162.42 227.32z" fill="#482374"/>
<path d="M163.55 229.35 166.27 230.13 167.86 228.9 165.14 228.11z" fill="#482374"/>
<path d="M166.27 230.13 169 230.92 170.58 229.7 167.86 228.9z" fill="#482374"/>
<path d="M169 230.92 171.73 231.7 173.31 230.49 170.58 229.7z" fill="#482475"/>
<path d="M171.73 231.7 174.47 232.49 176.05 231.29 173.31 230.49z" fill="#482475"/>
<path d="M174.47 232.49 177.21 233.28 178.78 232.09 176.05 231.29z" fill="#482475"/>
<path d="M177.21 233.28 179.95 234.08 181.52 232.9 178.78 232.09z" fill="#482576"/>
<path d="M179.95 234.08 182.7 234.87 184.27 233.7 181.52 232.9z" fill="#482576"/>
<path d="M182.7 234.87 185.45 235.67 187.02 234.51 184.27 233.7z" fill="#482576"/>
<path d="M185.45 235.67 188.21 236.47 189.77 235.32 187.02 234.51z" fill="#482576"/>
<path d="M188.21 236.47 190.97 237.28 192.53 236.14 189.77 235.32z" fill="#482677"/>
<path d="M190.97 237.28 193.74 238.08 195.3 236.96 192.53 236.14z" fill="#482677"/>
<path d="M193.74 238.08 196.51 238.89 198.06 237.78 195.3 236.96z" fill="#482677"/>
<path d="M196.51 238.89 199.28 239.7 200.84 238.6 198.06 237.78z" fill="#482677"/>
<path d="M199.28 239.7 202.06 240.52 203.61 239.42 200.84 238.6z" fill="#482677"/>
<path d="M95.22 212.13 97.84 212.84 99.48 211.37 96.86 210.65z" fill="#470d60"/>
<path d="M97.84 212.84 100.46 213.55 102.1 212.09 99.48 211.37z" fill="#470e61"/>
<path d="M100.46 213.55 103.09 214.26 104.73 212.81 102.1 212.09z" fill="#471063"/>
<path d="M103.09 214.26 105.72 214.98 107.36 213.54 104.73 212.81z" fill="#471164"/>
<path d="M105.72 214.98 108.35 215.7 109.99 214.27 107.36 213.54z" fill="#471365"/>
<path d="M108.35 215.7 110.99 216.42 112.63 215 109.99 214.27z" fill="#481467"/>
<path d="M110.99 216.42 113.64 217.14 115.27 215.73 112.63 215z" fill="#481668"/>
<path d="M113.64 217.14 116.29 217.87 117.92 216.47 115.27 215.73z" fill="#481668"/>
<path d="M116.29 217.87 118.94 218.59 120.57 217.21 117.92 216.47z" fill="#481769"/>
<path d="M118.94 218.59 121.6 219.32 123.22 217.95 120.57 217.21z" fill="#48186a"/>
<path d="M121.6 219.32 124.26 220.06 125.88 218.69 123.22 217.95z" fill="#481a6c"/>
<path d="M124.26 220.06 126.92 220.79 128.55 219.43 125.88 218.69z" fill="#481a6c"/>
<path d="M126.92 220.79 129.59 221.53 131.21 220.18 128.55 219.43z" fill="#481b6d"/>
<path d="M129.59 221.53 132.27 222.27 133.88 220.93 131.21 220.18z" fill="#481c6e"/>
<path d="M132.27 222.27 134.94 223.01 136.56 221.69 133.88 220.93z" fill="#481d6f"/>
<path d="M134.94 223.01 137.63 223.76 139.24 222.44 136.56 221.69z" fill="#481d6f"/>
<path d="M137.63 223.76 140.31 224.5 141.92 223.2 139.24 222.44z" fill="#481f70"/>
<path d="M140.31 224.5 143 225.25 144.61 223.96 141.92 223.2z" fill="#482071"/>
<path d="M143 225.25 145.7 226.01 147.31 224.72 144.61 223.96z" fill="#482071"/>
<path d="M145.7 226.01 148.4 226.76 150 225.49 147.31 224.72z" fill="#482173"/>
<path d="M148.4 226.76 151.1 227.52 152.7 226.26 150 225.49z" fill="#482173"/>
<path d="M151.1 227.52 153.81 228.28 155.41 227.03 152.7 226.26z" fill="#482374"/>
<path d="M153.81 228.28 156.52 229.04 158.12 227.8 155.41 227.03z" fill="#482475"/>
<path d="M156.52 229.04 159.24 229.81 160.83 228.58 158.12 227.8z" fill="#482475"/>
<path d="M159.24 229.81 161.96 230.57 163.55 229.35 160.83 228.58z" fill="#482576"/>
<path d="M161.96 230.57 164.68 231.34 166.27 230.13 163.55 229.35z" fill="#482576"/>
<path d="M164.68 231.34 167.41 232.12 169 230.92 166.27 230.13z" fill="#482677"/>
<path d="M167.41 232.12 170.15 232.89 171.73 231.7 169 230.92z" fill="#482677"/>
<path d="M170.15 232.89 172.88 233.67 174.47 232.49 171.73 231.7z" fill="#482878"/>
<path d="M172.88 233.67 175.63 234.45 177.21 233.28 174.47 232.49z" fill="#482878"/>
<path d="M175.63 234.45 178.37 235.23 179.95 234.08 177.21 233.28z" fill="#482979"/>
<path d="M178.37 235.23 181.13 236.02 182.7 234.87 179.95 234.08z" fill="#482979"/>
<path d="M181.13 236.02 183.88 236.81 185.45 235.67 182.7 234.87z" fill="#482979"/>
<path d="M183.88 236.81 186.64 237.6 188.21 236.47 185.45 235.67z" fill="#472a7a"/>
<path d="M186.64 237.6 189.4 238.39 190.97 237.28 188.21 236.47z" fill="#472a7a"/>
<path d="M189.4 238.39 192.17 239.19 193.74 238.08 190.97 237.28z" fill="#472c7a"/>
<path d="M192.17 239.19 194.95 239.98 196.51 238.89 193.74 238.08z" fill="#472c7a"/>
<path d="M194.95 239.98 197.72 240.79 199.28 239.7 196.51 238.89z" fill="#472c7a"/>
<path d="M197.72 240.79 200.51 241.59 202.06 240.52 199.28 239.7z" fill="#472d7b"/>
<path d="M93.57 213.59 96.19 214.29 97.84 212.84 95.22 212.13z" fill="#460b5e"/>
<path d="M96.19 214.29 98.81 214.99 100.46 213.55 97.84 212.84z" fill="#470d60"/>
<path d="M98.81 214.99 101.44 215.69 103.09 214.26 100.46 213.55z" fill="#470e61"/>
<path d="M101.44 215.69 104.07 216.4 105.72 214.98 103.09 214.26z" fill="#471063"/>
<path d="M104.07 216.4 106.71 217.11 108.35 215.7 105.72 214.98z" fill="#471164"/>
<path d="M106.71 217.11 109.35 217.82 110.99 216.42 108.35 215.7z" fill="#471365"/>
<path d="M109.35 217.82 112 218.53 113.64 217.14 110.99 216.42z" fill="#481467"/>
<path d="M112 218.53 114.65 219.24 116.29 217.87 113.64 217.14z" fill="#481668"/>
<path d="M114.65 219.24 117.31 219.96 118.94 218.59 116.29 217.87z" fill="#481769"/>
<path d="M117.31 219.96 119.96 220.68 121.6 219.32 118.94 218.59z" fill="#48186a"/>
<path d="M119.96 220.68 122.63 221.4 124.26 220.06 121.6 219.32z" fill="#481a6c"/>
<path d="M122.63 221.4 125.29 222.13 126.92 220.79 124.26 220.06z" fill="#481b6d"/>
<path d="M125.29 222.13 127.97 222.85 129.59 221.53 126.92 220.79z" fill="#481c6e"/>
<path d="M127.97 222.85 130.64 223.58 132.27 222.27 129.59 221.53z" fill="#481d6f"/>
<path d="M130.64 223.58 133.32 224.31 134.94 223.01 132.27 222.27z" fill="#481f70"/>
<path d="M133.32 224.31 136.01 225.05 137.63 223.76 134.94 223.01z" fill="#481f70"/>
<path d="M136.01 225.05 138.7 225.79 140.31 224.5 137.63 223.76z" fill="#482071"/>
<path d="M138.7 225.79 141.39 226.53 143 225.25 140.31 224.5z" fill="#482173"/>
<path d="M141.39 226.53 144.09 227.27 145.7 226.01 143 225.25z" fill="#482374"/>
<path d="M144.09 227.27 146.79 228.01 148.4 226.76 145.7 226.01z" fill="#482475"/>
<path d="M146.79 228.01 149.49 228.76 151.1 227.52 148.4 226.76z" fill="#482475"/>
<path d="M149.49 228.76 152.2 229.51 153.81 228.28 151.1 227.52z" fill="#482576"/>
<path d="M152.2 229.51 154.92 230.26 156.52 229.04 153.81 228.28z" fill="#482677"/>
<path d="M154.92 230.26 157.64 231.01 159.24 229.81 156.52 229.04z" fill="#482677"/>
<path d="M157.64 231.01 160.36 231.77 161.96 230.57 159.24 229.81z" fill="#482878"/>
<path d="M160.36 231.77 163.09 232.53 164.68 231.34 161.96 230.57z" fill="#482979"/>
<path d="M163.09 232.53 165.82 233.29 167.41 232.12 164.68 231.34z" fill="#482979"/>
<path d="M165.82 233.29 168.56 234.06 170.15 232.89 167.41 232.12z" fill="#472a7a"/>
<path d="M168.56 234.06 171.3 234.83 172.88 233.67 170.15 232.89z" fill="#472c7a"/>
<path d="M171.3 234.83 174.04 235.59 175.63 234.45 172.88 233.67z" fill="#472c7a"/>
<path d="M174.04 235.59 176.79 236.37 178.37 235.23 175.63 234.45z" fill="#472d7b"/>
<path d="M176.79 236.37 179.55 237.14 181.13 236.02 178.37 235.23z" fill="#472e7c"/>
<path d="M179.55 237.14 182.3 237.92 183.88 236.81 181.13 236.02z" fill="#472e7c"/>
<path d="M182.3 237.92 185.07 238.7 186.64 237.6 183.88 236.81z" fill="#472f7d"/>
<path d="M185.07 238.7 187.83 239.48 189.4 238.39 186.64 237.6z" fill="#472f7d"/>
<path d="M187.83 239.48 190.61 240.27 192.17 239.19 189.4 238.39z" fill="#46307e"/>
<path d="M190.61 240.27 193.38 241.05 194.95 239.98 192.17 239.19z" fill="#46307e"/>
<path d="M193.38 241.05 196.16 241.85 197.72 240.79 194.95 239.98z" fill="#46327e"/>
<path d="M196.16 241.85 198.95 242.64 200.51 241.59 197.72 240.79z" fill="#46327e"/>
<path d="M91.91 215.03 94.53 215.72 96.19 214.29 93.57 213.59z" fill="#460a5d"/>
<path d="M94.53 215.72 97.16 216.41 98.81 214.99 96.19 214.29z" fill="#460b5e"/>
<path d="M97.16 216.41 99.79 217.1 101.44 215.69 98.81 214.99z" fill="#470e61"/>
<path d="M99.79 217.1 102.43 217.8 104.07 216.4 101.44 215.69z" fill="#471063"/>
<path d="M102.43 217.8 105.07 218.49 106.71 217.11 104.07 216.4z" fill="#471164"/>
<path d="M105.07 218.49 107.71 219.19 109.35 217.82 106.71 217.11z" fill="#471365"/>
<path d="M107.71 219.19 110.36 219.89 112 218.53 109.35 217.82z" fill="#481467"/>
<path d="M110.36 219.89 113.01 220.6 114.65 219.24 112 218.53z" fill="#481668"/>
<path d="M113.01 220.6 115.67 221.31 117.31 219.96 114.65 219.24z" fill="#481769"/>
<path d="M115.67 221.31 118.33 222.01 119.96 220.68 117.31 219.96z" fill="#481a6c"/>
<path d="M118.33 222.01 120.99 222.73 122.63 221.4 119.96 220.68z" fill="#481b6d"/>
<path d="M120.99 222.73 123.66 223.44 125.29 222.13 122.63 221.4z" fill="#481c6e"/>
<path d="M123.66 223.44 126.34 224.16 127.97 222.85 125.29 222.13z" fill="#481d6f"/>
<path d="M126.34 224.16 129.01 224.88 130.64 223.58 127.97 222.85z" fill="#481f70"/>
<path d="M129.01 224.88 131.7 225.6 133.32 224.31 130.64 223.58z" fill="#482071"/>
<path d="M131.7 225.6 134.38 226.32 136.01 225.05 133.32 224.31z" fill="#482173"/>
<path d="M134.38 226.32 137.07 227.05 138.7 225.79 136.01 225.05z" fill="#482374"/>
<path d="M137.07 227.05 139.77 227.78 141.39 226.53 138.7 225.79z" fill="#482475"/>
<path d="M139.77 227.78 142.47 228.51 144.09 227.27 141.39 226.53z" fill="#482576"/>
<path d="M142.47 228.51 145.17 229.24 146.79 228.01 144.09 227.27z" fill="#482677"/>
<path d="M145.17 229.24 147.88 229.98 149.49 228.76 146.79 228.01z" fill="#482677"/>
<path d="M147.88 229.98 150.59 230.72 152.2 229.51 149.49 228.76z" fill="#482878"/>
<path d="M150.59 230.72 153.31 231.46 154.92 230.26 152.2 229.51z" fill="#482979"/>
<path d="M153.31 231.46 156.03 232.2 157.64 231.01 154.92 230.26z" fill="#472a7a"/>
<path d="M156.03 232.2 158.76 232.95 160.36 231.77 157.64 231.01z" fill="#472c7a"/>
<path d="M158.76 232.95 161.49 233.7 163.09 232.53 160.36 231.77z" fill="#472d7b"/>
<path d="M161.49 233.7 164.22 234.45 165.82 233.29 163.09 232.53z" fill="#472e7c"/>
<path d="M164.22 234.45 166.96 235.2 168.56 234.06 165.82 233.29z" fill="#472e7c"/>
<path d="M166.96 235.2 169.71 235.96 171.3 234.83 168.56 234.06z" fill="#472f7d"/>
<path d="M169.71 235.96 172.45 236.72 174.04 235.59 171.3 234.83z" fill="#46307e"/>
<path d="M172.45 236.72 175.21 237.48 176.79 236.37 174.04 235.59z" fill="#46327e"/>
<path d="M175.21 237.48 177.96 238.24 179.55 237.14 176.79 236.37z" fill="#46327e"/>
<path d="M177.96 238.24 180.72 239.01 182.3 237.92 179.55 237.14z" fill="#46337f"/>
<path d="M180.72 239.01 183.49 239.78 185.07 238.7 182.3 237.92z" fill="#463480"/>
<path d="M183.49 239.78 186.26 240.55 187.83 239.48 185.07 238.7z" fill="#463480"/>
<path d="M186.26 240.55 189.03 241.33 190.61 240.27 187.83 239.48z" fill="#453581"/>
<path d="M189.03 241.33 191.81 242.1 193.38 241.05 190.61 240.27z" fill="#453781"/>
<path d="M191.81 242.1 194.6 242.88 196.16 241.85 193.38 241.05z" fill="#453781"/>
<path d="M194.6 242.88 197.38 243.67 198.95 242.64 196.16 241.85z" fill="#453882"/>
</g>
<g id="text_25">
<text style="font-size: 11px; font-family: 'DejaVu Sans', 'Liberation Sans', sans-serif" transform="translate(84.092 16.014)">Response Surface: energy_cost</text>
<text style="font-size: 11px; font-family: 'DejaVu Sans', 'Liberation Sans', sans-serif" transform="translate(82.616 28.974)">reflux_ratio vs column_pressure</text>
</g>
</g>
<g id="colorbar" transform="translate(0 0.024) scale(0.48)">
<defs><linearGradient id="cbg" x1="0" y1="0" x2="0" y2="1"><stop offset="0" stop-color="#fde725"/><stop offset="0.0312" stop-color="#ece51b"/><stop offset="0.0625" stop-color="#d8e219"/><stop offset="0.0938" stop-color="#c2df23"/><stop offset="0.125" stop-color="#addc30"/><stop offset="0.1562" stop-color="#98d83e"/><stop offset="0.1875" stop-color="#84d44b"/><stop offset="0.2188" stop-color="#70cf57"/><stop offset="0.25" stop-color="#5ec962"/><stop offset="0.2812" stop-color="#4ec36b"/><stop offset="0.3125" stop-color="#3fbc73"/><stop offset="0.3438" stop-color="#32b67a"/><stop offset="0.375" stop-color="#28ae80"/><stop offset="0.4062" stop-color="#22a785"/><stop offset="0.4375" stop-color="#1fa088"/><stop offset="0.4688" stop-color="#1f988b"/><stop offset="0.5" stop-color="#21918c"/><stop offset="0.5312" stop-color="#23898e"/><stop offset="0.5625" stop-color="#26828e"/><stop offset="0.5938" stop-color="#297a8e"/><stop offset="0.625" stop-color="#2c728e"/><stop offset="0.6562" stop-color="#2f6b8e"/><stop offset="0.6875" stop-color="#33638d"/><stop offset="0.7188" stop-color="#375b8d"/><stop offset="0.75" stop-color="#3b528b"/><stop offset="0.7812" stop-color="#3e4989"/><stop offset="0.8125" stop-color="#424086"/><stop offset="0.8438" stop-color="#453781"/><stop offset="0.875" stop-color="#472d7b"/><stop offset="0.9062" stop-color="#482374"/><stop offset="0.9375" stop-color="#48186a"/><stop offset="0.9688" stop-color="#470d60"/><stop offset="1" stop-color="#440154"/></linearGradient></defs>
<rect x="805" y="237" width="35" height="347" fill="url(#cbg)" fill-opacity="0.85"/>
<g fill="none" stroke="#000" stroke-width="1.8">
<rect x="805" y="237" width="35" height="347"/>
<path d="M840 560 h7.3"/>
<path d="M840 512 h7.3"/>
<path d="M840 464 h7.3"/>
<path d="M840 416 h7.3"/>
<path d="M840 368 h7.3"/>
<path d="M840 320 h7.3"/>
<path d="M840 272 h7.3"/>
</g>
<g font-family="'DejaVu Sans', 'Liberation Sans', sans-serif" font-size="20.833" fill="#000">
<text x="854.7" y="568.9">27</text>
<text x="854.7" y="520.9">28</text>
<text x="854.7" y="472.9">29</text>
<text x="854.7" y="424.9">30</text>
<text x="854.7" y="376.9">31</text>
<text x="854.7" y="328.9">32</text>
<text x="854.7" y="280.9">33</text>
</g></g>
</g>
</svg>

</body></html>
